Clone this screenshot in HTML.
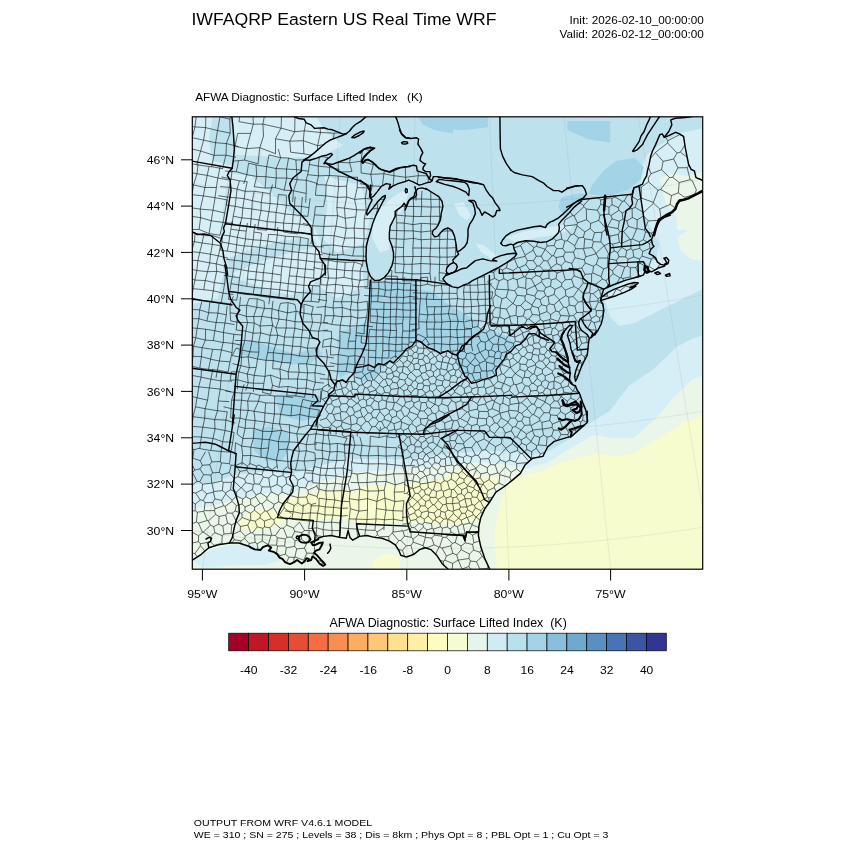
<!DOCTYPE html>
<html><head><meta charset="utf-8"><title>IWFAQRP Eastern US Real Time WRF</title>
<style>
html,body{margin:0;padding:0;background:#fff;}
body{width:850px;height:850px;overflow:hidden;position:relative;font-family:"Liberation Sans",Arial,Helvetica,sans-serif;color:#000;}
svg{position:absolute;left:0;top:0;}
text{font-family:"Liberation Sans",Arial,Helvetica,sans-serif;fill:#000;}
</style></head><body>
<svg width="850" height="850" viewBox="0 0 850 850">

<defs><clipPath id="fr"><rect x="192.3" y="116.8" width="510.4" height="452.4"/></clipPath>
<clipPath id="land"><path d="M187.3 111.8 L293.5 111.8 L293.5 116.4 L298.5 118.5 L304.1 119.2 L306.2 122.8 L311.2 124.9 L314.7 128.4 L323.9 127.7 L328.1 129.1 L332.4 129.8 L339.4 132.6 L342.9 134.1 L346.5 133.5 L342.2 135.5 L336.6 137.6 L330.9 139.7 L325.3 143.2 L319.6 148.2 L314.0 153.1 L308.4 157.4 L304.1 159.9 L309.8 160.2 L316.8 158.1 L322.5 155.9 L326.7 155.2 L330.9 153.4 L332.4 154.5 L329.5 157.4 L326.7 159.5 L323.9 163.7 L326.0 163.0 L328.1 163.7 L332.4 164.4 L338.0 162.3 L343.6 160.2 L349.3 158.1 L353.5 155.9 L357.8 153.1 L362.0 150.3 L366.2 148.2 L370.5 147.5 L374.7 148.2 L371.2 150.3 L367.6 153.1 L364.1 156.6 L362.0 160.2 L362.7 163.0 L364.8 160.2 L367.6 159.5 L371.9 161.6 L376.1 165.1 L378.9 168.6 L383.2 170.1 L387.4 171.5 L390.2 172.2 L394.5 170.1 L400.1 167.9 L405.8 167.0 L410.0 166.5 L413.6 165.3 L416.5 166.0 L417.2 170.9 L422.1 172.4 L426.4 173.8 L429.2 178.7 L432.0 180.8 L430.6 182.0 L426.4 182.9 L422.1 184.4 L419.3 185.1 L413.6 182.2 L408.7 180.1 L405.2 181.5 L398.1 183.6 L393.2 185.8 L388.9 189.3 L390.4 184.4 L386.1 183.6 L381.2 186.5 L376.9 192.1 L373.4 196.4 L370.6 197.8 L369.6 196.6 L372.1 199.9 L368.8 206.5 L366.4 213.1 L367.2 215.0 L372.9 208.1 L377.9 201.5 L382.8 196.6 L385.3 195.4 L385.3 197.4 L382.0 203.2 L378.7 209.8 L375.4 216.4 L372.9 222.9 L370.5 231.2 L368.0 239.4 L366.4 246.0 L366.0 255.9 L366.4 262.5 L368.0 270.7 L370.5 276.5 L374.6 280.6 L379.5 280.3 L384.5 277.3 L388.6 272.4 L391.9 265.8 L393.5 259.2 L393.5 252.6 L391.9 246.0 L389.4 239.4 L389.4 232.8 L390.2 226.2 L392.7 221.3 L395.2 216.4 L395.2 211.4 L398.5 208.9 L401.8 206.5 L404.2 203.2 L405.9 206.5 L408.4 201.5 L410.8 198.2 L414.9 197.4 L416.6 194.9 L415.1 192.1 L417.9 188.6 L422.1 187.9 L426.4 189.3 L425.6 188.4 L432.2 192.5 L438.8 196.6 L442.1 201.5 L442.9 206.5 L441.3 213.1 L440.5 219.6 L438.0 225.4 L435.5 228.7 L433.1 230.4 L432.2 233.6 L434.7 236.9 L438.0 236.1 L440.5 232.8 L443.8 229.5 L447.9 227.9 L452.0 230.4 L454.5 236.1 L456.1 244.4 L456.9 250.9 L458.6 254.2 L455.3 257.5 L452.8 260.0 L453.6 262.5 L450.4 264.1 L447.1 267.4 L446.2 270.7 L447.1 273.2 L445.4 275.6 L442.9 278.9 L446.2 283.1 L450.0 285.5 L449.9 285.3 L452.4 286.9 L458.1 287.8 L463.1 285.3 L468.0 283.6 L472.9 280.4 L479.5 277.1 L486.1 273.8 L492.7 270.5 L499.3 267.2 L505.9 263.1 L510.8 259.8 L514.9 256.5 L516.6 254.0 L516.6 254.0 L514.1 249.1 L513.3 244.9 L517.4 242.5 L525.6 240.8 L533.9 241.2 L540.5 242.5 L547.1 241.6 L552.0 239.2 L555.3 235.9 L558.6 232.6 L559.4 227.6 L558.6 224.4 L561.1 221.1 L564.4 217.8 L569.3 212.8 L574.2 207.1 L581.6 201.0 L581.5 199.5 L632.3 194.1 L632.2 194.0 L633.9 187.8 L638.4 186.2 L638.4 186.2 L642.5 184.2 L644.1 180.1 L646.6 175.9 L647.4 171.0 L649.1 164.4 L650.7 156.2 L652.4 151.2 L655.6 144.6 L659.8 134.8 L662.2 133.9 L664.2 137.2 L668.8 135.6 L675.4 132.3 L679.5 133.9 L683.6 136.4 L685.3 147.9 L688.6 164.4 L691.1 169.4 L694.4 171.0 L696.0 177.6 L700.1 179.2 L703.4 181.2 L707.7 181.2 L707.7 190.4 L703.4 190.4 L698.5 193.2 L693.5 195.7 L688.6 198.2 L683.6 199.8 L679.5 200.6 L677.1 203.9 L675.4 208.9 L672.1 212.2 L667.2 214.6 L662.2 217.9 L663.9 217.5 L659.8 220.8 L657.3 224.9 L655.6 229.8 L653.2 234.8 L651.5 239.7 L652.4 244.6 L654.0 246.3 L650.7 249.6 L649.1 253.7 L652.4 255.4 L655.6 257.8 L657.3 261.9 L660.6 264.4 L664.7 265.2 L668.0 263.6 L668.8 260.3 L666.4 257.5 L663.9 258.2 L665.5 260.3 L666.8 262.8 L664.7 264.1 L664.7 266.1 L658.9 267.7 L654.8 270.2 L651.5 271.8 L649.1 271.0 L647.4 272.6 L644.9 271.8 L643.3 275.1 L638.4 276.8 L632.6 278.4 L626.0 280.1 L619.4 282.5 L612.8 285.0 L607.1 287.5 L603.8 289.1 L602.1 294.1 L600.5 300.6 L602.9 303.9 L603.8 310.5 L602.9 317.1 L601.3 323.7 L598.0 330.3 L594.7 335.1 L596.4 331.1 L592.8 336.0 L590.7 338.1 L592.8 333.2 L590.0 330.4 L586.5 327.5 L583.6 323.3 L581.5 319.1 L580.1 319.1 L578.7 322.6 L579.4 326.8 L581.5 330.4 L584.4 332.5 L587.2 334.6 L589.3 338.1 L588.6 342.4 L587.9 349.1 L587.2 355.1 L584.4 360.7 L581.5 366.4 L579.4 372.0 L577.3 377.6 L575.5 381.2 L574.5 376.2 L575.9 370.6 L578.0 364.9 L580.1 360.7 L577.3 362.1 L575.2 360.7 L573.8 356.5 L572.4 352.9 L570.9 348.7 L570.2 343.8 L568.8 339.5 L567.4 335.3 L568.8 331.1 L571.6 327.5 L572.4 325.4 L569.5 325.4 L566.7 328.2 L563.9 331.8 L561.8 335.3 L561.1 339.5 L563.2 343.8 L564.6 348.0 L566.0 352.2 L567.4 356.5 L568.1 362.1 L569.5 367.8 L570.2 373.4 L569.5 379.1 L570.9 383.3 L573.8 385.4 L575.2 385.4 L577.3 390.4 L579.4 393.2 L582.9 403.1 L585.8 410.1 L587.2 417.2 L587.6 421.4 L587.2 422.5 L571.2 436.6 L566.5 437.6 L554.2 441.4 L547.6 447.0 L542.9 456.4 L532.6 458.3 L525.1 464.9 L520.4 473.4 L512.8 479.9 L504.4 486.5 L495.9 492.2 L489.3 502.5 L484.6 509.1 L480.8 517.6 L478.9 526.1 L478.4 535.5 L480.8 546.8 L484.6 558.1 L489.3 568.4 L491.2 571.2 L491.2 574.2 L449.8 574.2 L449.8 571.2 L447.9 569.0 L442.2 563.7 L436.6 555.2 L430.9 549.6 L425.3 547.7 L419.6 549.6 L414.0 554.3 L406.5 557.1 L400.8 555.2 L398.9 550.5 L395.2 544.9 L389.5 541.1 L382.0 538.3 L374.5 537.4 L366.9 535.5 L359.4 536.4 L352.8 540.2 L350.0 537.4 L348.1 530.8 L346.2 538.3 L339.6 537.4 L331.2 535.5 L323.6 536.4 L318.0 538.3 L318.2 539.4 L314.1 541.2 L311.2 542.4 L312.9 545.3 L315.9 544.7 L319.4 542.9 L322.9 542.4 L321.8 545.3 L319.4 549.4 L315.9 550.6 L314.1 552.9 L317.1 555.3 L320.6 559.4 L323.5 562.4 L325.3 564.7 L322.9 565.9 L319.4 563.5 L315.9 558.8 L312.4 556.5 L311.2 560.0 L307.6 561.2 L308.8 558.8 L306.5 558.2 L304.7 561.2 L301.8 563.5 L299.4 561.8 L297.1 560.0 L294.7 561.8 L290.0 564.1 L285.3 562.4 L282.4 558.8 L279.4 557.6 L277.1 554.1 L273.5 551.8 L268.8 550.6 L271.2 547.6 L267.6 545.3 L262.9 547.1 L260.6 550.0 L254.7 549.4 L250.0 547.1 L250.2 546.8 L238.9 543.0 L229.5 543.0 L218.2 544.9 L208.8 547.7 L201.3 554.3 L192.8 559.9 L190.9 560.9 L187.3 560.9Z M600.5 300.6 L601.3 297.4 L607.9 292.4 L614.5 289.1 L621.1 286.6 L627.6 284.2 L634.2 282.5 L638.4 283.0 L635.1 285.5 L630.1 287.5 L635.9 286.2 L630.9 289.4 L624.4 292.4 L616.1 295.7 L607.9 298.2 L600.5 300.6Z"/></clipPath></defs>
<g clip-path="url(#fr)">
<rect x="192.3" y="116.8" width="510.4" height="452.4" fill="#bde2ee"/>
<path d="M186.9 483.8 L208.4 483.8 L235.9 474.6 L266.5 471.5 L290.9 474.6 L318.5 465.4 L349.1 459.3 L373.5 459.3 L404.1 459.3 L450.0 453.8 L465.3 452.6 L480.6 451.6 L495.9 450.7 L511.2 452.6 L532.6 454.7 L550.9 450.1 L566.2 440.9 L588.9 424.1 L610.3 410.4 L628.6 385.9 L652.5 370.0 L665.3 358.0 L676.7 346.7 L692.0 339.1 L710.0 333.0 L710.0 584.7 L186.9 584.7Z" fill="#d6eef5"/>
<path d="M186.9 509.8 L214.5 505.2 L235.9 499.1 L266.5 492.9 L290.9 492.9 L318.5 482.2 L349.1 473.1 L373.5 470.9 L404.1 469.1 L450.0 463.9 L465.3 463.0 L483.6 462.4 L502.0 463.9 L526.5 468.5 L547.9 462.4 L572.4 447.1 L593.8 434.8 L612.1 437.9 L633.5 437.9 L654.9 419.5 L673.3 398.1 L691.6 379.8 L710.0 373.6 L710.0 584.7 L186.9 584.7Z" fill="#e9f6e8"/>
<path d="M497.6 574.9 L495.8 557.2 L494.2 533.6 L497.6 513.4 L506.2 486.2 L511.1 481.0 L521.2 476.1 L541.7 471.5 L562.2 462.0 L585.7 456.2 L597.9 453.2 L616.3 456.2 L634.6 453.2 L659.1 437.9 L683.6 422.6 L708.1 413.4 L708.1 572.5Z" fill="#f7fcce"/>
<path d="M278.7 511.3 L281.8 499.1 L312.4 492.9 L342.9 489.9 L355.2 492.9 L361.3 486.8 L385.8 485.3 L400.1 485.3 L411.8 482.8 L429.5 481.9 L446.9 477.0 L458.9 470.0 L465.9 468.8 L472.9 474.6 L482.4 477.0 L494.0 477.0 L499.9 478.3 L492.8 486.8 L489.5 491.1 L487.0 500.6 L482.4 512.5 L480.0 519.2 L465.0 522.9 L439.9 522.9 L420.0 522.0 L404.1 520.5 L385.8 523.5 L361.3 523.5 L342.9 517.4 L312.4 520.5 L290.9 520.5Z" fill="#f7fcce"/>
<path d="M238.9 523.5 L251.2 511.3 L269.5 508.2 L287.9 514.4 L281.8 523.5 L263.4 529.6 L245.1 529.6Z" fill="#f7fcce"/>
<path d="M646.9 154.8 L659.1 145.6 L677.5 133.4 L708.1 127.2 L708.1 286.3 L689.7 295.5 L671.4 304.6 L653.0 313.8 L634.6 323.0 L619.4 326.1 L610.2 316.9 L604.1 298.5 L616.3 286.3 L631.6 277.1 L646.9 267.9 L656.1 258.8 L659.1 243.5 L653.0 231.2 L643.8 215.9 L640.8 191.5 L640.8 170.1Z" fill="#d6eef5"/>
<path d="M659.1 179.2 L671.4 173.1 L686.6 176.2 L708.1 170.1 L708.1 261.8 L689.7 258.8 L680.5 249.6 L677.5 237.4 L686.6 231.2 L683.6 215.9 L674.4 206.8 L665.2 194.5Z" fill="#e9f6e8"/>
<path d="M662.9 178.2 L669.5 177.3 L674.2 181.1 L682.7 181.1 L688.4 182.0 L701.5 182.0 L705.0 187.6 L705.0 230.0 L677.1 230.0 L676.1 215.9 L671.4 210.2 L665.8 202.7 L662.9 195.2 L662.0 187.6Z" fill="#e9f6e8"/>
<path d="M588.8 194.5 L591.8 185.4 L604.1 170.1 L616.3 160.9 L634.6 157.8 L643.8 167.0 L640.8 179.2 L628.5 189.9 L610.2 195.1Z" fill="#a3d3e6"/>
<path d="M561.2 197.6 L579.6 193.0 L588.8 195.1 L576.5 206.8 L564.3 215.9 L558.2 206.8Z" fill="#a3d3e6"/>
<path d="M443.5 113.5 L487.8 113.5 L487.8 127.2 L463.4 130.3 L443.5 128.8Z" fill="#a3d3e6"/>
<path d="M567.4 121.1 L610.2 121.1 L610.2 142.5 L588.8 139.5 L567.4 130.3Z" fill="#a3d3e6"/>
<path d="M506.2 237.4 L524.5 231.2 L545.9 228.2 L561.2 225.1 L573.5 226.6 L561.2 234.3 L536.8 237.4 L515.4 241.9Z" fill="#d6eef5"/>
<path d="M454.2 203.7 L463.4 202.2 L471.0 215.9 L466.4 220.5 L458.8 214.4Z" fill="#d6eef5"/>
<path d="M475.6 243.5 L483.2 245.0 L497.0 255.7 L493.9 260.3 L481.7 252.6Z" fill="#d6eef5"/>
<path d="M190.0 115.0 L212.9 115.0 L209.0 139.5 L212.0 160.9 L231.3 165.5 L228.2 176.2 L223.6 206.8 L220.6 237.4 L223.6 274.1 L217.5 298.5 L190.0 304.6Z" fill="#d6eef5"/>
<path d="M232.8 115.0 L315.4 115.0 L324.6 130.3 L342.9 145.6 L321.5 156.3 L290.9 157.8 L235.9 154.8Z" fill="#d6eef5"/>
<path d="M229.8 173.1 L251.2 176.2 L269.5 191.5 L294.0 215.9 L312.4 222.1 L321.5 243.5 L324.6 267.9 L312.4 286.3 L290.9 295.5 L266.5 289.4 L242.0 280.2 L223.6 267.9 L222.1 237.4 L225.2 206.8Z" fill="#d6eef5"/>
<path d="M226.7 258.8 L251.2 249.6 L281.8 240.4 L312.4 237.4 L318.5 246.5 L290.9 252.6 L260.4 261.8 L229.8 274.1Z" fill="#bde2ee"/>
<path d="M324.6 176.2 L361.3 185.4 L370.5 215.9 L364.4 243.5 L336.8 252.6 L321.5 237.4 L327.6 206.8Z" fill="#d6eef5"/>
<path d="M373.5 215.9 L388.8 200.6 L401.1 191.5 L410.2 188.4 L404.1 206.8 L391.9 225.1 L388.8 249.6 L379.6 252.6 L372.0 237.4Z" fill="#d6eef5"/>
<path d="M324.6 261.8 L361.3 261.8 L364.4 286.3 L336.8 298.5 L318.5 286.3Z" fill="#d6eef5"/>
<path d="M416.4 113.5 L453.1 113.5 L453.1 133.4 L434.7 130.3 L422.5 124.2Z" fill="#a3d3e6"/>
<path d="M372.6 281.0 L415.9 281.0 L419.6 289.5 L430.9 291.4 L446.0 302.6 L461.1 312.1 L478.0 321.5 L478.0 330.9 L468.6 340.3 L457.3 353.5 L449.8 349.7 L438.5 351.6 L423.4 344.1 L415.9 340.3 L406.5 348.8 L397.1 359.1 L389.5 362.9 L380.1 370.4 L374.5 377.9 L365.1 381.7 L355.6 377.9 L351.9 370.4 L340.6 377.9 L336.8 370.4 L338.7 355.4 L336.8 340.3 L342.5 330.9 L355.6 327.1 L366.9 321.5 L368.8 302.6Z" fill="#a3d3e6"/>
<path d="M446.0 313.9 L457.3 321.5 L468.6 327.1 L483.6 329.0 L494.9 330.9 L510.0 338.4 L517.5 345.9 L508.1 355.4 L500.6 364.8 L493.1 374.2 L478.0 381.7 L466.7 377.9 L457.3 366.6 L453.5 355.4 L446.0 347.8Z" fill="#a3d3e6"/>
<path d="M237.1 344.1 L252.1 340.3 L274.7 347.8 L295.4 353.5 L318.0 347.8 L321.8 353.5 L310.5 362.9 L291.6 364.8 L270.9 361.0 L252.1 357.2 L238.9 353.5Z" fill="#a3d3e6"/>
<path d="M252.1 430.1 L269.1 426.3 L287.9 431.9 L289.8 448.9 L280.4 462.1 L265.3 460.2 L254.0 450.8Z" fill="#a3d3e6"/>
<path d="M274.7 394.9 L302.9 393.0 L321.8 396.8 L319.9 415.6 L302.9 421.2 L280.4 415.6Z" fill="#a3d3e6"/>
<path d="M193.1 560.2 L208.4 551.1 L226.7 545.6 L251.2 544.3 L272.6 551.1 L281.8 559.6 L266.5 564.8 L226.7 565.7 L202.2 567.9Z" fill="#d6eef5"/>
<path d="M370.5 572.5 L373.5 560.2 L385.8 554.1 L398.0 555.6 L401.1 572.5Z" fill="#f7fcce"/>
<path d="M202.4 569.2L272.8 65.4 M304.6 569.2L344.3 65.4 M406.8 569.2L415.9 65.4 M508.9 569.2L487.3 65.4 M610.6 569.2L558.5 65.4 M712.6 569.2L629.9 65.4 M175.6 179.7 L188.5 182.3 L201.4 184.7 L214.4 187.0 L227.3 189.1 L240.3 191.2 L253.4 193.1 L266.4 194.8 L279.5 196.5 L292.5 198.0 L305.6 199.4 L318.7 200.6 L331.8 201.7 L345.0 202.7 L358.1 203.6 L371.2 204.3 L384.4 204.9 L397.5 205.4 L410.7 205.7 L423.8 205.9 L437.0 206.0 L450.2 205.9 L463.3 205.7 L476.5 205.4 L489.6 204.9 L502.8 204.3 L515.9 203.6 L529.0 202.7 L542.2 201.7 L555.3 200.6 L568.4 199.4 L581.5 198.0 L594.5 196.5 L607.6 194.8 L620.6 193.1 L633.7 191.2 L646.7 189.1 L659.6 187.0 L672.6 184.7 L685.5 182.3 L698.4 179.7 M152.9 291.4 L167.0 294.2 L181.0 296.8 L195.1 299.3 L209.2 301.6 L223.3 303.8 L237.5 305.9 L251.6 307.8 L265.8 309.6 L280.0 311.3 L294.2 312.8 L308.5 314.1 L322.7 315.3 L337.0 316.4 L351.3 317.3 L365.5 318.1 L379.8 318.7 L394.1 319.3 L408.4 319.6 L422.7 319.8 L437.0 319.9 L451.3 319.8 L465.6 319.6 L479.9 319.3 L494.2 318.7 L508.5 318.1 L522.7 317.3 L537.0 316.4 L551.3 315.3 L565.5 314.1 L579.8 312.8 L594.0 311.3 L608.2 309.6 L622.4 307.8 L636.5 305.9 L650.7 303.8 L664.8 301.6 L678.9 299.3 L693.0 296.8 L707.0 294.2 L721.1 291.4 M130.2 403.3 L145.4 406.3 L160.6 409.2 L175.8 411.9 L191.0 414.4 L206.3 416.8 L221.5 419.0 L236.8 421.1 L252.2 423.0 L267.5 424.8 L282.8 426.4 L298.2 427.9 L313.6 429.2 L329.0 430.3 L344.4 431.3 L359.8 432.2 L375.3 432.9 L390.7 433.4 L406.1 433.8 L421.6 434.0 L437.0 434.1 L452.4 434.0 L467.9 433.8 L483.3 433.4 L498.7 432.9 L514.2 432.2 L529.6 431.3 L545.0 430.3 L560.4 429.2 L575.8 427.9 L591.2 426.4 L606.5 424.8 L621.8 423.0 L637.2 421.1 L652.5 419.0 L667.7 416.8 L683.0 414.4 L698.2 411.9 L713.4 409.2 L728.6 406.3 L743.8 403.3 M107.5 515.6 L123.7 518.8 L140.1 521.9 L156.4 524.7 L172.7 527.5 L189.1 530.0 L205.5 532.4 L222.0 534.7 L238.4 536.7 L254.9 538.6 L271.4 540.4 L287.9 541.9 L304.4 543.3 L321.0 544.6 L337.5 545.7 L354.1 546.6 L370.7 547.3 L387.2 547.9 L403.8 548.3 L420.4 548.6 L437.0 548.6 L453.6 548.6 L470.2 548.3 L486.8 547.9 L503.3 547.3 L519.9 546.6 L536.5 545.7 L553.0 544.6 L569.6 543.3 L586.1 541.9 L602.6 540.4 L619.1 538.6 L635.6 536.7 L652.0 534.7 L668.5 532.4 L684.9 530.0 L701.3 527.5 L717.6 524.7 L733.9 521.9 L750.3 518.8 L766.5 515.6" fill="none" stroke="#808888" stroke-opacity="0.18" stroke-width="0.7"/>
<g clip-path="url(#land)"><path d="M239.6 115.8l-0.6 5.9M253.0 115.8l0.3 8.4M264.4 115.8l-1.5 8.3M281.5 115.8l-0.4 12.3M295.0 115.8l-0.3 16.0M306.9 115.8l-2.6 15.0M319.1 118.0l1.4 14.5M239.0 121.7l14.3 2.5M253.3 124.2l9.6-0.1M253.3 124.2l-2.5 9.2M262.9 124.1l18.1 4.1M262.9 124.1l0.6 11.9M281.0 128.1l13.6 3.7M281.0 128.1l-5.5 10.6M294.7 131.8l9.6-1.0M294.7 131.8l-4.9 9.3M304.2 130.8l16.3 1.7M304.2 130.8l-0.9 9.9M320.5 132.5l13.7 0.7M320.5 132.5l-3.0 13.2M334.2 133.2l14.4-1.3M334.2 133.2l-1.7 10.1M237.7 133.4l13.0 0.0M237.7 133.4l-2.7 13.0M250.7 133.4l-4.0 15.3M263.5 136.0l-3.7 11.7M275.5 138.8l14.3 2.4M275.5 138.8l0.0 15.0M289.8 141.2l13.5-0.5M289.8 141.2l0.8 11.0M303.3 140.7l14.2 4.9M303.3 140.7l0.6 13.1M317.5 145.7l15.0-2.4M317.5 145.7l-0.1 10.5M235.0 146.4l11.6 2.2M246.7 148.6l13.0-0.9M246.7 148.6l-2.1 11.5M259.7 147.7l15.8 6.0M259.7 147.7l-1.7 16.1M290.6 152.2l13.3 1.6M303.9 153.9l13.5 2.3M317.4 156.1l10.6 1.4M233.3 161.1l11.3-1.0M244.6 160.1l13.5 3.7M278.3 149.1l2.3 8.6M269.0 154.9l11.6 2.8M269.0 154.9l-2.3 11.8M280.6 157.7l8.0 0.4M280.6 157.7l-4.5 10.8M288.6 158.1l7.4 1.9M288.6 158.1l-2.0 11.0M295.9 160.0l14.0-0.2M295.9 160.0l0.6 9.6M310.0 159.8l-1.5 11.4M238.6 160.9l-2.3 10.8M248.6 163.2l7.5 1.8M248.6 163.2l-1.8 11.5M256.1 165.0l10.6 1.7M256.1 165.0l0.6 11.4M266.7 166.6l9.3 1.9M266.7 166.6l-0.8 10.0M276.1 168.5l10.5 0.6M276.1 168.5l0.2 9.4M286.5 169.1l10.0 0.5M286.5 169.1l0.2 9.0M296.5 169.6l12.0 1.6M296.5 169.6l0.7 10.0M308.5 171.2l-2.3 9.0M224.9 171.0l11.4 0.7M236.3 171.7l10.5 2.9M246.8 174.7l9.9 1.7M246.8 174.7l-3.1 9.3M256.7 176.4l9.3 0.3M256.7 176.4l-2.5 10.4M266.0 176.7l10.3 1.3M266.0 176.7l-0.9 11.5M276.2 178.0l10.4 0.1M276.2 178.0l-0.8 9.7M286.7 178.1l10.5 1.5M286.7 178.1l-2.5 12.1M297.2 179.7l9.1 0.6M297.2 179.7l-3.7 11.1M306.3 180.2l11.7 3.5M306.3 180.2l-0.0 13.1M254.2 186.7l10.9 1.4M265.1 188.1l10.3-0.5M275.4 187.6l8.8 2.6M284.2 190.2l9.3 0.5M293.5 190.8l12.7 2.6M293.5 190.8l-0.9 11.3M306.2 193.3l-0.5 9.5M374.3 141.3l-4.7 9.3M351.3 150.3l-1.7 12.4M362.7 148.5l7.0 2.0M362.7 148.5l-1.7 12.7M338.2 162.3l11.4 0.5M338.2 162.3l0.2 9.8M349.6 162.8l11.4-1.6M349.6 162.8l2.4 8.8M361.0 161.2l12.4 3.5M361.0 161.2l0.1 11.9M373.4 164.6l11.1-1.6M373.4 164.6l-2.6 9.6M384.5 163.0l-0.5 10.7M393.8 162.7l0.1 13.0M405.2 164.9l12.7-1.9M405.2 164.9l0.5 12.5M417.9 163.0l0.4 12.8M338.3 172.1l13.6-0.5M361.1 173.0l9.6 1.3M370.8 174.3l13.1-0.5M370.8 174.3l1.5 11.6M383.9 173.7l9.9 2.0M383.9 173.7l-1.6 12.7M393.9 175.7l11.9 1.6M393.9 175.7l-0.7 10.5M405.7 177.3l12.6-1.6M405.7 177.3l-0.6 10.7M418.3 175.7l9.9 0.1M418.3 175.7l-1.2 8.1M428.2 175.8l0.0 11.8M360.1 183.6l12.2 2.3M372.3 185.9l10.1 0.5M372.3 185.9l-3.0 12.0M382.3 186.5l10.8-0.2M417.1 183.9l11.1 3.8M417.1 183.9l-1.1 16.8M382.1 196.9l11.6 1.3M205.8 115.8l-0.0 0.1M220.2 115.8l-0.2 0.9M230.9 115.8l-1.1 3.3M205.4 115.8l0.4 0.1M196.4 115.8l-1.5 11.1M205.8 115.9l14.2 0.7M205.8 115.9l-0.2 11.6M220.0 116.7l9.8 2.5M220.0 116.7l-2.5 13.9M229.8 119.1l0.4 14.0M191.3 126.5l3.7 0.4M195.0 126.9l10.7 0.7M195.0 126.9l-2.8 10.7M205.6 127.6l11.9 2.9M205.6 127.6l-2.0 12.6M217.5 130.5l12.7 2.6M217.5 130.5l-1.9 12.2M230.2 133.1l-3.9 10.5M191.3 137.5l0.8 0.1M192.1 137.6l11.4 2.6M192.1 137.6l-0.8 3.9M203.6 140.2l12.0 2.5M203.6 140.2l-3.0 10.8M215.6 142.7l10.8 0.9M215.6 142.7l-1.5 12.6M226.4 143.6l12.3 3.0M226.4 143.6l-0.4 11.6M191.3 148.8l9.3 2.3M200.6 151.0l13.4 4.3M200.6 151.0l-3.9 13.8M214.0 155.3l11.9-0.1M214.0 155.3l-2.3 11.5M225.9 155.2l10.1 2.1M225.9 155.2l-3.4 13.6M191.3 163.4l5.4 1.4M196.7 164.8l15.0 2.0M211.7 166.7l10.9 2.0M198.1 163.7l-1.1 10.0M209.1 166.6l-1.9 8.8M220.2 166.4l-2.3 11.6M191.3 172.7l5.7 1.0M197.0 173.8l10.2 1.6M197.0 173.8l-3.5 11.2M207.2 175.4l10.6 2.6M207.2 175.4l-2.3 12.1M217.8 178.0l11.7 2.1M217.8 178.0l-1.4 9.5M191.3 184.2l2.2 0.7M193.5 184.9l11.4 2.6M193.5 184.9l-1.4 9.8M204.9 187.5l11.5-0.0M204.9 187.5l-1.6 8.5M216.4 187.4l-1.4 10.3M191.3 194.6l0.7 0.1M192.0 194.7l11.2 1.2M192.0 194.7l-0.7 4.4M203.3 195.9l11.8 1.8M203.3 195.9l-3.0 13.1M215.1 197.7l12.0 2.2M215.1 197.7l-2.1 12.4M227.1 199.9l-2.3 13.1M191.3 207.8l9.0 1.3M200.3 209.1l12.6 1.1M200.3 209.1l0.3 8.7M213.0 210.2l11.9 2.8M213.0 210.2l-1.8 10.6M224.8 213.0l-1.7 9.3M191.3 216.3l9.3 1.4M200.6 217.7l10.6 3.0M200.6 217.7l-1.5 11.7M211.2 220.8l11.9 1.6M211.2 220.8l-2.2 12.7M223.1 222.3l10.4 1.3M223.1 222.3l-3.2 12.9M191.3 229.5l7.9-0.1M199.2 229.5l9.8 4.0M209.0 233.5l10.9 1.8M191.3 232.4l3.7 0.5M195.0 233.0l8.7 2.7M195.0 233.0l-0.5 8.7M203.7 235.6l9.0-0.0M203.7 235.6l-1.6 7.3M212.7 235.6l9.0 3.0M212.7 235.6l-0.3 8.8M191.3 241.3l3.1 0.4M194.4 241.7l7.7 1.3M194.4 241.7l-3.1 9.9M202.1 243.0l10.3 1.4M202.1 243.0l-2.4 9.5M212.4 244.4l8.1 1.4M212.4 244.4l-1.8 9.8M220.5 245.8l-2.1 10.0M191.3 251.6l8.4 0.9M199.7 252.5l10.8 1.7M199.7 252.5l-1.8 8.1M210.5 254.2l7.8 1.7M210.5 254.2l-0.8 8.7M218.4 255.8l9.8 2.4M218.4 255.8l-2.2 8.0M191.3 260.2l6.6 0.4M197.9 260.6l11.9 2.3M197.9 260.6l-1.1 9.9M209.8 262.9l6.4 0.9M209.8 262.9l-2.3 8.8M216.2 263.8l11.2 3.0M216.2 263.8l0.5 7.5M191.3 269.1l5.5 1.4M196.8 270.5l10.7 1.2M196.8 270.5l-1.9 9.6M207.5 271.7l9.2-0.3M207.5 271.7l-2.2 8.8M216.7 271.3l8.8 1.7M216.7 271.3l-2.3 11.2M225.5 273.0l-0.8 10.9M191.3 279.1l3.7 0.9M195.0 280.1l10.3 0.4M195.0 280.1l-1.9 8.6M205.2 280.5l9.1 2.1M205.2 280.5l-1.4 9.2M214.4 282.6l10.3 1.3M214.4 282.6l-1.1 8.3M224.6 283.9l-1.6 9.2M191.3 288.1l1.8 0.6M193.1 288.7l10.7 1.0M193.1 288.7l-1.3 9.2M203.8 289.7l9.5 1.1M213.3 290.8l9.7 2.3M213.3 290.8l-1.7 10.6M223.0 293.1l10.3 1.4M223.0 293.1l-1.8 9.4M191.3 297.9l0.4 0.1M191.7 297.9l10.1 2.5M201.8 300.4l9.8 1.0M211.6 301.5l9.6 1.1M221.2 302.6l11.4 1.7M193.1 298.7l-1.5 10.7M201.9 301.2l-2.2 8.7M209.9 301.6l-1.2 11.1M219.1 303.4l-1.2 9.6M227.1 305.8l-0.8 9.0M191.3 309.3l0.4 0.1M191.7 309.4l8.0 0.5M191.7 309.4l-0.4 4.6M199.7 309.9l9.0 2.8M199.7 309.9l-0.8 8.9M208.7 312.7l9.3 0.4M208.7 312.7l-1.9 8.3M218.0 313.1l8.3 1.7M218.0 313.1l-1.9 9.5M226.3 314.8l-1.3 8.2M191.3 318.6l7.6 0.1M198.9 318.7l7.9 2.3M198.9 318.7l-1.7 9.6M206.8 321.0l9.3 1.5M216.1 322.5l8.9 0.4M216.1 322.5l-1.2 8.3M224.9 323.0l9.6 1.6M224.9 323.0l-1.5 9.6M191.3 327.9l5.8 0.4M197.1 328.3l8.5 0.9M197.1 328.3l-1.3 9.5M205.6 329.2l9.2 1.6M205.6 329.2l-0.2 10.9M214.8 330.8l8.6 1.7M214.8 330.8l-1.4 9.8M223.5 332.5l10.4 1.8M223.5 332.5l-0.2 9.9M233.9 334.3l7.9 0.8M233.9 334.3l-1.2 9.1M191.3 336.8l4.6 1.0M195.9 337.8l9.6 2.3M195.9 337.8l-2.5 8.5M205.4 340.1l8.0 0.5M205.4 340.1l-3.3 7.6M213.4 340.6l9.8 1.9M223.2 342.4l9.4 1.0M223.2 342.4l-1.8 7.5M232.7 343.4l8.3 1.7M232.7 343.4l-0.7 9.2M191.3 345.9l2.1 0.3M193.4 346.3l8.7 1.4M193.4 346.3l-0.4 10.1M202.1 347.7l10.6 1.7M202.1 347.7l-0.7 9.1M212.7 349.3l8.8 0.6M212.7 349.3l-2.1 9.9M221.4 349.9l10.5 2.7M221.4 349.9l-2.1 11.1M232.0 352.6l-2.0 9.2M191.3 356.0l1.7 0.4M193.0 356.3l8.5 0.4M193.0 356.3l-1.5 9.8M201.4 356.7l9.2 2.4M201.4 356.7l-1.6 11.4M210.6 359.2l8.7 1.8M210.6 359.2l-2.1 10.2M219.3 361.0l10.6 0.8M219.3 361.0l-1.9 9.1M230.0 361.8l-1.9 10.2M191.3 366.1l0.1 0.0M191.4 366.1l8.4 2.1M199.9 368.2l8.6 1.2M208.5 369.4l8.9 0.7M217.4 370.1l10.7 1.9M217.4 370.1l-1.4 7.8M192.2 365.8l-0.9 4.0M201.5 368.6l-0.4 8.6M212.9 368.9l-2.0 10.3M221.9 371.4l-1.1 9.4M191.3 375.3l9.8 1.8M201.1 377.2l9.8 2.0M201.1 377.2l-2.4 9.7M210.9 379.2l9.9 1.7M210.9 379.2l-1.6 8.7M220.8 380.8l11.2 0.3M220.8 380.8l-0.5 8.2M191.3 386.0l7.5 0.8M198.8 386.9l10.5 1.0M198.8 386.9l-1.7 10.8M209.3 387.9l11.0 1.2M209.3 387.9l-1.7 12.3M220.3 389.0l10.7 2.8M220.3 389.0l-2.1 12.0M191.3 396.3l5.7 1.4M197.0 397.7l10.6 2.5M197.0 397.7l-1.5 9.1M207.6 400.2l-2.4 8.5M218.2 401.0l11.1 0.6M218.2 401.0l-0.7 9.7M195.5 406.8l9.6 1.9M195.5 406.8l-2.5 9.9M205.1 408.7l12.3 2.0M205.1 408.7l-0.4 9.5M217.5 410.7l9.9 1.2M217.5 410.7l-2.8 8.9M227.3 411.9l-1.4 8.2M191.3 416.3l1.8 0.4M193.1 416.7l11.7 1.5M193.1 416.7l-1.1 9.7M204.8 418.2l9.8 1.4M204.8 418.2l-2.0 9.0M214.6 419.6l11.3 0.5M214.6 419.6l0.4 9.1M225.9 420.1l9.6 3.0M225.9 420.1l-0.9 10.4M192.0 426.4l10.8 0.8M192.0 426.4l-0.7 6.4M202.8 427.2l12.3 1.5M202.8 427.2l-1.5 9.9M215.1 428.7l9.9 1.8M215.1 428.7l-2.1 9.7M225.0 430.5l9.2 2.0M225.0 430.5l-2.3 11.2M234.1 432.6l-1.4 9.8M191.3 436.7l10.0 0.3M201.3 437.1l11.7 1.4M201.3 437.1l-1.5 11.5M213.0 438.4l9.7 3.3M213.0 438.4l-2.2 12.1M222.7 441.7l10.1 0.7M222.7 441.7l-1.6 9.8M232.8 442.4l-2.0 9.8M199.8 448.6l11.0 2.0M210.7 450.5l10.3 1.0M221.1 451.5l9.7 0.7M221.1 451.5l-0.8 10.8M230.8 452.3l-1.2 11.3M232.1 170.4l-1.1 8.7M221.4 176.9l9.7 2.1M231.0 179.1l8.4 1.7M231.0 179.1l-1.8 8.3M239.4 180.8l7.9 0.9M239.4 180.8l-2.3 8.3M247.3 181.7l-2.2 9.6M272.5 184.5l-2.4 9.2M220.1 186.6l9.2 0.8M229.3 187.4l7.8 1.7M229.3 187.4l-1.7 9.7M237.1 189.1l8.1 2.2M237.1 189.1l-1.0 8.7M245.2 191.3l9.0-0.1M245.2 191.3l-1.0 7.4M254.2 191.3l8.6 1.2M254.2 191.3l-1.9 9.5M262.8 192.5l7.3 1.2M262.8 192.5l-1.6 10.1M270.1 193.7l-0.0 9.8M278.4 194.5l7.9 0.8M278.4 194.5l-0.9 9.7M286.4 195.4l0.0 9.9M295.2 196.6l-0.8 9.4M302.4 197.1l-0.9 9.3M310.1 198.2l-1.1 9.5M218.4 195.7l9.2 1.4M227.6 197.1l8.5 0.8M227.6 197.1l-1.4 8.0M236.1 197.8l8.1 0.9M236.1 197.8l-0.9 8.4M244.2 198.7l8.1 2.0M244.2 198.7l-1.4 9.4M252.3 200.7l8.9 1.8M252.3 200.7l-0.4 8.3M261.2 202.6l8.9 1.0M261.2 202.6l-0.1 7.8M270.1 203.5l7.4 0.7M270.1 203.5l-1.2 8.2M277.6 204.2l8.8 1.0M277.6 204.2l-1.5 8.2M286.4 205.3l8.0 0.8M286.4 205.3l-1.4 8.8M294.4 206.0l7.1 0.4M294.4 206.0l-1.2 8.7M301.5 206.4l7.4 1.3M301.5 206.4l-0.6 9.2M309.0 207.7l-1.2 8.7M226.3 205.1l8.9 1.2M235.2 206.2l7.6 1.8M235.2 206.2l-2.0 10.0M242.8 208.0l9.1 0.9M242.8 208.0l-0.8 9.9M251.8 209.0l9.3 1.4M251.8 209.0l-0.7 9.8M261.1 210.4l7.8 1.3M261.1 210.4l-2.1 9.6M268.9 211.7l7.1 0.7M268.9 211.7l-1.7 9.9M276.0 212.4l9.0 1.6M276.0 212.4l-0.3 9.9M285.0 214.0l8.2 0.7M285.0 214.0l-1.4 9.1M293.2 214.7l7.7 0.9M293.2 214.7l-0.7 8.9M300.9 215.6l6.8 0.8M300.9 215.6l-1.1 8.5M233.2 216.2l8.7 1.7M233.2 216.2l-1.3 8.9M241.9 217.9l9.2 0.9M241.9 217.9l-2.2 7.6M251.1 218.8l7.9 1.2M251.1 218.8l-0.9 9.2M259.0 220.0l8.2 1.6M259.0 220.0l-1.5 9.5M267.2 221.6l8.5 0.7M267.2 221.6l-0.3 8.5M275.7 222.3l7.9 0.8M275.7 222.3l-1.1 9.0M283.6 223.2l8.9 0.4M283.6 223.2l-0.1 8.8M292.5 223.6l7.3 0.5M292.5 223.6l-1.3 9.5M299.8 224.1l8.7 1.6M299.8 224.1l-1.8 9.6M257.5 229.5l9.4 0.7M283.4 232.0l7.8 1.2M291.2 233.2l6.8 0.6M232.3 220.9l-1.4 8.2M240.8 221.9l-1.7 8.5M247.4 223.0l-1.1 8.0M255.2 224.0l-1.4 7.9M277.8 227.2l-0.5 7.6M230.9 229.2l8.2 1.2M230.9 229.2l-1.1 6.7M239.0 230.4l7.2 0.6M239.0 230.4l-1.7 7.0M246.2 231.0l-0.7 7.9M253.9 232.0l7.6 1.1M253.9 232.0l-0.7 7.8M261.5 233.1l-0.8 7.3M268.5 234.4l8.8 0.4M268.5 234.4l-0.7 6.6M277.3 234.9l8.2 1.3M277.3 234.9l-1.0 7.5M285.4 236.2l8.2 0.5M285.4 236.2l-0.9 7.5M293.6 236.7l7.0 0.5M293.6 236.7l-0.6 7.6M300.6 237.3l7.7 1.5M300.6 237.3l-0.8 8.1M308.3 238.8l-0.6 6.6M222.7 234.9l7.0 1.0M222.7 234.9l-0.8 7.1M229.7 235.8l7.6 1.6M229.7 235.8l-0.9 7.5M237.3 237.4l8.2 1.5M237.3 237.4l-0.6 7.4M245.6 238.9l7.6 0.9M245.6 238.9l-1.3 7.0M253.1 239.8l7.6 0.5M253.1 239.8l-1.2 6.7M260.7 240.3l7.1 0.7M260.7 240.3l-0.9 7.0M267.8 241.1l8.5 1.3M267.8 241.1l-1.3 7.5M276.3 242.4l8.2 1.3M276.3 242.4l-0.9 7.3M284.5 243.6l8.5 0.7M284.5 243.6l-1.0 6.7M293.0 244.3l6.9 1.0M293.0 244.3l-0.9 7.3M299.9 245.3l7.8 0.1M299.9 245.3l-1.2 7.0M307.7 245.4l8.1 1.2M307.7 245.4l-0.6 7.9M315.8 246.7l7.7 0.1M315.8 246.7l-0.6 7.5M222.0 242.0l6.9 1.3M222.0 242.0l-1.8 8.1M228.8 243.3l7.9 1.5M228.8 243.3l-1.6 7.8M236.7 244.8l7.5 1.2M236.7 244.8l-0.9 7.5M244.3 245.9l7.6 0.5M244.3 245.9l-1.7 7.8M251.9 246.5l7.9 0.9M251.9 246.5l-0.7 8.4M259.8 247.4l6.7 1.2M259.8 247.4l-1.0 7.8M266.5 248.6l8.9 1.0M266.5 248.6l-0.4 7.9M275.4 249.6l8.1 0.7M275.4 249.6l-0.7 7.8M283.5 250.4l8.6 1.3M283.5 250.4l-0.5 8.1M292.1 251.7l6.6 0.7M292.1 251.7l-0.6 7.8M298.7 252.3l8.4 1.0M298.7 252.3l-0.6 7.5M307.1 253.3l8.1 0.9M307.1 253.3l-0.7 7.6M315.2 254.2l7.6 0.6M315.2 254.2l-0.5 7.7M220.2 250.1l7.0 1.1M227.2 251.1l8.6 1.2M235.9 252.3l6.8 1.4M235.9 252.3l-1.6 7.9M242.6 253.7l8.6 1.1M242.6 253.7l-0.3 7.5M251.2 254.8l7.7 0.3M251.2 254.8l-1.6 7.7M258.8 255.1l7.3 1.4M258.8 255.1l-1.1 8.6M266.1 256.5l8.5 0.9M266.1 256.5l-1.5 7.9M274.7 257.5l8.3 1.0M274.7 257.5l-1.2 8.0M283.0 258.4l8.5 1.0M283.0 258.4l-1.1 7.9M291.5 259.4l6.6 0.4M291.5 259.4l-1.1 8.0M298.1 259.8l8.3 1.1M298.1 259.8l-0.1 8.6M306.4 260.9l8.3 1.0M306.4 260.9l-1.1 8.1M314.7 261.9l7.6 0.4M314.7 261.9l-0.7 8.0M226.2 259.4l8.0 0.8M234.3 260.2l8.1 1.0M234.3 260.2l-0.7 8.0M242.3 261.2l7.3 1.3M242.3 261.2l-1.2 8.4M249.6 262.5l8.1 1.3M249.6 262.5l-1.4 8.5M257.7 263.8l6.9 0.7M257.7 263.8l-1.3 8.1M264.7 264.5l-1.2 8.2M273.5 265.5l8.4 0.8M273.5 265.5l-1.1 8.1M281.9 266.3l8.5 1.1M281.9 266.3l-0.8 8.6M290.4 267.4l7.6 0.9M290.4 267.4l-1.1 8.5M298.0 268.4l7.4 0.7M298.0 268.4l-1.5 7.9M305.4 269.0l8.7 0.9M305.4 269.0l-0.9 8.4M314.1 269.9l-0.6 8.3M225.1 267.8l8.5 0.4M233.6 268.3l7.5 1.4M233.6 268.3l-1.2 8.5M241.1 269.7l7.1 1.3M241.1 269.7l-1.4 7.9M248.2 271.0l8.3 0.9M248.2 271.0l-0.8 8.0M256.4 271.9l7.0 0.8M256.4 271.9l-0.8 8.0M263.4 272.6l9.0 1.0M263.4 272.6l-0.5 8.1M272.5 273.6l8.7 1.4M272.5 273.6l-0.8 8.2M281.2 275.0l-0.6 7.6M289.3 275.9l7.1 0.4M289.3 275.9l-1.0 7.7M296.5 276.3l8.0 1.1M296.5 276.3l-0.5 8.2M304.5 277.4l9.0 0.8M304.5 277.4l-0.6 8.0M313.5 278.2l7.3 0.7M320.7 278.9l-0.8 7.3M224.1 275.4l8.3 1.4M232.4 276.8l7.3 0.8M232.4 276.8l-1.5 6.8M239.7 277.6l-1.1 7.3M247.3 279.0l8.3 0.9M247.3 279.0l-0.5 7.4M255.6 279.9l7.3 0.9M255.6 279.9l-1.4 7.5M262.9 280.8l8.7 1.0M262.9 280.8l-1.1 7.3M271.6 281.8l9.0 0.8M271.6 281.8l-0.7 7.1M280.6 282.6l7.7 1.1M280.6 282.6l-0.9 7.3M288.3 283.6l7.7 0.8M288.3 283.6l-0.6 7.2M296.0 284.4l8.0 1.0M296.0 284.4l-0.6 7.7M303.9 285.4l8.6 0.1M303.9 285.4l-0.5 7.3M312.6 285.5l7.4 0.6M312.6 285.5l-0.8 8.3M319.9 286.2l-0.0 8.1M231.0 283.6l7.6 1.3M231.0 283.6l-1.3 8.0M238.6 284.9l8.2 1.5M238.6 284.9l-0.6 8.1M246.8 286.4l7.4 1.0M254.2 287.4l7.7 0.7M254.2 287.4l-1.0 7.6M261.9 288.1l9.1 0.8M261.9 288.1l-1.2 8.1M270.9 288.9l8.8 0.9M270.9 288.9l-1.1 8.5M279.7 289.8l7.9 1.0M279.7 289.8l-0.9 8.5M287.6 290.8l7.7 1.3M287.6 290.8l-0.7 8.4M295.3 292.2l8.1 0.6M295.3 292.2l-1.4 7.9M303.5 292.7l8.3 1.1M303.5 292.7l-0.9 8.5M311.7 293.8l8.1 0.5M311.7 293.8l-0.5 7.6M319.9 294.3l7.0 0.3M319.9 294.3l-0.9 7.9M229.7 291.6l8.3 1.4M229.7 291.6l-1.3 7.8M237.9 293.0l7.4 1.4M237.9 293.0l-1.2 7.2M245.3 294.4l7.9 0.5M253.2 294.9l7.5 1.2M260.7 296.2l9.1 1.2M269.8 297.4l9.0 0.9M269.8 297.4l-1.0 6.9M278.8 298.3l8.1 0.9M287.0 299.2l7.0 0.9M302.6 301.2l8.7 0.2M302.6 301.2l-0.8 6.8M311.3 301.4l7.7 0.8M228.4 299.4l8.4 0.8M233.3 296.3l-3.2 8.2M240.5 296.9l-0.8 8.5M249.0 298.6l8.2 0.2M249.0 298.6l-2.3 6.7M257.2 298.8l7.0 2.4M257.2 298.8l-0.4 8.4M264.2 301.3l0.2 7.0M273.0 300.9l-0.9 7.9M280.5 303.3l7.5-0.7M280.5 303.3l-2.0 7.2M288.1 302.6l6.9 1.8M288.1 302.6l-0.6 10.3M295.0 304.4l1.1 6.9M303.9 304.2l9.5 2.5M303.9 304.2l0.1 9.0M313.3 306.6l-1.9 7.8M230.1 304.6l-0.0 8.2M239.7 305.4l6.9-0.1M239.7 305.4l-2.0 8.3M246.7 305.3l10.2 2.0M246.7 305.3l-0.4 11.1M256.8 307.2l7.5 1.1M256.8 307.2l-3.2 9.4M264.4 308.3l7.7 0.4M264.4 308.3l-2.6 8.1M272.1 308.8l6.4 1.8M272.1 308.8l-0.7 9.1M278.5 310.5l9.0 2.4M278.5 310.5l0.5 8.6M287.5 312.9l8.7-1.6M287.5 312.9l-1.1 7.1M296.1 311.3l7.8 1.8M296.1 311.3l-1.1 10.5M303.9 313.1l7.5 1.3M303.9 313.1l-1.2 8.7M311.4 314.4l10.0-0.1M311.4 314.4l1.1 7.7M321.4 314.3l-0.5 8.6M230.1 312.8l7.7 1.0M230.1 312.8l0.6 8.1M237.7 313.7l8.6 2.7M237.7 313.7l-0.9 8.6M246.3 316.4l7.3 0.2M246.3 316.4l1.2 6.1M253.7 316.6l8.1-0.2M253.7 316.6l0.5 6.5M261.8 316.4l9.6 1.4M261.8 316.4l-1.7 9.6M271.4 317.8l7.6 1.3M271.4 317.8l1.3 7.6M279.0 319.1l7.4 0.9M279.0 319.1l-3.1 8.8M286.4 320.0l8.7 1.7M286.4 320.0l-0.2 8.0M295.0 321.8l7.7 0.1M295.0 321.8l-0.1 6.5M302.8 321.8l9.8 0.3M302.8 321.8l-0.1 8.2M312.6 322.1l8.3 0.8M312.6 322.1l-2.3 8.4M320.9 323.0l7.0-0.3M320.9 323.0l-2.2 8.2M230.7 320.8l6.2 1.5M236.9 322.4l10.6 0.2M236.9 322.4l-0.7 7.6M247.5 322.5l6.7 0.5M247.5 322.5l-1.7 8.4M254.2 323.1l5.9 3.0M254.2 323.1l-1.1 10.1M260.1 326.0l12.6-0.6M260.1 326.0l0.7 6.9M272.6 325.4l3.3 2.5M272.6 325.4l-2.5 9.9M275.9 327.9l10.2 0.1M275.9 327.9l1.8 7.3M286.1 328.0l8.8 0.2M286.1 328.0l-1.6 8.9M294.9 328.3l7.7 1.7M294.9 328.3l-1.7 8.8M302.6 330.0l7.6 0.5M302.6 330.0l-1.1 7.6M310.3 330.5l8.4 0.7M310.3 330.5l-1.0 7.6M318.6 331.2l9.3-1.2M318.6 331.2l-0.2 7.9M236.2 330.0l9.5 1.0M245.7 331.0l7.4 2.2M245.7 331.0l-0.9 9.5M253.1 333.2l7.6-0.3M253.1 333.2l-1.1 7.9M260.7 332.9l9.4 2.4M260.7 332.9l-1.9 9.3M270.1 335.3l7.7-0.1M270.1 335.3l-1.1 7.8M277.8 335.2l6.8 1.8M277.8 335.2l-2.0 9.4M284.6 337.0l8.7 0.2M284.6 337.0l-0.8 8.0M293.3 337.1l8.3 0.5M293.3 337.1l-0.7 9.1M301.5 337.6l7.7 0.5M301.5 337.6l-0.7 8.9M309.3 338.1l9.2 1.0M309.3 338.1l-2.0 10.2M235.1 340.5l9.8-0.0M244.8 340.5l7.2 0.6M244.8 340.5l-2.8 9.5M252.0 341.1l6.8 1.2M252.0 341.1l-2.2 10.8M258.8 342.2l10.2 0.9M258.8 342.2l0.1 10.0M269.0 343.1l6.8 1.5M269.0 343.1l-1.2 9.5M275.7 344.6l8.1 0.3M275.7 344.6l-2.4 8.0M283.8 345.0l8.8 1.2M283.8 345.0l-0.8 8.9M292.6 346.2l8.2 0.3M292.6 346.2l-1.1 8.2M300.9 346.6l6.4 1.7M300.9 346.6l-1.5 9.4M307.3 348.2l10.7-0.3M307.3 348.2l1.5 8.3M318.0 348.0l-2.1 7.9M326.3 349.3l1.1 7.7M236.2 348.0l5.8 2.0M236.2 348.0l-4.0 7.6M242.0 350.0l7.8 1.8M242.0 350.0l-0.4 7.4M249.8 351.8l9.1 0.4M249.8 351.8l-1.7 4.9M258.9 352.3l-1.4 6.7M267.7 352.6l5.6 0.1M267.7 352.6l-1.7 7.7M273.3 352.7l9.7 1.2M273.3 352.7l-0.0 8.0M283.0 353.9l8.5 0.5M283.0 353.9l-1.2 8.6M291.5 354.4l7.9 1.6M291.5 354.4l-0.8 8.4M299.4 356.0l9.4 0.5M308.8 356.5l7.1-0.6M308.8 356.5l-2.2 7.4M315.9 355.9l11.5 1.1M315.9 355.9l0.2 9.3M327.4 357.0l6.5 1.0M327.4 357.0l-1.4 9.5M232.2 355.6l9.5 1.8M241.6 357.4l6.5-0.6M241.6 357.4l-0.6 8.3M248.1 356.8l9.4 2.2M248.1 356.8l1.3 10.9M257.5 359.0l8.4 1.3M257.5 359.0l-1.3 8.3M266.0 360.3l7.3 0.3M266.0 360.3l-0.3 7.2M273.3 360.6l8.5 1.8M273.3 360.6l-0.7 8.0M281.8 362.4l8.8 0.4M281.8 362.4l-1.9 6.7M290.6 362.8l-2.4 9.1M298.4 363.8l8.2 0.0M298.4 363.8l0.7 8.3M306.6 363.9l9.5 1.3M306.6 363.9l1.0 9.0M316.1 365.2l9.9 1.3M316.1 365.2l-1.2 7.5M326.0 366.5l8.3-0.3M232.5 363.6l8.5 2.1M241.0 365.7l8.5 2.0M241.0 365.7l-2.1 6.1M249.4 367.7l6.8-0.3M249.4 367.7l-2.2 6.3M256.2 367.3l-2.0 8.1M265.7 367.5l-0.6 8.9M272.6 368.7l7.2 0.4M279.9 369.1l8.4 2.8M279.9 369.1l0.8 9.8M288.2 371.9l10.9 0.3M288.2 371.9l0.3 7.2M299.1 372.2l8.5 0.7M299.1 372.2l-1.6 6.8M307.6 372.9l7.4-0.1M307.6 372.9l-0.7 7.0M314.9 372.7l10.2 2.2M314.9 372.7l0.4 9.6M231.4 371.9l7.5-0.1M231.4 371.9l-1.2 8.3M238.9 371.8l8.4 2.2M238.9 371.8l-1.2 8.0M247.3 374.0l6.9 1.4M247.3 374.0l0.9 8.8M254.2 375.4l10.8 1.0M254.2 375.4l-0.9 7.8M265.0 376.4l5.3-1.4M265.0 376.4l-1.1 7.0M270.4 375.0l10.4 3.9M270.4 375.0l2.1 10.2M280.7 378.9l7.8 0.1M280.7 378.9l-1.9 8.4M288.5 379.0l9.0-0.0M297.5 379.0l9.4 0.8M297.5 379.0l0.1 9.4M306.9 379.8l8.5 2.5M306.9 379.8l-0.7 8.3M315.4 382.3l8.5 0.8M315.4 382.3l-2.3 7.8M230.2 380.2l7.5-0.4M237.7 379.8l10.5 2.9M237.7 379.8l-0.4 9.5M248.2 382.7l5.1 0.5M248.2 382.7l-2.5 7.8M253.3 383.2l10.6 0.1M253.3 383.2l0.2 8.6M263.9 383.4l-1.4 9.1M272.5 385.2l6.4 2.1M272.5 385.2l-1.8 9.1M278.9 387.3l9.2-0.9M288.1 386.4l9.5 2.0M288.1 386.4l-1.4 9.5M297.6 388.4l8.6-0.3M297.6 388.4l-1.9 7.5M306.2 388.1l6.9 1.9M306.2 388.1l-1.6 9.3M313.1 390.1l9.9-1.4M313.1 390.1l-0.3 7.9M262.5 392.4l8.2 1.9M286.7 396.0l9.1-0.1M295.7 395.9l8.9 1.5M235.3 382.5l-1.2 9.9M244.1 384.3l-2.4 9.0M320.9 390.6l-0.5 11.4M225.2 390.9l8.9 1.5M234.1 392.4l7.6 0.8M234.1 392.4l-2.5 7.6M241.8 393.2l8.9-0.1M241.8 393.2l-0.2 6.9M250.7 393.1l9.3 2.3M250.7 393.1l-3.0 7.9M259.9 395.4l7.5-0.3M259.9 395.4l-1.4 5.8M267.4 395.1l7.3 0.9M274.7 396.0l9.1 0.2M274.7 396.0l-0.1 7.2M283.9 396.2l9.0 1.3M283.9 396.2l-0.8 8.3M302.8 399.4l9.4 2.1M302.8 399.4l-1.6 7.0M312.2 401.5l8.1 0.4M312.2 401.5l-2.5 7.0M231.6 400.1l10.0 0.1M231.6 400.1l-0.5 8.6M241.5 400.2l6.1 0.9M241.5 400.2l-1.0 9.9M247.7 401.1l10.9 0.1M247.7 401.1l0.5 9.3M258.6 401.2l7.1 1.7M258.6 401.2l-4.6 10.1M265.7 402.9l8.9 0.2M265.7 402.9l-0.8 9.9M274.6 403.2l8.5 1.3M274.6 403.2l-0.2 10.8M283.1 404.5l8.8 0.6M283.1 404.5l-2.5 9.8M291.8 405.1l9.4 1.4M291.8 405.1l-0.8 10.7M301.2 406.5l8.6 2.1M301.2 406.5l-1.3 8.0M309.8 408.5l9.8 1.7M309.8 408.5l-1.0 8.0M319.6 410.3l-2.6 7.2M223.5 406.7l7.5 1.9M231.0 408.6l9.5 1.4M231.0 408.6l-0.3 9.4M240.6 410.0l7.6 0.4M240.6 410.0l-0.4 8.1M248.2 410.4l5.8 0.8M248.2 410.4l-2.5 9.3M254.0 411.3l10.9 1.6M254.0 411.3l1.1 9.5M264.9 412.9l9.5 1.1M264.9 412.9l-0.3 9.0M274.4 413.9l6.2 0.3M274.4 413.9l-1.4 9.5M280.5 414.3l10.5 1.5M280.5 414.3l-1.0 9.7M291.1 415.8l8.8-1.3M299.9 414.5l8.8 2.1M299.9 414.5l-0.9 13.1M308.7 416.6l8.2 0.9M308.7 416.6l-0.3 8.7M317.0 417.4l0.9 8.9M230.7 418.0l9.4 0.1M240.1 418.1l5.6 1.6M240.1 418.1l-1.8 8.3M245.7 419.7l9.4 1.0M245.7 419.7l-0.5 8.6M255.1 420.7l9.4 1.2M255.1 420.7l-1.0 7.6M264.5 421.9l8.4 1.5M264.5 421.9l-1.9 9.4M272.9 423.4l6.6 0.5M272.9 423.4l-0.9 8.0M279.6 424.0l9.8 0.8M279.6 424.0l1.9 6.3M289.4 424.8l9.7 2.7M289.4 424.8l0.3 7.7M299.0 427.5l9.4-2.3M299.0 427.5l-2.3 6.3M308.4 425.3l9.5 1.1M317.9 426.3l-2.1 8.6M238.3 426.4l6.9 2.0M238.3 426.4l-1.3 7.6M245.2 428.3l8.9 0.0M245.2 428.3l-2.4 10.1M254.1 428.4l8.5 2.9M254.1 428.4l-0.8 9.9M262.7 431.3l9.4 0.2M262.7 431.3l-0.4 7.9M272.1 431.5l9.4-1.2M272.1 431.5l-2.7 8.1M281.4 430.3l8.2 2.2M281.4 430.3l-3.1 11.4M289.6 432.5l7.2 1.3M289.6 432.5l-0.4 9.4M296.8 433.8l11.7 0.8M296.8 433.8l1.1 8.6M308.5 434.6l-2.2 10.1M237.0 434.0l5.8 4.5M242.9 438.5l10.5-0.2M242.9 438.5l-1.2 7.6M253.3 438.3l9.0 0.9M253.3 438.3l-2.4 8.9M262.3 439.2l7.1 0.4M262.3 439.2l-1.3 9.5M269.3 439.6l9.0 2.1M269.3 439.6l-0.7 8.4M278.4 441.7l10.8 0.2M278.4 441.7l0.3 7.9M289.2 441.9l8.7 0.5M289.2 441.9l-2.3 7.3M297.9 442.4l8.4 2.3M297.9 442.4l1.4 8.9M306.3 444.7l10.7-0.8M306.3 444.7l-0.0 6.1M235.5 442.7l6.1 3.4M235.5 442.7l-0.6 11.7M241.7 446.1l9.2 1.1M241.7 446.1l1.0 9.6M250.9 447.2l10.0 1.5M250.9 447.2l-0.2 8.2M260.9 448.7l7.7-0.7M260.9 448.7l0.3 8.7M268.7 448.0l-2.1 9.8M278.7 449.6l8.2-0.4M278.7 449.6l-2.3 10.6M286.9 449.2l12.4 2.1M286.9 449.2l0.9 12.3M299.3 451.3l7.0-0.5M299.3 451.3l-1.6 9.2M306.3 450.8l8.7 2.2M306.3 450.8l-2.1 10.3M315.0 453.1l0.4 7.4M242.6 455.7l8.1-0.2M242.6 455.7l-0.7 9.5M250.7 455.4l10.6 1.9M250.7 455.4l-1.0 8.9M261.3 457.3l5.3 0.5M266.6 457.8l9.8 2.4M266.6 457.8l1.4 9.5M276.4 460.2l11.4 1.2M276.4 460.2l1.2 8.5M287.8 461.5l9.9-0.9M287.8 461.5l0.4 6.6M297.7 460.5l6.5 0.6M297.7 460.5l-2.3 9.6M304.1 461.1l11.3-0.7M304.1 461.1l1.6 8.9M315.4 460.5l-2.2 10.5M288.1 468.0l7.2 2.1M295.4 470.2l10.4-0.1M305.7 470.1l7.4 0.9M305.7 470.1l-2.3 8.2M319.5 155.5l-1.3 10.6M330.7 157.0l-1.2 10.3M309.3 164.4l8.9 1.7M318.2 166.1l11.2 1.2M318.2 166.1l0.3 9.7M329.5 167.3l9.9 2.2M329.5 167.3l-0.1 8.3M307.8 174.7l10.7 1.1M318.5 175.8l10.8-0.3M318.5 175.8l-2.0 8.8M329.3 175.5l8.7 0.5M329.3 175.5l-3.3 9.5M338.1 176.0l10.0 1.3M338.1 176.0l0.6 10.6M348.0 177.4l9.5-0.2M348.0 177.4l-1.4 8.8M357.5 177.2l-0.3 10.5M316.5 184.6l9.5 0.4M316.5 184.6l-1.1 10.6M326.1 185.0l12.6 1.6M326.1 185.0l-0.4 10.8M338.6 186.6l8.0-0.5M338.6 186.6l-1.1 10.8M346.6 186.1l0.1 10.8M357.2 187.6l9.8 0.3M357.2 187.6l-2.5 11.7M367.0 188.0l-1.8 10.4M315.4 195.2l10.2 0.6M325.7 195.8l11.8 1.6M325.7 195.8l-2.1 10.8M337.5 197.4l9.2-0.4M337.5 197.4l-0.6 10.2M346.7 197.0l8.0 2.4M346.7 197.0l-2.2 11.2M354.6 199.4l10.5-0.9M354.6 199.4l2.1 10.4M365.2 198.4l11.7 1.2M365.2 198.4l1.0 11.6M376.9 199.7l9.8-0.6M376.9 199.7l0.8 8.5M315.3 206.6l8.3 0.0M315.3 206.6l-0.8 8.3M336.8 207.5l7.6 0.6M336.8 207.5l0.7 8.1M344.5 208.2l12.2 1.6M344.5 208.2l0.7 10.1M356.7 209.8l9.4 0.2M356.7 209.8l-0.9 7.1M366.2 210.0l11.5-1.8M366.2 210.0l-1.9 8.6M377.7 208.2l7.8 4.1M377.7 208.2l-2.3 10.5M314.5 214.9l10.6 0.6M314.5 214.9l-1.8 10.9M325.1 215.6l12.4 0.1M325.1 215.6l-1.2 10.8M337.6 215.6l7.6 2.7M337.6 215.6l-1.5 10.5M345.2 218.3l10.6-1.4M345.2 218.3l1.0 9.9M355.8 216.9l-1.6 11.2M364.3 218.6l11.1 0.1M364.3 218.6l-0.3 10.1M302.8 223.3l9.9 2.5M312.7 225.8l11.2 0.6M312.7 225.8l0.1 9.6M323.9 226.4l12.1-0.3M323.9 226.4l-0.7 8.9M336.0 226.1l10.2 2.2M336.0 226.1l-1.9 9.6M346.2 228.3l8.0-0.2M346.2 228.3l-1.5 10.0M354.2 228.1l9.7 0.6M354.2 228.1l0.4 9.9M363.9 228.7l12.3 1.1M363.9 228.7l0.2 10.0M300.7 232.2l12.2 3.2M312.8 235.4l10.5-0.1M312.8 235.4l-2.0 8.7M323.3 235.3l10.8 0.4M323.3 235.3l-2.0 10.2M334.1 235.7l10.6 2.5M334.1 235.7l-0.7 9.4M344.7 238.2l9.9-0.3M344.7 238.2l-2.2 8.2M354.6 238.0l9.5 0.8M354.6 238.0l-0.3 9.4M364.1 238.8l12.3-0.5M364.1 238.8l-0.9 8.2M321.3 245.4l12.2-0.3M321.3 245.4l0.1 7.4M333.5 245.1l9.0 1.3M333.5 245.1l-0.8 10.1M342.5 246.4l11.8 0.9M342.5 246.4l0.7 8.2M354.3 247.3l8.9-0.4M354.3 247.3l-1.6 8.7M363.2 246.9l10.7 0.9M363.2 246.9l0.3 9.2M321.4 252.8l11.3 2.3M332.7 255.2l10.5-0.6M343.2 254.6l9.5 1.4M352.7 256.0l10.8 0.1M363.5 256.1l9.8 1.1M363.5 256.1l-1.1 10.4M330.0 252.5l-1.7 7.4M337.7 254.0l-0.4 7.7M322.4 259.8l5.9 0.2M322.4 259.8l-0.3 9.5M328.3 260.0l8.9 1.8M328.3 260.0l-0.6 8.6M337.3 261.7l7.9 0.7M337.3 261.7l-0.7 7.7M345.2 262.4l9.0-0.4M345.2 262.4l-0.5 8.0M354.2 262.0l7.7 2.5M354.2 262.0l-2.0 8.7M361.9 264.5l-1.8 6.8M369.2 263.2l-0.8 8.8M313.6 267.7l8.5 1.6M322.1 269.3l5.6-0.6M322.1 269.3l-1.3 7.4M327.7 268.6l8.9 0.8M327.7 268.6l0.8 9.4M336.6 269.4l8.1 1.0M336.6 269.4l-0.2 8.8M344.7 270.4l7.5 0.3M344.7 270.4l-0.7 6.9M352.3 270.7l7.9 0.5M352.3 270.7l-0.3 8.3M360.2 271.3l8.2 0.7M360.2 271.3l-0.1 9.0M368.4 272.0l-0.4 7.3M320.8 276.7l7.7 1.4M320.8 276.7l0.1 8.0M328.5 278.0l7.9 0.2M328.5 278.0l-1.5 7.1M336.4 278.2l7.7-0.8M336.4 278.2l-0.8 6.2M344.1 277.4l7.9 1.6M351.9 279.0l8.1 1.3M351.9 279.0l0.8 7.2M360.0 280.3l7.9-1.0M360.0 280.3l-1.9 6.6M368.0 279.3l-0.1 7.2M320.8 284.7l6.2 0.4M327.0 285.1l8.5-0.7M327.0 285.1l-0.9 7.3M335.6 284.4l7.0 1.0M335.6 284.4l-0.7 8.7M342.6 285.4l10.1 0.8M342.6 285.4l0.9 8.3M352.8 286.2l5.4 0.7M352.8 286.2l-1.6 9.1M358.2 286.9l9.7-0.4M358.2 286.9l0.9 7.7M326.1 292.4l8.7 0.7M326.1 292.4l0.4 8.3M334.9 293.1l8.6 0.6M334.9 293.1l-1.2 8.4M343.5 293.7l7.7 1.6M343.5 293.7l-1.9 8.2M351.2 295.3l7.9-0.7M351.2 295.3l0.5 6.4M359.0 294.6l-1.5 8.3M317.8 299.5l8.8 1.1M326.6 300.7l-1.3 5.9M333.6 301.5l8.0 0.4M333.6 301.5l-0.6 6.5M341.6 301.8l10.1-0.1M341.6 301.8l0.7 5.6M351.7 301.7l5.8 1.1M351.7 301.7l-1.4 8.1M357.5 302.9l9.8-1.6M357.5 302.9l0.5 7.4M367.3 301.3l0.3 8.4M316.4 307.3l8.9-0.8M325.3 306.6l7.8 1.4M325.3 306.6l-0.3 9.1M333.1 308.0l9.2-0.5M333.1 308.0l0.9 7.7M342.3 307.5l8.0 2.3M342.3 307.5l-0.1 9.3M350.3 309.8l7.7 0.5M350.3 309.8l0.8 6.5M358.0 310.3l9.6-0.6M358.0 310.3l-0.3 7.9M367.6 309.7l-1.1 7.6M325.0 315.7l8.9 0.0M325.0 315.7l-1.4 7.0M333.9 315.7l8.2 1.0M333.9 315.7l-2.2 8.8M342.1 316.7l9.0-0.4M342.1 316.7l-1.8 8.5M351.1 316.3l6.7 1.9M351.1 316.3l-1.1 9.8M357.7 318.2l8.7-0.9M357.7 318.2l-0.9 7.6M366.5 317.3l-2.1 8.2M323.6 322.6l8.1 1.8M331.8 324.5l8.6 0.8M340.4 325.2l9.7 0.9M340.4 325.2l-0.5 6.2M350.0 326.1l6.8-0.3M350.0 326.1l0.1 7.1M356.8 325.8l7.5-0.4M356.8 325.8l-0.6 6.9M364.3 325.5l8.7 1.4M364.3 325.5l-0.1 8.5M323.7 330.8l7.9 0.6M331.5 331.4l0.1 6.8M339.8 331.5l10.3 1.8M339.8 331.5l0.2 9.8M350.2 333.2l-1.8 8.0M356.3 332.7l8.0 1.2M356.3 332.7l-0.6 8.5M323.4 340.1l8.3-1.9M323.4 340.1l-0.9 7.1M331.6 338.2l8.4 3.1M331.6 338.2l-1.0 7.9M340.0 341.3l-0.4 6.8M348.4 341.2l7.3-0.0M348.4 341.2l-0.5 7.6M355.6 341.2l-0.3 7.5M322.5 347.2l8.1-1.1M330.6 346.1l9.0 2.0M330.6 346.1l0.0 9.0M339.6 348.1l8.2 0.7M339.6 348.1l-1.4 6.5M347.9 348.8l7.5-0.2M355.3 348.7l9.6-0.1M355.3 348.7l-0.5 7.1M330.7 355.1l7.5-0.5M338.2 354.6l10.3 1.7M338.2 354.6l-0.2 9.8M348.5 356.3l6.3-0.6M348.5 356.3l-1.1 7.6M354.8 355.7l9.8 1.6M354.8 355.7l0.3 8.8M364.6 357.3l-0.5 7.3M329.9 362.7l8.1 1.7M338.0 364.4l9.3-0.5M338.0 364.4l-0.3 6.9M347.4 363.9l7.7 0.7M347.4 363.9l-1.3 7.5M355.1 364.6l9.0 0.0M355.1 364.6l-1.5 8.3M364.1 364.6l-1.6 7.3M329.0 370.3l8.7 1.0M329.0 370.3l-0.9 8.9M337.7 371.3l8.3 0.2M337.7 371.3l-1.4 9.0M346.0 371.4l7.5 1.4M353.6 372.9l1.4 9.1M320.0 378.8l8.1 0.4M328.1 379.2l8.2 1.0M328.1 379.2l0.9 8.1M336.3 380.3l9.5 0.9M336.3 380.3l0.1 7.4M345.8 381.2l9.2 0.7M414.0 191.0l-0.7 8.0M422.0 190.9l-0.5 8.1M430.8 191.2l0.0 8.1M439.3 191.6l0.1 7.9M405.1 199.6l8.2-0.6M413.3 199.0l8.2-0.0M413.3 199.0l0.3 7.5M421.5 199.0l9.3 0.3M421.5 199.0l0.2 7.7M430.8 199.3l8.6 0.1M430.8 199.3l0.4 7.7M439.4 199.5l7.5 0.5M439.4 199.5l-0.0 7.4M397.5 206.1l7.0 0.4M397.5 206.1l-1.0 8.9M404.5 206.5l9.2-0.0M404.5 206.5l0.7 9.4M413.6 206.5l8.0 0.2M413.6 206.5l-0.0 9.9M421.6 206.7l9.6 0.4M421.6 206.7l-0.6 9.9M431.2 207.1l8.2-0.2M431.2 207.1l-0.7 9.2M439.4 206.9l7.5 0.8M439.4 206.9l0.3 9.5M388.4 215.6l8.1-0.5M396.5 215.1l8.7 0.8M396.5 215.1l0.2 7.9M405.1 215.9l8.5 0.5M405.1 215.9l-0.9 7.2M413.6 216.4l7.5 0.1M413.6 216.4l-0.8 8.3M421.1 216.5l9.4-0.2M430.5 216.3l9.2 0.0M430.5 216.3l-0.1 7.5M439.7 216.4l7.3-0.3M439.7 216.4l-0.8 7.9M388.1 222.4l0.6 7.9M396.7 222.9l7.5 0.2M396.7 222.9l-0.0 7.6M404.2 223.1l8.6 1.5M404.2 223.1l0.1 7.7M412.8 224.7l8.6-1.3M412.8 224.7l0.4 6.3M421.4 223.3l8.9 0.5M421.4 223.3l-0.4 8.7M430.4 223.9l8.5 0.4M430.4 223.9l0.3 7.1M438.9 224.2l0.9 7.1M446.8 224.0l0.8 6.9M388.6 230.3l8.1 0.3M388.6 230.3l-0.0 8.1M396.7 230.6l7.7 0.2M396.7 230.6l-0.4 8.3M404.4 230.8l8.8 0.1M404.4 230.8l-0.4 8.4M413.2 230.9l7.9 1.1M413.2 230.9l0.3 7.5M421.0 232.0l9.7-1.0M421.0 232.0l0.1 7.7M430.7 231.0l9.1 0.4M430.7 231.0l0.2 8.2M439.8 231.4l7.9-0.5M439.8 231.4l-0.1 8.1M447.7 230.9l7.5 0.2M447.7 230.9l-0.3 8.2M455.2 231.2l0.5 8.5M388.6 238.4l7.7 0.5M388.6 238.4l-1.3 8.6M396.3 238.9l7.6 0.4M396.3 238.9l-0.3 8.2M403.9 239.3l9.5-0.9M403.9 239.3l-0.3 8.3M413.5 238.4l7.7 1.4M413.5 238.4l-0.6 9.6M421.2 239.7l9.7-0.5M421.2 239.7l0.3 8.3M430.9 239.2l8.8 0.2M430.9 239.2l-0.4 9.1M439.7 239.5l7.7-0.3M439.7 239.5l-0.2 8.6M447.3 239.1l8.3 0.6M447.3 239.1l-0.3 9.0M455.7 239.7l0.1 8.0M387.4 247.0l8.7 0.1M396.1 247.1l7.5 0.5M396.1 247.1l-0.6 9.9M403.6 247.6l-0.3 9.0M412.8 248.0l8.6 0.0M412.8 248.0l0.3 8.5M421.4 248.0l9.1 0.2M421.4 248.0l-0.1 8.5M430.5 248.3l9.0-0.2M430.5 248.3l-0.6 8.2M439.4 248.1l7.6-0.0M439.4 248.1l0.4 9.0M447.0 248.1l8.8-0.4M447.0 248.1l0.1 9.0M455.8 247.7l-0.6 9.0M387.2 256.0l8.3 0.9M395.5 256.9l7.9-0.3M395.5 256.9l-0.1 6.5M403.4 256.6l9.7-0.1M403.4 256.6l0.7 7.7M413.1 256.5l8.3 0.0M413.1 256.5l-1.1 7.8M421.3 256.5l8.6-0.0M421.3 256.5l-0.5 7.0M429.9 256.5l9.9 0.7M429.9 256.5l0.4 7.5M439.8 257.1l7.2-0.0M439.8 257.1l-0.3 7.3M447.1 257.1l8.1-0.4M447.1 257.1l0.1 7.6M455.2 256.7l8.6-0.9M455.2 256.7l0.5 7.1M386.8 263.0l8.5 0.5M395.4 263.5l8.7 0.8M395.4 263.5l-0.3 9.3M404.1 264.3l7.9-0.0M404.1 264.3l-0.9 8.4M412.0 264.3l8.9-0.8M412.0 264.3l0.1 9.6M420.9 263.5l9.5 0.5M420.9 263.5l-0.1 10.2M430.3 264.0l9.3 0.4M430.3 264.0l-0.3 9.5M439.6 264.4l7.7 0.3M439.6 264.4l-0.3 8.2M447.2 264.7l8.5-0.9M447.2 264.7l0.1 8.9M395.1 272.8l8.1-0.1M403.2 272.7l8.9 1.2M403.2 272.7l-0.6 7.9M412.1 273.9l8.6-0.1M412.1 273.9l-0.7 6.9M420.7 273.7l9.3-0.3M420.7 273.7l0.3 7.5M430.0 273.5l1.0 7.8M439.2 272.6l8.1 1.0M439.2 272.6l0.1 8.1M447.3 273.6l0.4 8.0M402.6 280.6l8.8 0.2M411.4 280.7l9.6 0.5M439.3 280.8l8.3 0.8M385.9 269.6l6.1 1.0M385.9 269.6l-0.4 6.6M392.0 270.7l-0.6 5.5M371.8 275.6l-0.3 6.5M378.5 276.0l7.0 0.2M378.5 276.0l0.2 6.3M385.5 276.2l5.9 0.0M385.5 276.2l-0.6 5.7M391.4 276.2l6.0 0.1M391.4 276.2l0.4 6.8M397.4 276.3l-0.1 6.6M404.1 277.0l-0.1 6.7M371.4 282.1l7.2 0.2M371.4 282.1l0.3 6.4M378.7 282.3l6.2-0.4M378.7 282.3l0.2 6.3M384.9 281.9l6.9 1.1M384.9 281.9l0.5 8.2M391.8 283.0l5.5-0.1M391.8 283.0l-0.6 7.1M397.3 282.9l6.7 0.8M397.3 282.9l0.4 6.3M404.0 283.7l6.8-0.5M404.0 283.7l-0.7 6.4M410.8 283.2l-0.4 6.9M364.6 287.9l7.2 0.6M371.7 288.6l7.1 0.1M371.7 288.6l-0.2 7.4M378.8 288.6l6.5 1.4M378.8 288.6l-0.7 7.1M385.4 290.1l5.8-0.0M385.4 290.1l-0.9 6.3M391.2 290.0l6.5-0.8M391.2 290.0l-0.8 7.3M397.7 289.2l5.7 0.9M397.7 289.2l-1.0 8.0M403.4 290.1l7.0 0.1M403.4 290.1l0.2 7.4M410.4 290.2l7.1 0.3M410.4 290.2l-0.4 6.3M364.1 295.5l7.4 0.5M371.5 296.0l6.7-0.2M371.5 296.0l-0.4 5.7M378.2 295.8l6.3 0.6M378.2 295.8l-0.5 6.0M384.5 296.4l5.9 1.0M390.4 297.4l6.3-0.2M390.4 297.4l0.3 5.4M396.7 297.2l6.9 0.3M396.7 297.2l0.2 5.6M403.6 297.4l6.4-1.0M403.6 297.4l-0.5 5.9M410.0 296.4l7.4 0.9M410.0 296.4l0.1 6.4M371.1 301.6l6.6 0.2M371.1 301.6l-0.6 7.5M377.7 301.8l6.4 0.7M384.1 302.6l6.5 0.2M384.1 302.6l-0.3 6.8M390.6 302.8l6.2-0.0M390.6 302.8l-0.0 6.6M396.9 302.8l6.3 0.5M396.9 302.8l-0.2 6.4M403.1 303.3l7.0-0.5M403.1 303.3l-0.2 6.6M410.1 302.8l7.1 0.7M410.1 302.8l0.3 7.5M370.6 309.1l6.2 0.2M370.6 309.1l-0.4 6.8M376.8 309.3l7.1 0.0M376.8 309.3l0.8 7.0M383.9 309.4l6.7 0.1M383.9 309.4l-0.4 8.1M390.6 309.4l6.0-0.2M390.6 309.4l-0.3 7.5M396.6 309.2l6.3 0.7M396.6 309.2l-0.6 7.6M403.0 309.9l7.5 0.4M403.0 309.9l0.3 7.3M410.4 310.4l6.8-0.9M410.4 310.4l-0.3 6.8M370.2 315.9l7.4 0.4M370.2 315.9l-0.0 6.4M377.6 316.3l5.9 1.1M377.6 316.3l-0.8 6.6M383.5 317.5l6.9-0.5M383.5 317.5l-0.1 6.1M390.3 316.9l5.8-0.1M390.3 316.9l0.1 6.8M396.1 316.8l7.2 0.4M396.1 316.8l-0.2 7.2M403.3 317.2l6.8-0.1M403.3 317.2l-0.7 6.2M410.1 317.1l7.1 0.5M410.1 317.1l-0.5 7.1M370.2 322.3l6.6 0.7M376.8 323.0l6.6 0.6M376.8 323.0l-0.4 7.1M383.3 323.5l7.0 0.2M383.3 323.5l-0.2 6.5M390.4 323.8l5.5 0.2M390.4 323.8l0.1 6.6M395.9 324.0l6.7-0.6M395.9 324.0l0.6 6.6M402.6 323.4l0.2 7.5M409.6 324.3l7.5-0.2M409.6 324.3l-0.1 6.7M369.7 329.2l6.7 0.9M369.7 329.2l-1.1 7.5M376.4 330.1l6.7-0.1M376.4 330.1l-0.3 6.7M383.1 330.0l7.4 0.3M383.1 330.0l-0.2 6.4M390.5 330.4l6.0 0.2M390.5 330.4l-1.0 7.2M396.5 330.6l-0.3 6.6M402.7 331.0l6.7 0.0M402.7 331.0l-0.6 6.5M409.5 331.0l7.2-0.2M409.5 331.0l-0.5 6.7M355.0 335.5l6.5 0.4M361.5 335.9l7.1 0.8M361.5 335.9l-0.4 7.1M368.6 336.7l7.5 0.0M368.6 336.7l0.1 6.9M376.1 336.8l6.8-0.3M376.1 336.8l0.1 6.8M383.0 336.5l6.6 1.1M383.0 336.5l-0.1 6.9M389.5 337.5l6.7-0.3M389.5 337.5l-0.7 6.4M396.2 337.2l5.9 0.3M396.2 337.2l-0.3 7.4M402.1 337.5l6.8 0.3M402.1 337.5l-0.1 6.6M409.0 337.7l7.2-0.2M409.0 337.7l0.0 6.6M361.1 343.0l7.6 0.6M368.7 343.6l7.5-0.1M368.7 343.6l0.0 6.6M376.2 343.5l6.6-0.2M376.2 343.5l-0.3 7.2M382.8 343.4l6.0 0.6M382.8 343.4l-0.0 7.5M388.9 343.9l7.0 0.7M388.9 343.9l0.1 6.5M395.8 344.7l6.1-0.5M395.8 344.7l-0.1 6.5M402.0 344.1l7.0 0.2M402.0 344.1l-0.1 7.1M361.5 349.5l7.2 0.7M368.7 350.2l7.2 0.6M368.7 350.2l-0.4 6.9M375.9 350.8l-0.3 6.9M382.8 350.8l6.2-0.4M382.8 350.8l-0.7 7.0M389.0 350.5l6.8 0.7M389.0 350.5l-0.2 7.4M395.8 351.1l6.1 0.1M395.8 351.1l-0.2 7.1M368.4 357.1l7.3 0.6M368.4 357.1l-0.3 8.0M375.7 357.7l6.4 0.2M375.7 357.7l-0.3 7.0M382.0 357.9l6.7 0.1M382.0 357.9l-0.1 7.1M368.1 365.0l-0.3 5.1M375.3 364.7l6.6 0.3M375.3 364.7l-0.8 5.8M367.8 370.2l6.7 0.4M484.3 269.1l0.1 7.8M420.7 277.7l6.9-0.5M420.7 277.7l-0.1 8.0M427.7 277.2l-0.3 7.0M435.1 276.8l-0.4 9.2M469.3 277.5l8.2-0.1M469.3 277.5l0.7 7.8M477.5 277.4l6.9-0.6M477.5 277.4l0.2 7.5M484.4 276.8l0.4 7.6M412.5 285.0l8.1 0.7M420.6 285.7l6.8-1.5M420.6 285.7l-0.1 7.5M427.4 284.2l7.3 1.9M434.7 286.1l6.6-1.2M434.7 286.1l-1.0 7.6M441.3 284.8l8.2 0.4M441.3 284.8l1.0 8.4M449.5 285.3l7.9-0.5M449.5 285.3l-0.3 8.0M457.4 284.8l6.9 0.6M457.4 284.8l-0.4 8.8M464.3 285.4l5.7-0.1M464.3 285.4l-0.8 6.8M470.0 285.3l7.7-0.3M470.0 285.3l0.3 6.9M477.7 284.9l7.2-0.5M477.7 284.9l0.6 7.4M484.9 284.4l7.2-0.5M484.9 284.4l0.2 7.6M413.1 292.7l7.4 0.4M420.5 293.2l7.0 0.0M420.5 293.2l0.1 5.7M427.4 293.2l6.3 0.5M427.4 293.2l-1.1 5.9M433.7 293.7l8.6-0.4M433.7 293.7l-0.2 5.8M442.3 293.3l6.9-0.0M442.3 293.3l-0.8 6.2M449.2 293.2l7.7 0.3M449.2 293.2l0.0 5.8M457.0 293.6l0.7 5.0M463.5 292.2l6.8 0.0M463.5 292.2l0.7 7.3M470.3 292.2l8.0 0.1M470.3 292.2l0.5 7.1M478.3 292.4l6.8-0.4M478.3 292.4l-0.8 7.1M485.1 292.0l7.8-0.1M485.1 292.0l0.3 7.3M492.8 291.9l-1.3 6.7M412.7 299.0l7.8-0.2M420.5 298.8l5.8 0.3M420.5 298.8l-0.8 8.1M426.3 299.1l7.2 0.4M426.3 299.1l0.5 7.8M433.5 299.5l8.0-0.0M441.5 299.5l7.8-0.4M441.5 299.5l0.2 7.2M449.3 299.1l8.4-0.5M449.3 299.1l0.7 6.9M457.6 298.6l6.5 0.9M457.6 298.6l-1.1 7.6M464.1 299.5l6.7-0.1M464.1 299.5l-0.5 7.4M470.8 299.4l6.7 0.0M470.8 299.4l0.8 7.2M477.5 299.4l7.9-0.2M477.5 299.4l1.5 6.5M485.4 299.3l6.2-0.7M485.4 299.3l-0.2 5.9M419.8 306.9l-0.5 7.0M426.8 306.9l8.2-0.2M426.8 306.9l1.1 8.1M434.9 306.7l6.7 0.0M434.9 306.7l-0.9 7.6M441.7 306.7l8.3-0.7M441.7 306.7l-0.5 7.5M449.9 306.0l6.6 0.2M449.9 306.0l-1.6 7.8M456.5 306.2l7.1 0.7M456.5 306.2l0.1 8.4M463.7 306.9l7.9-0.3M463.7 306.9l0.2 7.2M471.6 306.6l7.3-0.6M471.6 306.6l-0.4 6.5M478.9 305.9l6.2-0.7M478.9 305.9l-0.1 8.1M485.2 305.2l8.1 0.7M485.2 305.2l0.6 8.3M419.3 314.0l8.6 1.0M419.3 314.0l-0.6 7.7M427.9 314.9l6.1-0.6M427.9 314.9l-1.3 7.1M434.0 314.3l7.2-0.1M434.0 314.3l0.9 7.8M441.2 314.2l7.2-0.5M441.2 314.2l0.7 7.9M448.4 313.7l8.2 0.8M448.4 313.7l2.2 7.6M456.6 314.6l1.6 6.8M463.9 314.0l7.3-1.0M463.9 314.0l-0.3 7.6M471.2 313.1l7.7 0.9M471.2 313.1l0.5 8.3M478.9 314.0l6.9-0.5M478.9 314.0l-0.3 7.4M485.8 313.5l7.8-0.3M485.8 313.5l0.1 8.4M418.7 321.7l7.9 0.4M418.7 321.7l0.5 7.3M426.6 322.0l8.3 0.1M426.6 322.0l0.2 7.1M434.9 322.1l7.0 0.0M434.9 322.1l-0.9 6.9M441.9 322.1l8.6-0.8M441.9 322.1l-0.8 7.2M450.5 321.4l7.7 0.0M450.5 321.4l-0.3 8.2M458.2 321.4l5.4 0.3M458.2 321.4l-1.4 8.3M463.6 321.7l1.1 7.8M412.0 329.7l7.1-0.8M426.7 329.1l7.2-0.0M426.7 329.1l0.6 8.1M434.0 329.1l7.1 0.2M434.0 329.1l0.3 8.1M441.1 329.3l9.2 0.2M441.1 329.3l0.4 7.8M450.2 329.5l6.6 0.2M450.2 329.5l0.3 7.2M456.8 329.7l7.9-0.2M456.8 329.7l0.6 8.1M464.7 329.5l6.4-0.9M464.7 329.5l-0.4 7.4M471.2 328.5l0.5 8.3M427.3 337.2l6.9-0.0M434.3 337.2l7.2-0.1M434.3 337.2l0.0 6.3M441.5 337.1l9.0-0.4M441.5 337.1l0.2 6.9M450.5 336.7l6.9 1.0M450.5 336.7l-0.8 7.9M457.4 337.7l7.0-0.8M457.4 337.7l0.7 6.4M464.3 336.9l7.3 0.0M464.3 336.9l0.1 7.2M471.7 336.9l7.9-0.4M471.7 336.9l-0.2 7.8M427.2 344.5l7.1-1.0M434.3 343.5l7.4 0.5M434.3 343.5l0.0 8.6M441.7 344.0l8.1 0.6M441.7 344.0l-0.8 7.6M449.7 344.6l8.4-0.5M449.7 344.6l0.8 6.8M458.1 344.1l6.4-0.0M458.1 344.1l-0.8 6.4M464.5 344.0l7.0 0.7M464.5 344.0l0.0 7.7M471.4 344.7l1.3 6.4M440.9 351.6l9.6-0.2M450.5 351.4l6.8-0.9M457.3 350.5l7.2 1.2M322.8 428.1l1.0 7.1M331.2 426.9l-3.1 8.2M308.2 434.8l7.8-1.0M316.0 433.7l7.8 1.4M316.0 433.7l-1.1 8.6M323.7 435.2l4.4-0.0M323.7 435.2l-1.0 8.1M328.1 435.1l8.5 0.8M328.1 435.1l1.8 9.0M336.6 436.0l10.4 2.2M347.0 438.2l-2.6 6.2M314.9 442.3l7.9 1.0M314.9 442.3l0.4 7.5M322.7 443.3l7.2 0.9M322.7 443.3l-0.6 7.1M329.9 444.2l7.5-0.8M329.9 444.2l0.1 7.8M337.4 443.4l7.0 1.0M337.4 443.4l-0.2 8.1M344.5 444.4l7.1-0.1M344.5 444.4l0.2 8.0M315.3 449.8l6.8 0.6M322.1 450.4l7.9 1.6M322.1 450.4l0.7 8.1M330.0 452.0l7.3-0.5M330.0 452.0l-1.8 8.0M337.3 451.4l7.4 1.0M337.3 451.4l-0.7 9.0M344.7 452.4l0.6 8.0M314.9 458.9l7.9-0.4M322.8 458.5l5.4 1.4M322.8 458.5l-2.0 9.5M328.2 460.0l8.4 0.5M328.2 460.0l-0.8 8.6M336.6 460.5l8.6-0.1M336.6 460.5l-1.7 7.7M345.3 460.4l-2.1 7.7M351.2 460.7l0.8 10.3M314.5 466.5l6.3 1.6M314.5 466.5l-1.9 6.7M320.8 468.1l6.6 0.5M320.8 468.1l-0.8 7.1M327.4 468.6l7.6-0.4M327.4 468.6l-1.7 6.6M335.0 468.2l8.2-0.1M335.0 468.2l1.0 7.8M343.1 468.1l8.9 2.9M343.1 468.1l0.7 9.2M352.0 471.0l-1.1 5.3M305.8 473.0l6.8 0.2M312.6 473.2l7.4 2.0M312.6 473.2l0.1 9.5M320.0 475.2l5.7 0.0M320.0 475.2l-0.8 8.1M325.7 475.2l10.2 0.8M325.7 475.2l1.5 8.6M335.9 476.0l7.9 1.3M335.9 476.0l-0.5 7.2M343.8 477.3l7.1-1.0M343.8 477.3l-1.7 6.9M350.9 476.3l-2.8 7.7M312.7 482.7l6.5 0.6M319.2 483.3l8.0 0.5M319.2 483.3l-0.1 5.9M327.2 483.8l8.3-0.6M327.2 483.8l-1.3 7.1M335.5 483.3l6.7 0.9M335.5 483.3l-1.9 7.7M342.1 484.2l5.9-0.2M342.1 484.2l-0.2 6.4M348.1 484.0l2.1 7.8M319.1 489.2l6.8 1.7M325.8 490.9l7.8-0.0M325.8 490.9l0.7 8.4M333.6 490.9l8.3-0.3M333.6 490.9l1.2 9.1M341.9 490.6l8.2 1.2M341.9 490.6l-0.5 10.6M319.0 498.1l7.5 1.2M319.0 498.1l0.1 7.7M326.5 499.3l8.3 0.6M326.5 499.3l-1.3 7.5M334.8 500.0l6.6 1.2M334.8 500.0l-1.3 7.4M341.4 501.1l7.7 0.6M341.4 501.1l-0.2 7.3M294.2 505.0l-1.1 6.7M303.3 504.5l-0.6 9.1M310.4 505.9l8.7-0.1M319.1 505.9l6.2 1.0M319.1 505.9l-1.4 7.3M325.2 506.9l8.3 0.5M325.2 506.9l-0.3 8.1M333.6 507.3l7.7 1.1M333.6 507.3l-0.6 7.7M341.2 508.4l6.9-0.4M341.2 508.4l-0.1 7.5M284.9 511.0l8.2 0.7M293.1 511.7l9.6 1.9M293.1 511.7l-1.3 7.5M302.7 513.6l7.7-0.7M302.7 513.6l-1.4 6.7M310.4 512.9l7.2 0.3M310.4 512.9l-0.7 8.3M317.7 513.1l7.3 1.8M317.7 513.1l-0.9 8.3M325.0 514.9l8.0 0.1M325.0 514.9l-0.8 7.5M332.9 515.1l8.1 0.9M332.9 515.1l-1.5 7.1M341.1 516.0l6.6-0.5M341.1 516.0l-1.5 6.9M291.8 519.2l9.5 1.1M301.3 520.3l8.4 0.8M309.7 521.2l7.0 0.3M309.7 521.2l-1.1 7.7M316.7 521.4l7.5 1.0M316.7 521.4l-0.0 6.4M324.2 522.5l7.3-0.3M324.2 522.5l-1.1 7.1M331.5 522.2l8.1 0.7M331.5 522.2l0.6 8.4M339.6 522.9l0.7 7.7M308.7 528.8l8.0-1.0M316.7 527.8l6.4 1.8M316.7 527.8l-0.7 8.0M323.1 529.6l9.1 1.0M323.1 529.6l0.6 7.1M332.1 530.6l8.2 0.0M332.1 530.6l-0.1 6.8M340.3 530.6l-0.5 5.9M316.0 535.7l7.6 0.9M323.7 536.6l8.4 0.8M323.7 536.6l-1.9 7.5M332.1 537.4l7.7-0.9M316.0 542.8l5.8 1.3M321.8 544.2l-0.7 9.1M321.1 561.2l8.1-0.0M380.5 426.8l-1.6 10.8M352.7 434.5l2.2 10.8M359.8 436.8l2.3 8.6M370.3 436.1l8.6 1.5M370.3 436.1l-0.3 10.2M378.9 437.6l8.0-1.9M386.9 435.7l-0.6 11.6M343.4 445.0l11.5 0.2M354.9 445.2l7.2 0.1M354.9 445.2l-2.2 8.0M362.1 445.4l8.0 0.9M362.1 445.4l-1.5 10.2M370.0 446.3l7.9-0.1M370.0 446.3l-1.8 9.5M378.0 446.2l8.2 1.1M378.0 446.2l0.4 9.3M386.2 447.3l10.5 0.5M386.2 447.3l-0.1 8.7M396.8 447.8l-1.5 7.8M344.5 453.2l8.2 0.1M352.7 453.2l7.8 2.3M352.7 453.2l-0.3 9.5M360.5 455.6l7.7 0.2M360.5 455.6l1.6 8.0M368.3 455.8l10.1-0.3M368.3 455.8l0.1 8.1M378.3 455.5l7.8 0.6M378.3 455.5l0.2 8.3M386.1 456.1l9.2-0.5M386.1 456.1l0.9 8.0M395.3 455.6l8.3 0.4M395.3 455.6l-0.0 9.3M403.6 456.0l-0.9 9.9M352.4 462.8l9.7 0.8M362.1 463.6l6.2 0.3M368.3 463.9l10.2-0.1M368.3 463.9l-0.6 8.9M378.5 463.7l8.4 0.3M378.5 463.7l-1.3 11.7M386.9 464.1l8.3 0.8M386.9 464.1l-0.9 11.0M395.2 464.9l7.4 1.0M395.2 464.9l-1.5 9.0M402.6 465.9l12.2-0.5M402.6 465.9l2.5 7.8M350.8 473.0l6.3 1.1M357.1 474.1l10.6-1.3M357.1 474.1l1.1 8.6M367.7 472.8l9.5 2.6M367.7 472.8l-0.7 9.8M377.3 475.4l8.8-0.4M377.3 475.4l-1.3 6.4M386.1 475.0l7.7-1.2M386.1 475.0l0.1 6.4M393.7 473.9l11.4-0.2M393.7 473.9l1.6 11.0M405.2 473.6l6.8 0.5M405.2 473.6l-0.3 8.4M350.8 482.4l7.4 0.3M358.2 482.7l8.8-0.2M358.2 482.7l1.7 6.3M367.0 482.5l9.0-0.8M367.0 482.5l0.9 8.6M376.0 481.8l10.2-0.3M376.0 481.8l2.8 9.1M386.2 481.5l9.1 3.4M386.2 481.5l-2.0 8.6M395.3 484.9l9.5-2.8M395.3 484.9l-1.1 7.3M404.9 482.0l-0.5 9.8M350.3 490.6l9.5-1.6M350.3 490.6l-1.0 8.1M359.8 489.1l8.0 2.1M359.8 489.1l-1.0 11.0M367.8 491.1l11.0-0.2M367.8 491.1l-0.3 7.5M378.8 490.9l5.4-0.8M378.8 490.9l-1.9 10.5M384.2 490.0l0.7 8.2M394.2 492.1l10.1-0.3M394.2 492.1l0.6 9.4M349.3 498.7l9.5 1.4M349.3 498.7l1.0 10.0M358.8 500.0l8.7-1.4M358.8 500.0l0.1 11.1M367.5 498.6l9.4 2.8M367.5 498.6l0.0 11.5M376.9 501.4l8.0-3.2M376.9 501.4l-0.4 7.2M384.9 498.2l10.0 3.3M384.9 498.2l1.1 11.7M394.9 501.6l9.1-1.0M394.9 501.6l-1.8 9.0M404.0 500.6l-1.1 10.5M350.3 508.7l8.6 2.4M350.3 508.7l-1.1 10.2M358.9 511.1l8.6-0.9M358.9 511.1l-2.8 8.0M367.5 510.2l-0.4 9.3M376.4 508.6l9.6 1.4M376.4 508.6l-0.5 10.3M386.0 510.0l7.0 0.6M386.0 510.0l-1.6 9.8M393.0 510.6l9.8 0.5M393.0 510.6l0.5 8.6M402.9 511.1l0.0 9.8M349.1 518.9l7.0 0.2M349.1 518.9l-0.7 9.7M356.1 519.1l11.0 0.4M356.1 519.1l0.5 10.0M367.1 519.5l8.8-0.5M367.1 519.5l-1.4 10.5M376.0 518.9l8.4 0.8M376.0 518.9l-1.1 11.5M384.4 519.8l9.1-0.6M384.4 519.8l-0.5 10.4M393.5 519.2l9.4 1.7M393.5 519.2l-0.4 12.9M340.0 527.7l8.5 0.9M348.5 528.6l8.2 0.5M348.5 528.6l-1.7 10.6M356.7 529.1l9.0 0.9M356.7 529.1l1.4 10.8M365.7 530.0l9.2 0.4M365.7 530.0l-1.7 9.2M393.1 532.1l9.2-1.3M337.8 537.6l8.9 1.6M346.8 539.2l11.3 0.7M274.0 519.6l-2.5-0.9M274.4 523.1l-0.5-3.5M269.9 527.8l-5.5-0.9M264.5 526.9l-0.1-5.9M274.4 523.1l-4.5 4.6M271.4 518.7l-7.1 2.3M244.6 538.5l4.6 5.0M244.6 538.5l-3.7 2.5M240.9 540.9l-0.0 6.4M249.2 543.5l-1.6 7.1M262.8 534.7l-0.0-6.3M257.2 526.8l5.6 1.5M252.4 533.0l4.8-6.1M252.4 533.0l2.1 1.9M262.8 534.7l-0.2 0.2M262.5 534.9l-8.0 0.0M191.3 563.2l4.7 0.4M212.8 550.6l-7.7 0.8M205.1 551.4l-2.0 4.7M196.0 563.6l1.3-6.7M203.1 556.1l-5.8 0.7M214.2 545.4l7.6-2.3M214.2 545.4l-3.7-3.6M214.8 532.6l-4.4 4.4M214.8 532.6l7.5 3.1M222.3 535.8l-0.5 7.3M210.5 541.8l-0.1-4.8M683.1 136.1l-3.7-1.4M663.0 133.7l4.8 6.9M679.4 134.8l-11.6 5.9M655.4 152.4l12.2-9.4M667.8 140.7l-0.3 2.3M692.3 161.0l-11.9-8.8M685.6 144.1l-5.3 8.1M687.1 167.7l5.1-6.7M690.2 179.7l-3.1-12.1M690.2 179.7l2.1 0.9M696.4 190.0l-4.1-9.3M683.1 136.1l2.5 7.9M677.1 153.0l-9.6-10.1M677.1 153.0l3.2-0.8M679.2 182.5l-0.9 10.4M690.2 179.7l-11.0 2.8M696.4 190.0l-2.0 4.6M694.3 194.6l-9.8 2.7M684.6 197.3l-6.3-4.4M687.1 167.7l-9.2 0.1M679.2 182.5l-6.5-5.2M672.8 177.3l5.2-9.6M677.1 153.0l-3.5 5.9M677.9 167.7l-4.3-8.8M672.8 177.3l-3.2 0.2M671.5 195.5l6.8-2.7M671.5 195.5l-10.8-6.0M669.5 177.4l-8.8 12.1M195.3 504.0l-4.0-2.5M195.3 504.0l-0.1 6.7M195.2 510.7l-3.9 0.5M191.7 490.5l1.3 2.0M193.0 492.5l-1.7 3.3M200.3 500.0l-4.6-6.8M200.3 500.0l3.1 0.4M203.3 500.4l3.5-6.6M206.8 493.8l-4.7-4.1M195.6 493.2l6.5-3.5M193.0 492.5l2.6 0.7M195.3 504.0l5.0-4.0M191.3 523.2l0.6 0.6M191.9 523.8l4.4-1.7M195.2 510.7l2.2 1.6M196.4 522.1l1.0-9.9M203.3 500.4l1.7 2.2M205.0 502.6l-0.8 8.0M204.3 510.7l-0.6 0.7M197.4 512.2l6.2-0.9M264.3 521.0l-4.3-3.1M271.4 518.7l-4.4-7.4M264.8 510.9l2.2 0.4M264.8 510.9l-4.4 4.1M260.4 514.9l-0.4 2.9M264.5 526.9l-1.7 1.5M257.2 526.8l-2.0-5.7M260.1 517.8l-4.8 3.2M205.0 502.6l7.8-0.0M204.3 510.7l10.1-0.1M214.3 510.6l0.7-1.8M215.0 508.8l-2.2-6.2M307.9 490.2l0.5 3.6M308.5 493.8l-2.0 3.2M305.6 487.9l2.3 2.3M305.6 487.9l-6.2-0.6M299.4 487.4l-1.1 10.0M306.5 497.0l-8.1 0.4M289.6 495.3l8.5 2.3M289.6 495.3l-0.1-0.1M292.4 486.8l-2.9 8.4M299.4 487.4l-2.3-2.0M292.4 486.8l4.8-1.4M298.3 497.4l-0.2 0.2M200.3 460.7l-7.5-2.5M200.3 460.7l5.3-9.1M192.8 458.2l1.2-8.5M194.0 449.7l6.0-1.6M194.7 470.1l-3.4-7.6M191.3 459.4l1.5-1.3M202.3 465.3l-2.4 3.6M202.3 465.3l-2.0-4.6M199.9 468.9l-5.3 1.2M282.0 492.0l7.5 3.2M292.4 486.8l-5.8-3.0M282.0 492.0l0.0-4.7M286.6 483.8l-4.5 3.5M256.7 466.1l2.3-1.1M258.9 465.0l5.3 2.9M254.9 473.7l7.0 1.2M254.9 473.7l1.8-7.7M264.2 467.9l-2.3 7.0M270.5 487.4l-0.6-0.5M269.9 486.9l-1.1-8.9M277.8 476.8l-0.8 7.8M270.5 487.4l6.4-2.8M277.8 476.8l-4.8-2.3M273.0 474.6l-4.2 3.4M259.4 484.2l4.0-7.2M259.4 484.2l2.6 2.6M262.0 486.9l7.9 0.0M268.8 478.0l-5.4-0.9M253.5 474.6l0.8 9.2M259.4 484.2l-5.2-0.4M253.5 474.6l1.5-0.9M263.4 477.0l-1.5-2.1M269.9 527.8l1.8 7.4M262.8 534.7l8.3 0.9M271.1 535.6l0.6-0.4M262.0 486.9l-1.4 6.2M260.6 493.0l6.4 4.3M270.5 487.4l0.7 4.5M267.0 497.3l4.3-5.4M282.0 492.0l-3.8 3.2M277.0 484.6l5.1 2.7M271.3 491.9l7.0 3.3M254.3 483.9l-0.8 0.6M253.4 484.5l-1.1 5.1M260.6 493.0l-4.4 1.9M252.3 489.6l3.9 5.4M260.4 514.9l-6.0-4.7M250.7 520.2l-0.1-6.9M255.2 521.1l-4.6-0.9M250.5 513.3l4.0-3.1M255.2 542.4l1.9 1.4M255.2 542.4l-0.7-7.5M262.5 534.9l-0.3 6.0M257.1 543.8l5.2-2.9M249.2 543.5l6.0-1.1M255.3 552.2l2.8-1.7M257.1 543.8l1.0 6.7M258.1 550.5l0.7 0.2M271.1 535.6l-2.8 9.0M262.2 541.0l6.1 3.6M232.0 542.9l-8.4 1.4M240.9 540.9l-6.7-1.2M234.2 539.8l-2.2 3.1M221.8 543.0l1.7 1.3M212.8 550.6l1.4-5.3M214.8 532.6l-1.2-5.9M213.6 526.7l4.9-2.5M222.3 535.8l1.8-1.8M224.0 534.0l-1.2-8.0M218.5 524.2l4.3 1.8M191.9 523.8l-0.6 1.6M282.0 564.4l3.4-0.0M288.4 567.8l-3.0-3.4M297.9 568.7l6.6-6.5M304.6 562.2l4.6 2.9M288.4 567.8l5.3-2.2M320.8 567.5l1.6-4.6M322.3 562.9l5.9-0.2M651.0 173.7l10.5-4.0M651.0 173.7l-4.1-10.8M661.5 169.7l1.6-8.4M646.9 162.9l8.5-10.3M655.4 152.6l7.7 8.8M673.7 159.0l-10.6 2.4M669.5 177.4l-8.0-7.7M655.4 152.4l0.0 0.2M590.7 223.4l-4.1-3.7M586.3 209.0l0.3 10.7M586.3 209.0l11.0 1.2M598.8 220.3l1.2-5.2M598.8 220.3l-8.0 3.1M597.4 210.2l2.6 4.9M618.4 207.7l4.1-6.3M618.4 207.7l0.6 2.6M624.3 200.8l-1.8 0.6M631.3 208.5l-9.1 4.4M631.3 208.5l-7.0-7.7M619.0 210.3l3.2 2.6M627.4 195.2l-3.1 5.7M629.3 194.8l-1.9 0.4M629.3 194.8l8.3 5.2M637.6 200.0l-2.5 7.3M631.3 208.5l0.8 0.2M632.1 208.7l3.1-1.4M635.1 207.3l8.4 5.2M637.6 200.0l3.7-2.0M653.4 202.4l-12.1-4.4M653.4 202.4l0.2 0.8M643.5 212.5l10.1-9.3M623.1 295.4l-2.8-4.9M612.5 296.1l5.8 5.2M612.5 296.1l3.7-6.8M620.2 290.5l-4.0-1.2M211.0 475.1l0.8 8.0M211.0 475.1l-7.4-0.5M211.7 483.1l-9.2 1.1M203.6 474.6l-3.8 7.0M199.7 481.6l2.8 2.6M198.5 523.1l8.8-2.6M198.5 523.1l3.9 9.1M202.4 532.1l0.8-0.1M203.2 532.1l7.3-6.8M210.5 525.2l-2.2-4.3M208.3 521.0l-1.0-0.5M203.6 511.3l3.7 9.2M196.4 522.1l2.2 1.0M198.6 535.7l3.9-3.5M198.6 535.7l-7.3-3.9M210.4 537.0l-7.2-4.9M213.6 526.7l-3.1-1.5M219.1 516.5l-0.5 7.7M215.6 514.3l-7.3 6.7M215.6 514.3l3.5 2.2M215.6 514.3l-1.2-3.7M252.4 533.0l-1.7-0.2M250.1 520.5l-2.3 4.5M250.7 520.2l-0.6 0.3M247.8 525.1l2.9 7.7M244.6 538.5l0.7-2.5M250.7 532.8l-5.4 3.2M223.7 505.7l-2.2-5.2M223.7 505.7l-8.7 3.2M212.8 502.6l2.1-3.7M221.6 500.4l-6.6-1.6M223.2 482.3l-0.8 8.2M221.9 481.0l1.3 1.4M221.9 481.0l-10.1 2.3M211.9 483.2l1.8 8.2M222.4 490.6l-8.7 0.9M206.8 493.8l6.5-1.7M215.0 498.9l-1.6-6.7M202.1 489.7l0.4-5.6M211.9 483.2l-0.1-0.1M213.7 491.5l-0.4 0.6M289.6 495.3l-2.5 6.9M287.0 502.2l7.3 3.2M298.1 497.6l-0.3 5.5M294.3 505.4l3.4-2.4M199.9 468.9l3.6 5.7M199.7 481.6l-2.7-0.2M194.7 470.1l-2.1 2.4M192.6 472.5l4.4 8.9M191.7 490.5l1.1-5.8M192.8 484.6l4.2-3.2M191.3 448.0l2.7 1.7M264.2 467.9l3.3-0.9M273.0 474.6l-0.8-4.7M267.5 466.9l4.8 2.9M277.2 465.5l-4.9 4.3M245.6 482.7l7.8 1.7M253.5 474.6l-4.7-1.2M245.6 482.7l-0.9-3.6M244.6 479.2l4.2-5.8M256.7 466.1l-6.3-2.4M273.4 507.3l0.7-2.9M273.4 507.3l5.1 8.3M274.1 504.3l4.6-2.4M278.7 501.9l5.1 2.2M278.8 515.5l5.4-7.6M278.8 515.5l-0.4 0.1M284.2 507.9l-0.4-3.8M262.0 503.8l4.9-4.2M262.0 503.8l2.8 7.1M267.0 511.3l6.3-4.0M266.9 499.6l7.2 4.7M274.0 519.6l4.5-4.1M267.0 497.3l-0.1 2.3M278.3 495.2l0.4 6.7M287.0 502.2l-3.2 1.9M245.6 482.7l-4.2 5.0M252.3 489.6l-6.2 2.9M246.1 492.5l-4.7-4.8M244.6 479.2l-6.7-2.5M234.0 478.6l3.9-1.9M234.0 478.6l-0.5 2.1M233.5 480.6l7.3 7.1M241.4 487.7l-0.6 0.0M260.1 503.5l-4.5-6.8M260.1 503.5l-5.4 3.5M254.7 507.0l-3.9-2.5M250.8 504.5l-0.2-5.3M255.6 496.7l-5.0 2.4M262.0 503.8l-1.9-0.3M256.2 495.0l-0.6 1.8M254.5 510.3l0.2-3.3M245.0 510.3l5.5 3.0M245.0 510.3l-0.0-3.3M245.0 507.0l5.8-2.5M242.8 499.0l3.1-2.2M245.9 496.8l4.7 2.4M242.1 504.0l0.7-5.0M242.1 504.0l2.9 3.0M245.9 496.8l0.2-4.3M267.8 547.1l0.7-2.0M267.8 547.1l2.6 6.4M268.5 545.1l8.1 0.1M270.4 553.5l6.2-1.0M276.6 552.5l0.9-6.4M276.6 545.1l0.9 1.0M258.8 550.8l9.0-3.7M268.3 544.6l0.2 0.5M280.0 555.6l-3.4-3.1M278.5 560.0l1.6-4.5M194.9 553.6l5.6-7.9M194.9 553.6l-3.6-0.8M198.5 541.6l1.9 2.2M198.5 541.6l-7.2 1.6M200.4 545.6l-0.1-1.9M205.1 551.4l-4.7-5.8M197.3 556.9l-2.4-3.3M198.6 535.7l-0.1 5.9M210.5 541.8l-10.2 2.0M222.9 526.0l4.8-2.8M219.1 516.5l6.7-1.5M227.6 523.2l-1.9-8.1M223.7 505.7l1.4 0.7M225.1 506.4l2.3 6.6M225.8 515.1l1.7-2.1M412.7 480.8l1.5-6.1M414.2 474.8l-2.4-1.7M405.3 480.2l7.4 0.6M411.8 473.0l0.5-5.9M404.1 459.1l6.4-2.6M410.6 465.4l2.3-5.5M410.5 456.5l2.5 3.4M401.7 456.4l2.5-6.1M404.3 450.3l-6.5-3.4M411.1 453.7l-0.6 2.9M406.9 449.4l-2.6 1.0M406.9 449.4l4.2 4.3M428.2 399.0l-3.0-4.9M428.2 399.0l5.9-3.1M434.1 395.9l-1.6-4.3M425.4 393.1l4.4-2.6M425.4 393.1l-0.2 0.9M432.5 391.6l-2.7-1.0M275.4 535.5l1.9 2.3M275.4 535.5l5.0-7.1M277.3 537.8l8.1 1.1M280.4 528.3l3.0-0.2M283.4 528.1l3.6 9.2M285.4 538.9l1.6-1.5M276.6 545.1l0.7-7.4M271.8 535.2l3.7 0.3M274.4 523.1l6.0 5.2M284.7 545.9l0.7-7.0M277.5 546.1l7.2-0.2M287.0 519.8l-0.2 5.2M287.0 519.8l-8.1-4.3M286.8 525.1l-3.4 3.0M377.0 532.0l0.5 2.9M368.3 542.4l9.1-7.5M377.0 532.0l-1.7-1.7M314.9 560.2l-1.8-6.9M314.9 560.2l5.9 0.9M320.8 561.1l1.4-8.5M314.7 551.8l-1.5 1.5M314.7 551.8l7.2 0.4M309.1 565.1l5.8-4.9M322.3 562.9l-1.5-1.7M313.2 553.3l-6.3-0.2M304.6 562.2l-0.9-2.1M306.9 553.1l-3.2 7.0M301.4 539.1l0.4-6.5M301.4 539.1l-6.4 1.7M301.8 532.6l-7.1-1.1M294.7 531.6l-2.8 5.6M295.0 540.9l-3.1-3.7M287.0 537.3l4.8-0.2M293.5 528.1l-6.7-3.0M293.5 528.1l1.2 3.5M681.9 212.6l-11.7-8.2M670.2 204.4l-10.5 4.6M659.7 209.0l1.3 9.6M671.5 195.5l-1.4 8.9M660.7 189.5l-2.8 0.7M658.0 190.2l-4.6 12.2M653.6 203.2l6.1 5.8M648.2 220.9l10.9-0.6M648.2 220.9l-4.6-5.0M643.6 215.9l-0.1-3.3M659.1 220.2l1.9-1.6M667.7 267.4l-1.0-2.4M659.1 220.2l-2.1 10.2M645.6 231.9l-1.4-1.9M644.3 230.0l4.0-9.1M645.6 231.9l6.0 1.2M651.6 233.1l5.4-2.6M586.3 209.0l-2.4-2.5M577.5 222.9l9.2-3.2M577.5 222.9l-3.4-7.1M574.1 215.9l9.9-9.3M571.1 204.1l10.0-0.5M592.5 195.7l-8.9 9.8M581.1 203.6l2.5 1.9M564.9 219.8l7.8-4.3M568.9 209.9l3.7 5.6M563.9 223.9l1.0-4.0M564.7 226.1l-0.8-2.2M564.7 226.1l12.2-1.5M576.9 224.6l0.6-1.6M574.1 215.9l-1.5-0.4M583.6 205.5l0.3 1.1M564.7 226.1l-0.3 1.4M564.5 227.5l-3.8 3.8M560.6 231.3l-6.1-0.1M592.0 247.6l4.1 5.8M592.0 247.6l1.4-5.9M596.1 253.3l8.0-7.7M593.4 241.7l7.3 0.3M600.8 242.0l3.4 3.7M612.6 244.1l1.7 7.0M609.7 242.9l2.9 1.2M609.7 242.9l-5.5 2.8M604.2 245.6l4.3 8.2M608.5 253.9l5.7-2.8M634.7 186.3l6.6 0.8M641.3 187.1l7.3-5.2M648.4 178.0l0.2 3.9M629.3 194.8l5.4-8.5M641.3 198.0l-0.0-10.9M627.4 195.2l-3.7-3.7M651.0 173.7l-2.6 4.3M658.0 190.2l-9.4-8.3M622.5 201.4l-7.3-4.3M615.2 197.1l2.3-5.0M592.5 195.7l7.1 3.0M612.1 204.7l-0.3-6.4M612.1 204.7l-3.1 2.5M609.0 207.2l-8.2-3.0M610.8 197.8l1.0 0.5M610.8 197.8l-10.2 2.2M600.6 200.1l0.2 4.1M615.2 197.1l-3.4 1.2M618.4 207.7l-6.3-3.0M611.0 215.6l8.0-5.3M608.9 214.1l0.1-7.0M608.9 214.1l2.0 1.4M608.9 214.1l-8.9 1.0M597.4 210.2l3.4-6.0M599.6 198.7l1.0 1.4M642.7 251.5l-2.9-3.2M642.7 251.5l-0.7 4.6M639.9 248.3l-7.0 1.8M632.8 250.2l1.0 6.8M633.8 257.0l5.7 2.0M642.1 256.1l-2.6 3.0M621.3 243.5l0.6 3.9M621.3 243.5l8.9-4.1M621.9 247.4l4.8 3.1M630.1 239.4l0.8 0.2M631.0 239.6l-0.2 9.2M626.7 250.5l4.1-1.7M612.6 244.1l6.8-1.7M614.3 251.1l3.3 1.4M617.6 252.5l4.3-5.1M619.4 242.3l1.9 1.2M618.9 256.7l-1.3-4.2M625.6 256.9l-6.7-0.2M625.6 256.9l1.1-6.5M639.4 241.9l-7.0-2.8M639.4 241.9l0.5 6.4M632.4 239.1l-1.4 0.5M632.8 250.2l-2.0-1.4M625.6 256.9l2.3 2.3M627.9 259.3l5.8-2.3M632.1 208.7l0.2 8.8M643.6 215.9l-6.4 4.0M637.2 219.8l-5.0-2.4M644.3 230.0l-7.2-1.4M637.2 219.8l-0.2 8.8M643.4 239.7l-4.0 2.2M643.4 239.7l2.2-7.8M632.4 239.1l4.2-10.2M637.0 228.6l-0.5 0.2M619.4 242.3l-1.2-8.0M609.7 242.9l0.3-6.9M618.2 234.4l-8.2 1.7M600.8 242.0l1.2-9.7M602.0 232.3l2.8-2.1M604.1 245.6l0.1 0.0M610.0 236.0l-5.1-5.7M603.2 324.2l-3.5-3.1M603.2 324.7l-0.0-0.5M600.5 329.3l-3.7 1.4M596.8 330.7l-0.5-0.4M596.3 330.3l-2.1-7.6M603.2 324.7l-2.7 4.6M599.7 321.1l-5.5 1.6M596.3 330.3l-8.9-0.9M587.2 329.3l0.2 0.2M587.2 329.3l4.1-8.1M594.2 322.7l-2.9-1.6M591.7 420.0l-2.8 2.5M588.5 426.8l0.4-4.4M591.6 283.6l0.0-9.7M592.7 272.9l-1.0 1.0M592.7 272.9l8.4 3.7M601.1 276.6l1.2 2.5M591.6 283.6l4.4 0.6M596.0 284.1l6.3-5.0M619.8 277.8l-5.0 9.2M614.8 286.9l-6.8-1.9M613.2 273.6l6.6 4.2M613.2 273.6l-7.2 7.0M608.0 285.0l-2.0-4.5M625.7 286.1l-5.4 4.4M625.7 286.1l-2.8-7.6M614.8 286.9l1.4 2.4M619.8 277.8l1.2-0.1M622.9 278.5l-1.9-0.9M612.6 270.8l5.1-5.9M612.6 270.8l0.6 2.8M617.7 264.9l7.0 2.1M621.0 277.6l3.7-10.6M616.5 260.3l2.4-3.6M617.7 264.9l-1.2-4.6M627.9 259.3l-0.5 6.7M624.7 267.0l2.7-1.0M639.8 286.1l-6.7-2.4M633.0 283.7l-3.7 3.5M629.3 287.2l1.4 4.6M625.7 286.1l3.6 1.0M656.3 269.7l-1.1 0.3M648.9 266.5l2.4-7.5M642.1 256.1l9.2 2.9M639.5 259.0l0.3 4.1M648.9 266.5l-2.1 0.6M639.9 263.1l6.9 3.9M648.9 266.5l6.3 3.5M646.8 267.1l-2.9 7.9M640.8 275.9l3.1-1.0M581.7 268.0l-8.1 1.3M581.7 268.0l3.4 6.4M582.1 278.8l3.0-4.5M582.1 278.8l-8.0-2.9M574.1 276.0l-0.5-6.6M388.8 430.7l6.0-1.2M388.8 430.7l-1.3 6.4M387.5 437.0l7.6 0.7M395.9 430.1l0.6 6.5M395.9 430.1l-1.0-0.7M396.5 436.6l-1.5 1.1M386.7 427.9l2.1 2.8M386.7 427.9l4.1-6.0M390.8 421.8l3.1 1.9M393.9 423.7l0.9 5.7M397.9 436.9l5.7-2.9M403.4 430.5l0.2 3.5M400.7 428.5l2.7 2.0M397.9 436.9l-1.4-0.2M400.7 428.5l-4.9 1.6M393.9 423.7l7.1-2.7M401.6 422.0l-0.5-1.0M401.6 422.0l-0.8 6.5M397.8 446.9l4.7-5.0M402.5 441.9l-4.5-5.0M386.7 427.9l-2.0-0.4M384.7 427.5l-5.0 3.5M351.3 429.8l5.8 1.8M351.3 429.8l-1.3 5.7M357.1 431.6l0.2 4.8M353.4 438.2l-3.3-2.8M342.1 434.9l1.4-5.0M350.7 428.4l-7.2 1.5M351.3 429.8l-0.6-1.4M342.1 434.9l2.8 1.9M344.9 436.8l5.1-1.3M361.0 426.2l5.0-4.8M365.9 421.3l-2.1-4.1M356.7 423.5l4.3 2.7M356.7 423.5l0.7-5.3M357.3 418.2l5.2-1.6M363.8 417.3l-1.3-0.6M357.3 418.2l-3.8-3.3M353.5 414.9l1.1-2.4M354.6 412.4l5.7-2.3M362.5 416.7l-2.2-6.5M350.1 416.1l-1.1-0.3M350.1 416.1l1.2 8.8M349.0 415.8l-7.1 5.6M351.4 424.9l-0.1 0.1M351.2 425.0l-9.1-3.1M341.9 421.3l0.2 0.6M356.7 423.5l-5.3 1.4M353.5 414.9l-3.4 1.2M357.1 431.6l4.1-3.4M361.2 428.2l-0.3-2.1M350.7 428.4l0.6-3.3M343.5 429.9l-2.3-4.2M341.2 425.7l0.9-3.7M336.5 427.7l4.7-2.0M341.3 420.8l-5.9-0.6M341.3 420.8l0.6 0.5M331.4 424.6l5.0 3.1M331.4 424.6l0.0-0.7M331.5 423.9l4.0-3.6M306.5 497.0l1.8 6.2M297.8 503.1l5.1 3.3M308.3 503.2l-5.4 3.1M304.6 530.5l-2.8 2.1M306.7 543.1l2.1-1.0M306.7 543.1l-5.3-3.9M308.8 542.1l0.3-11.4M304.6 530.5l4.3 0.0M308.9 530.5l0.2 0.1M293.5 528.1l6.0-6.0M304.6 530.5l-5.2-8.4M287.0 519.8l3.8-3.3M284.2 507.9l7.3 5.6M323.2 427.5l-3.9-3.2M320.0 420.3l6.4-2.1M329.1 427.3l2.3-2.7M331.5 423.9l-5.1-5.7M329.1 427.3l-6.0 0.2M307.9 490.2l8.8-4.0M308.5 493.8l8.6 2.7M317.1 496.5l1.9-6.0M319.0 490.5l-2.2-4.3M305.6 487.9l2.4-6.2M308.0 481.7l4.3-1.0M316.7 486.2l0.2-1.5M192.6 472.5l-1.3 0.2M192.8 484.6l-1.5-0.9M202.3 465.3l7.5-0.6M211.0 475.1l1.6-2.3M209.8 464.7l2.8 8.2M277.8 476.8l5.2-1.2M286.6 483.8l-0.7-6.1M285.9 477.7l-2.9-2.1M283.0 475.6l0.6-5.8M283.6 469.8l3.7-3.1M304.0 477.1l-6.2 3.0M297.8 480.2l-4.1-5.2M308.0 481.7l-4.0-4.6M297.2 485.4l0.7-5.2M285.9 477.7l7.9-2.7M235.9 465.5l4.0 5.9M235.9 465.5l6.1-2.9M239.9 471.4l6.9-1.2M242.0 462.5l5.3 3.3M246.8 470.2l0.6-4.4M234.9 465.2l1.0 0.2M237.9 476.6l2.0-5.2M248.8 473.4l-2.0-3.2M250.4 463.7l-3.0 2.2M232.1 500.2l4.6-4.2M232.1 500.2l-6.4-6.2M230.4 489.8l6.1 2.4M230.4 489.8l-4.9 3.1M236.7 496.0l-0.2-3.8M225.7 493.9l-0.1-1.0M236.3 505.6l-4.2-4.3M232.0 501.4l0.1-1.2M242.1 504.0l-5.8 1.6M242.8 499.0l-6.1-3.0M225.1 506.4l6.9-5.0M221.6 500.4l4.1-6.5M240.8 487.8l-4.3 4.4M231.4 482.4l-0.9 7.4M233.5 480.6l-2.2 1.8M223.2 482.3l8.1 0.0M222.4 490.6l3.1 2.3M227.6 523.2l4.1 1.6M224.0 534.0l7.1-0.7M231.7 524.8l-0.5 8.5M234.2 539.8l-1.6-5.4M232.6 534.4l-1.5-1.1M245.3 536.0l-5.0-5.0M232.6 534.4l7.7-3.4M247.8 525.1l-7.4 1.4M240.3 531.0l0.1-4.5M241.9 513.4l0.2 4.1M241.9 513.4l-6.7-2.4M242.1 517.6l-5.0 4.9M235.2 511.0l-3.0 2.2M232.2 513.2l4.6 9.2M237.1 522.4l-0.3-0.0M250.1 520.5l-8.0-3.0M245.0 510.3l-3.1 3.1M236.3 505.6l-1.1 5.3M240.5 526.4l-3.4-4.0M227.4 513.0l4.7 0.2M231.7 524.8l5.1-2.4M429.8 390.6l-0.6-4.7M422.5 389.5l2.9 3.6M422.5 389.5l1.4-4.1M429.2 385.9l-5.3-0.5M406.9 449.4l0.9-2.7M402.5 441.9l1.0-0.1M407.7 446.7l-4.3-4.9M403.6 434.0l3.8 3.1M403.5 441.8l4.0-4.8M414.5 452.2l3.9 1.6M414.5 452.2l0.9-5.4M418.3 453.8l4.6-2.7M415.4 446.8l5.6 0.1M421.0 446.9l2.0 2.4M423.0 451.1l0.1-1.8M442.4 398.9l-0.8 5.0M442.4 398.9l-2.3-3.0M440.1 395.9l-4.2 0.9M435.9 396.8l-1.0 7.5M441.6 403.9l-3.1 2.2M438.5 406.1l-3.6-1.8M450.6 398.0l-8.2 0.9M450.6 398.0l1.0 2.6M451.6 400.6l-3.8 5.5M447.9 406.1l-6.2-2.2M434.1 395.9l1.8 0.9M428.0 400.5l0.2-1.5M434.8 404.3l0.2-0.0M428.0 400.5l6.8 3.9M432.3 413.0l-1.9-4.5M432.3 413.0l-4.3 2.9M428.0 415.9l-4.0-4.9M424.0 411.0l3.4-3.2M430.5 408.4l-3.1-0.6M428.0 400.5l-2.0 2.1M434.8 404.3l-4.3 4.1M425.9 402.5l1.5 5.3M499.3 473.7l0.5 0.9M499.8 474.7l10.0 2.8M505.5 467.0l-6.2 6.8M505.5 467.0l5.6 5.2M511.1 472.2l-1.3 5.3M487.9 490.5l-1.1 3.5M483.2 484.1l4.6 6.4M483.2 484.1l-0.6 0.3M478.4 491.3l4.3-6.9M478.4 491.3l0.4 1.0M486.7 494.0l-8.0-1.8M412.1 555.0l-7.4 1.7M403.1 558.9l1.6-2.2M285.4 554.1l0.8-6.3M285.4 554.1l3.5 3.1M286.3 547.8l8.3-1.4M289.0 557.1l5.0 0.4M294.6 546.4l2.2 2.5M296.7 548.9l-1.8 8.1M294.0 557.5l1.0-0.5M280.0 555.6l5.4-1.5M284.7 545.9l1.5 1.9M285.4 564.4l3.6-7.2M295.0 540.9l-0.4 5.6M293.7 565.6l0.3-8.1M306.7 543.1l-2.4 5.1M304.4 548.2l-7.6 0.7M304.4 548.2l2.5 4.9M303.6 560.1l-8.7-3.1M653.1 240.0l-3.8 3.7M649.4 243.8l0.6 4.6M650.0 248.4l3.2 2.0M651.6 233.1l1.5 7.0M643.4 239.7l6.0 4.0M642.7 251.5l7.2-3.2M577.2 225.9l7.6 5.9M576.9 224.6l0.4 1.4M590.7 223.4l-0.5 5.0M584.8 231.9l5.4-3.4M593.4 241.7l-1.0-1.5M602.0 232.3l-7.3 0.3M592.4 240.1l2.3-7.5M605.4 227.9l-0.6 2.4M598.8 220.3l6.7 7.6M594.7 232.7l-4.5-4.2M592.4 240.1l-7.6-1.3M592.0 247.6l-8.1 0.7M583.9 248.2l0.8-9.4M584.8 231.9l-1.5 5.4M584.8 238.9l-1.4-1.7M611.0 215.6l1.0 3.2M605.4 227.9l2.2-1.3M611.9 218.8l-4.3 7.7M596.2 336.1l-1.3 1.2M587.2 342.5l1.9 1.6M589.0 344.1l4.9-2.1M586.5 337.2l1.4-1.6M586.5 337.2l0.7 5.4M587.9 335.6l7.1 1.7M596.8 330.7l-0.6 5.5M587.4 329.4l0.5 6.1M573.2 296.6l5.0 5.4M573.2 296.6l-4.5 0.6M568.7 297.2l0.6 7.9M578.3 302.0l-3.4 4.2M569.3 305.1l5.6 1.0M583.9 248.2l-0.5 0.5M583.4 248.7l2.4 8.1M596.1 253.3l-0.0 0.4M596.1 253.7l-10.3 3.1M581.7 268.0l3.6-4.9M585.0 274.3l6.6-0.5M592.7 272.9l0.8-6.7M593.4 266.2l-8.1-3.1M571.8 263.4l3.3-5.7M575.1 257.7l9.2 2.2M573.3 269.0l0.3 0.3M571.8 263.4l1.4 5.6M585.3 263.1l-1.0-3.1M607.9 258.7l-0.5-0.6M607.9 258.7l-0.5 9.0M607.4 258.1l-9.0-0.1M607.4 267.7l-3.9 1.1M603.6 268.8l-7.3-4.5M598.4 258.0l-2.1 6.3M616.5 260.3l-8.5-1.6M608.5 253.9l-1.1 4.2M612.6 270.8l-5.2-3.1M596.1 253.7l2.3 4.3M606.0 280.6l-3.7-1.5M601.1 276.6l2.5-7.8M593.4 266.2l2.9-1.9M585.8 256.8l-1.5 3.1M583.3 283.0l7.2 1.2M583.3 283.0l-4.7 6.0M590.4 284.2l-0.7 8.6M589.7 292.8l-6.6 0.6M583.1 293.4l-4.6-4.3M578.5 289.0l0.0 0.0M582.1 278.8l1.2 4.2M591.6 283.6l-1.1 0.7M571.5 279.3l2.6-3.3M574.1 286.5l-2.6-7.2M574.1 286.5l4.4 2.5M593.1 293.7l5.6-4.0M596.0 284.1l2.7 5.6M590.5 293.5l2.5 0.2M590.5 293.5l-0.8-0.7M582.2 301.6l1.0-8.2M578.3 302.0l3.9-0.4M573.2 296.6l5.3-7.5M605.9 288.3l-6.3 1.8M605.9 288.3l1.5 7.8M599.6 290.1l1.4 6.0M607.5 296.2l-6.4-0.0M608.0 285.0l-2.1 3.3M598.7 289.7l0.9 0.4M608.5 297.1l-1.1-0.9M608.5 297.1l4.0-1.0M593.1 293.7l5.2 5.5M598.2 299.2l2.8-3.0M590.9 320.2l0.4 0.9M599.7 317.7l0.0 3.5M599.7 317.7l-3.5-2.0M590.9 320.2l0.4-1.8M596.3 315.6l-5.0 2.8M632.1 278.2l7.4-2.8M632.1 278.2l-1.9-1.1M630.2 277.0l0.1-9.2M639.4 275.4l-3.6-7.9M630.3 267.8l5.6-0.3M633.0 283.7l-0.9-5.5M640.8 275.9l-1.4-0.6M622.9 278.5l7.3-1.5M627.4 266.0l2.9 1.8M639.9 263.1l-4.0 4.3M661.8 262.8l-1.3 0.4M660.6 263.2l-7.5-5.4M654.4 252.6l-1.3 5.2M666.6 265.0l-4.8-2.1M656.3 269.7l4.3-6.5M651.3 259.0l1.8-1.2M555.9 278.6l1.2-5.5M555.9 278.6l6.0 4.7M561.9 283.3l3.4-3.5M565.4 279.8l-2.5-8.5M557.1 273.1l5.3-2.0M562.4 271.1l0.5 0.3M550.7 268.6l6.5 4.5M550.7 268.6l-1.8 1.5M548.9 270.1l0.1 8.0M551.3 279.9l-2.3-1.8M551.3 279.9l4.6-1.3M573.3 269.0l-10.4 2.3M571.5 279.3l-6.1 0.5M571.8 263.4l-6.5-2.0M561.2 265.5l4.1-4.1M561.2 265.5l1.2 5.6M561.2 265.5l-4.5-1.8M550.7 268.6l0.2-0.8M550.9 267.8l5.9-4.1M341.3 420.8l-1.0-7.9M346.3 412.0l2.8 3.7M346.3 412.0l-5.2-0.4M341.1 411.6l-0.8 1.3M335.4 420.2l-1.9-5.8M340.3 412.9l-6.7 1.6M389.1 413.3l-4.7 3.1M389.1 413.3l3.1 4.3M390.7 421.7l1.4-4.1M390.7 421.7l-6.6-2.4M384.2 419.3l0.2-2.9M392.7 409.1l4.1 2.6M396.4 416.0l0.4-4.2M396.4 416.0l-4.2 1.6M389.6 410.5l3.1-1.3M389.6 410.5l-0.5 2.8M396.4 416.0l4.7 4.1M401.0 421.0l0.1-0.9M390.8 421.8l-0.1-0.2M384.7 427.5l-3.0-6.0M381.7 421.5l2.5-2.2M361.2 428.2l6.3 5.9M379.6 431.0l-4.1-4.5M381.7 421.5l-3.0 0.1M378.6 421.6l-3.1 4.8M367.9 434.1l4.0-7.2M365.9 421.3l2.4 0.5M368.3 421.8l3.5 5.1M371.8 426.9l3.8-0.5M378.6 421.6l-2.6-3.5M368.3 421.8l4.5-4.3M372.8 417.5l3.2 0.6M384.3 416.4l-4.4-4.8M376.0 418.1l3.9-6.5M389.6 410.5l-3.6-2.4M386.0 408.1l-6.4 1.8M379.9 411.6l-0.3-1.8M346.3 412.0l2.6-5.4M354.6 412.4l-2.4-5.3M348.9 406.7l3.3 0.5M378.6 402.2l-4.3-1.8M374.3 400.4l-3.7 5.3M379.1 409.4l-5.4 0.3M379.1 409.4l-0.6-7.2M370.6 405.7l3.1 4.1M372.8 417.5l-1.7-4.3M379.6 409.8l-0.5-0.4M373.7 409.8l-2.7 3.5M363.8 417.3l4.2-4.4M368.0 412.9l3.1 0.4M336.5 427.7l-0.5 7.0M329.1 427.3l1.8 7.2M317.1 496.5l0.7 1.9M387.8 385.3l-4.5 2.1M387.8 385.3l-2.6-6.0M385.2 379.3l-1.8 0.2M383.4 379.5l-4.0 4.7M383.3 387.5l-3.8-2.0M379.5 385.5l-0.1-1.3M423.7 380.3l-1.1 2.7M423.7 380.3l-3.1-4.9M422.6 383.0l-4.7 0.4M420.7 375.4l-4.1 1.8M416.5 377.2l-1.2 3.4M417.9 383.4l-2.5-2.8M423.9 385.4l-1.2-2.4M422.5 389.5l-4.5 0.2M418.0 389.7l-1.4-1.1M416.6 388.6l1.3-5.2M429.2 385.9l1.4-1.8M423.7 380.3l4.5-1.0M430.6 384.1l-2.4-4.8M415.4 380.6l-2.3 0.7M414.6 388.8l2.0-0.2M414.6 388.8l-3.8-3.6M413.1 381.3l-2.3 3.9M413.1 381.3l-5.7-3.9M408.3 385.7l-2.8-2.2M408.3 385.7l2.5-0.5M405.5 383.5l-0.6-3.4M407.4 377.4l-2.5 2.7M413.0 459.9l3.8 0.1M411.1 453.7l3.4-1.5M418.3 453.8l0.2 4.6M418.5 458.4l-1.7 1.6M415.4 446.8l-1.4-1.8M407.7 446.7l3.5-2.2M414.0 445.0l-2.8-0.5M407.4 437.0l2.2-0.1M411.2 444.5l-1.6-7.6M464.8 432.4l5.5 2.0M459.2 435.2l5.6-2.8M459.2 435.2l4.8 7.2M470.3 434.5l1.2 1.9M471.5 436.4l-7.5 6.0M432.5 391.6l3.9-3.0M440.1 395.9l1.0-3.1M441.1 392.9l-4.8-4.3M441.1 392.9l3.5-2.4M450.6 398.0l0.5-2.5M451.1 395.6l-6.4-5.1M464.0 442.5l-0.4 1.5M456.6 443.4l7.0 0.6M459.2 435.2l-1.2-0.3M456.6 443.4l-1.3-2.5M458.0 435.0l-2.7 5.9M455.7 402.5l0.9 7.5M451.6 400.6l4.1 1.9M447.9 406.1l1.0 5.3M456.6 410.0l-7.7 1.4M451.5 428.6l1.9-7.9M451.5 428.6l-5.9 0.9M444.6 423.0l0.5 6.1M444.6 423.0l7.5-2.9M452.1 420.1l1.4 0.7M445.6 429.5l-0.5-0.4M425.9 402.5l-4.6 0.1M424.0 411.0l-4.0-0.1M421.3 402.6l-1.3 8.3M466.5 455.3l-1.7-7.7M466.5 455.3l-3.2 2.2M463.3 457.5l-5.4-1.3M464.8 447.6l-0.3-0.2M464.5 447.4l-6.7 4.1M457.9 456.2l-0.1-4.7M463.6 444.0l1.0 3.4M453.6 448.5l3.0-5.1M453.6 448.5l4.2 3.0M403.8 493.5l3.0-0.1M404.0 484.0l7.3 4.2M406.8 493.3l4.5-5.1M419.8 486.1l-6.8 2.5M419.8 486.1l0.5-2.2M420.3 483.9l-0.7-1.5M419.5 482.4l-6.7-1.4M412.9 481.0l-0.7 7.1M413.0 488.5l-0.9-0.5M421.5 489.3l-1.7-3.2M421.5 489.3l-3.1 4.2M418.4 493.4l-3.4-0.1M413.0 488.5l1.9 4.8M412.7 480.8l0.1 0.2M411.3 488.2l0.8-0.1M428.3 487.5l3.8 2.6M428.3 487.5l-4.2 2.8M432.1 490.1l-2.9 5.2M424.2 490.4l1.3 4.0M429.3 495.4l-3.8-1.0M427.8 483.0l0.5 4.5M420.3 483.9l7.5-0.9M421.5 489.3l2.7 1.1M418.4 493.4l3.2 4.5M421.6 497.9l3.9-3.6M406.8 493.3l5.5 4.3M408.5 501.7l3.7-4.1M421.6 498.1l0.0-0.2M417.7 501.6l3.9-3.5M417.7 501.6l-0.0-0.0M415.0 493.4l-2.6 4.2M417.6 501.6l-5.3-4.0M412.4 497.6l-0.1 0.0M434.2 504.8l3.7 4.6M437.8 509.5l1.9 0.2M437.9 500.5l-3.7 4.3M437.9 500.5l5.0 4.4M442.9 504.9l-3.1 4.9M451.0 496.5l-4.8 1.4M451.0 496.5l0.5-6.9M449.5 488.9l1.9 0.7M449.5 488.9l-6.2 2.4M443.3 491.4l0.5 4.6M446.1 497.9l-2.3-1.9M453.7 489.2l-2.2 0.5M457.8 494.5l-4.2-5.4M456.5 497.0l1.3-2.5M456.5 497.0l-3.6 0.8M452.9 497.9l-2.0-1.3M433.4 489.9l2.3-7.7M433.4 489.9l3.1 1.6M436.5 491.5l5.0-1.4M441.5 490.1l-0.8-6.5M440.7 483.5l-5.1-1.4M432.1 490.1l1.2-0.2M427.8 483.0l0.1-0.2M427.9 482.8l7.1-1.3M435.0 481.5l0.6 0.7M430.3 497.4l-1.0-2.0M436.0 497.4l-5.7-0.0M436.0 497.4l0.5-5.9M437.9 499.5l5.9-3.5M443.3 491.4l-1.8-1.3M436.0 497.4l1.9 2.1M517.3 481.2l-6.1-0.7M509.9 477.5l1.3 3.0M517.3 481.2l4.0-8.3M511.1 472.2l5.5-3.2M516.7 468.9l4.6 4.0M575.7 429.3l-0.3 0.5M575.7 429.3l4.3-1.5M575.4 429.7l2.5 7.7M580.0 427.7l2.1 1.1M580.8 421.9l1.8-1.3M588.9 422.4l-6.3-1.9M588.5 426.8l-6.5 2.0M580.8 421.9l-0.8 5.9M490.7 464.5l-1.9-5.9M487.3 467.7l3.4-3.2M487.3 467.7l-7.1-3.5M480.2 464.2l0.3-5.2M480.5 459.0l8.3-0.4M494.6 453.7l-3.2 0.8M495.5 446.7l-0.9 7.0M489.1 442.5l6.3 4.1M489.1 442.5l-3.8 7.0M485.4 449.5l6.0 5.0M480.2 477.8l3.5 5.1M480.2 477.8l0.7-3.9M480.9 473.9l6.5-1.5M483.7 482.9l5.5-3.2M489.1 479.7l0.7-4.6M489.9 475.1l-2.4-2.7M475.6 483.7l-2.3-4.4M473.3 479.4l6.9-1.6M482.7 484.4l-7.0-0.6M483.2 484.1l0.5-1.1M487.9 490.5l6.3-2.8M495.1 484.9l-0.9 2.8M495.1 484.9l-6.0-5.2M499.0 483.1l0.8-8.4M497.8 473.0l-7.9 2.1M497.8 473.0l1.5 0.7M495.1 484.9l3.9-1.8M495.1 465.0l-4.4-0.5M497.8 473.0l-2.6-8.0M487.3 467.7l0.1 4.7M479.7 552.2l4.2-5.9M482.2 556.3l-2.5-4.1M482.2 556.3l0.4 0.1M499.0 483.1l6.3 2.9M511.1 480.5l-3.4 4.8M505.3 486.0l2.5-0.7M483.8 546.3l-2.8-5.4M479.7 552.2l-6.2-2.2M472.6 544.5l1.0 5.5M472.6 544.5l1.3-1.9M481.1 540.8l-7.2 1.8M443.9 569.1l5.2 1.1M379.7 536.8l-2.2-1.9M392.4 532.1l0.6-0.7M404.7 556.7l-2.2-6.3M402.5 550.4l-5.1-1.1M410.6 520.6l-1.8-3.7M408.7 516.9l-6.6 0.6M410.6 520.6l-0.8 2.9M402.4 524.2l7.3-0.7M384.1 527.4l-7.2 4.6M565.3 261.4l-1.9-5.2M556.8 263.7l-0.7-6.1M563.4 256.2l-7.4 1.4M577.2 225.9l-3.4 8.2M583.4 237.2l-4.7 0.7M578.7 237.9l-4.8-3.7M564.5 227.5l6.5 7.2M573.8 234.1l-2.9 0.5M623.7 231.5l4.8-5.1M623.7 231.5l-3.8 0.0M619.9 231.6l-1.9-3.0M618.1 228.6l1.2-7.4M628.4 226.4l-1.6-5.5M626.9 220.9l-4.0-1.9M622.9 219.0l-3.7 2.2M630.1 239.4l-6.4-7.8M636.6 228.9l-8.1-2.5M618.2 234.4l1.8-2.8M607.7 226.6l10.4 2.1M611.9 218.8l7.3 2.4M632.3 217.5l-5.4 3.4M622.2 212.9l0.7 6.1M534.7 296.0l-7.9-2.0M525.1 296.1l1.7-2.1M534.7 296.0l1.2 2.2M525.1 296.1l0.0 4.2M525.2 300.4l6.8 4.6M532.0 305.0l3.9-6.7M527.2 240.1l-0.7 1.6M527.2 240.1l7.5-4.0M526.5 241.7l7.3 5.7M538.5 239.4l-2.0 6.9M536.5 246.3l-2.7 1.2M522.1 243.6l4.4-1.9M531.4 278.9l4.6-3.4M531.4 278.9l3.5 6.9M534.9 285.8l0.1 0.0M535.0 285.8l6.5-4.0M536.0 275.5l4.1 1.0M540.1 276.5l1.9 3.0M541.6 281.8l0.4-2.3M526.6 289.6l8.4-3.8M525.6 288.4l1.0 1.2M525.6 288.4l0.6-10.4M526.2 278.0l5.2 0.9M526.6 289.6l0.2 4.5M537.6 290.7l-2.5-4.8M537.6 290.7l-2.9 5.3M543.6 270.2l-3.5 6.3M543.6 270.2l5.3-0.1M549.0 278.1l-7.0 1.5M525.3 277.1l0.9 0.8M525.3 277.1l4.1-7.6M536.0 275.5l-1.8-6.0M534.2 269.5l-4.7 0.1M539.5 265.9l-2.4 0.0M539.5 265.9l4.1 4.3M534.2 269.5l2.9-3.6M587.6 361.6l-2.7-1.3M584.9 360.3l-0.6-3.7M584.2 356.6l6.2-5.0M589.0 344.1l-0.4 4.8M590.4 351.6l-1.8-2.7M584.9 360.3l-3.9 2.6M581.0 363.0l2.2 6.7M606.7 316.9l-3.3-2.2M603.3 314.7l-0.6-4.1M602.8 310.6l1.0-1.4M599.7 317.7l3.6-3.0M596.3 310.5l-0.1 5.1M596.3 310.5l6.4 0.1M602.7 304.1l1.0 5.1M607.8 300.8l-5.1 3.3M608.5 297.1l-0.7 3.6M602.7 304.1l-4.2-2.2M596.3 310.5l-1.4-1.2M594.9 309.3l3.6-7.4M598.2 299.2l-0.2 1.8M590.5 293.5l-0.8 8.2M598.0 301.0l-8.3 0.7M598.0 301.0l0.5 0.9M525.6 288.4l-7.4-1.5M523.7 276.8l1.6 0.3M523.7 276.8l-6.7 2.8M517.0 279.6l1.3 7.3M525.1 296.1l-8.0-0.8M517.1 295.3l-2.4-4.6M518.3 286.9l-3.6 3.8M507.6 280.6l0.7 9.2M507.6 280.6l5.6-2.3M513.2 278.3l3.8 1.4M514.6 290.7l-6.2-0.9M508.3 289.8l0.1 0.1M503.9 278.8l3.7 1.8M499.2 280.8l4.7-2.1M499.2 280.8l-2.7 8.3M508.3 289.8l-11.8-0.6M425.8 338.0l-7.9-3.9M426.8 337.0l-1.0 1.1M490.2 322.2l3.4-5.2M490.2 322.2l6.7 2.6M496.9 324.9l1.7-7.0M493.6 317.0l4.9 0.8M501.2 327.1l2.9-1.9M501.2 327.1l-3.5-0.8M497.7 326.3l-0.8-1.4M504.1 325.1l0.4-5.9M499.9 317.1l4.7 2.2M499.9 317.1l-1.3 0.7M497.7 326.3l-3.6 4.4M502.4 332.2l-2.9 4.4M502.4 332.2l-1.2-5.1M499.5 336.5l-0.3 0.1M494.1 330.7l1.6 4.6M499.1 336.6l-3.4-1.3M499.1 336.6l-1.3 7.8M495.7 335.3l-6.8 4.5M493.2 344.2l4.7 0.1M493.2 344.2l-4.5-4.2M488.8 340.1l0.1-0.3M494.1 330.7l-4.4-1.0M488.8 339.8l-2.4-6.6M489.7 329.7l-3.3 3.5M490.2 322.2l-2.6 0.8M489.7 329.7l-2.1-6.7M491.6 313.3l2.0 3.7M486.2 321.7l0.9 1.1M487.1 322.8l0.5 0.2M495.0 291.8l0.7-1.9M495.7 289.9l-8.2-8.0M539.5 265.9l4.2-5.4M537.0 265.9l-3.7-5.2M536.4 256.2l-3.0 4.5M536.4 256.2l4.8 0.0M543.6 260.5l-2.4-4.4M550.9 267.8l-3.3-6.7M543.6 260.5l4.0 0.6M503.9 278.8l-1.4-8.7M502.5 270.0l3.8-2.2M513.2 278.3l0.0-7.6M513.2 270.6l-6.9-2.8M497.9 268.0l0.1 0.2M502.5 270.0l-4.5-1.9M506.3 267.9l1.5-5.6M326.3 418.2l2.3-4.4M333.5 414.5l-1.9-1.1M328.7 413.8l3.0-0.4M386.2 401.1l3.7-7.4M386.2 401.1l-4.0-1.2M382.2 399.9l-0.6-5.3M381.6 394.6l3.0-2.3M384.6 392.3l4.9 0.8M389.9 393.8l-0.3-0.7M386.6 401.7l-0.7 6.4M386.6 401.7l-0.5-0.6M378.6 402.2l3.6-2.3M381.6 394.6l-4.5-2.0M374.3 400.4l-0.8-1.5M373.5 398.9l3.6-6.3M383.3 387.5l1.3 4.8M376.1 389.5l3.4-4.0M376.1 389.5l-0.1 0.5M376.0 390.0l1.1 2.6M360.3 410.2l1.2-2.4M368.0 412.9l-3.1-5.4M361.5 407.7l3.3-0.3M356.9 403.3l1.1-0.1M352.2 407.2l4.7-3.9M361.5 407.7l-3.5-4.5M370.6 405.7l-3.8 0.0M366.9 405.7l-2.0 1.7M331.7 413.4l2.8-6.5M341.1 411.6l-1.6-4.8M339.5 406.9l-5.0 0.0M358.0 403.2l1.3-2.5M357.3 395.0l2.0 5.6M357.3 395.0l-4.2 0.7M356.9 403.3l-5.8-4.4M353.2 395.7l-2.1 3.2M314.1 530.8l3.1 5.2M309.1 530.7l4.9 0.1M308.8 542.1l5.0 0.9M317.1 536.0l-3.3 7.0M314.7 551.8l-0.5-8.5M314.2 543.3l-0.4-0.4M208.6 451.7l3.2 10.1M211.8 461.9l8.2-0.3M209.8 464.7l2.0-2.8M231.0 465.4l-1.7-1.7M231.0 465.4l-1.6 7.1M229.3 463.7l-7.8-0.8M221.5 463.0l-2.4 9.4M229.4 472.5l-7.4 2.2M222.0 474.7l-2.9-2.4M234.9 465.2l-3.9 0.2M234.0 478.6l-4.6-6.0M220.0 461.5l1.5 1.5M212.6 472.9l6.5-0.5M221.9 481.0l0.1-6.2M392.7 395.5l4.8-1.4M392.7 395.5l1.4 7.1M396.3 402.6l-2.0 0.2M396.3 402.6l4.0-5.7M400.3 396.9l-2.8-2.9M394.2 402.7l0.2 0.1M389.9 393.8l2.9 1.7M386.6 401.7l7.5 0.9M392.7 409.1l1.7-6.3M389.5 385.9l1.5 3.5M389.5 385.9l3.3-3.6M391.0 389.4l7.3-1.1M392.9 382.3l4.1 0.8M397.0 383.2l1.7 4.8M398.6 387.9l-0.4 0.4M389.5 393.1l1.5-3.7M387.8 385.3l1.7 0.6M385.2 379.3l1.2-1.0M391.5 379.4l-5.0-1.0M391.5 379.4l1.4 3.0M397.6 394.1l0.7-5.7M398.7 377.3l0.7 1.8M399.5 379.1l-2.5 4.1M391.5 379.4l2.3-3.3M398.7 377.3l-5.0-1.3M404.9 380.2l-5.5-1.1M399.9 387.9l5.6-4.4M399.9 387.9l-1.3-0.0M404.2 396.3l6.7-1.5M404.2 396.3l-0.4-5.4M407.5 389.3l-3.7 1.6M407.5 389.3l3.5 3.8M411.0 393.1l-0.1 1.7M399.9 387.9l4.0 2.9M403.8 396.9l0.5-0.6M403.8 396.9l-3.4 0.0M408.3 385.7l-0.8 3.6M414.6 388.8l-3.6 4.2M407.4 377.4l0.4-2.3M416.5 377.2l-5.2-4.8M407.8 375.2l2.8-2.8M411.3 372.3l-0.7 0.1M412.3 467.1l5.8-0.3M416.8 460.0l1.9 5.7M418.0 466.8l0.7-1.1M440.7 466.2l-3.1 4.5M440.7 466.2l-1.6-2.6M431.9 465.4l3.0-2.8M431.9 465.4l-0.1 0.9M431.8 466.4l5.8 4.3M439.0 463.5l-4.2-0.8M423.5 464.2l-4.8 1.5M418.5 458.4l4.4 0.9M423.5 464.2l0.9-2.1M422.9 459.3l1.5 2.8M423.0 451.1l2.8 3.0M422.9 459.3l2.8-5.3M414.0 445.0l3.2-4.8M409.6 436.9l1.8-1.3M411.4 435.6l5.7 4.6M432.8 450.4l-5.0-4.1M432.8 450.4l4.4-5.0M433.1 442.3l-4.8 1.1M427.8 446.3l0.6-2.8M433.1 442.3l4.0 2.9M437.2 445.4l-0.0-0.1M440.7 466.2l4.4 0.3M445.0 466.5l1.1 5.4M437.6 470.7l0.2 2.7M437.8 473.3l4.7 1.6M446.1 471.8l-3.6 3.0M434.8 475.8l3.0-2.5M440.7 483.5l3.6-2.7M435.0 481.5l-0.2-5.7M442.5 474.9l1.8 5.9M449.5 488.9l-2.1-7.5M444.3 480.8l3.2 0.6M436.9 420.9l4.8-0.3M436.9 420.9l-1.3-7.2M441.7 420.6l3.2-7.2M444.9 413.4l-5.8-2.8M439.0 410.6l-3.4 3.1M448.1 412.5l4.0 7.6M448.1 412.5l-3.3 0.9M444.6 423.0l-2.9-2.4M438.5 406.1l0.5 4.6M448.8 411.4l-0.7 1.1M432.3 413.0l3.3 0.8M435.7 422.2l-0.5 3.4M435.7 422.2l-7.3-2.5M435.1 425.6l-8.9 2.6M428.3 419.7l-2.8 6.8M426.2 428.2l-0.7-1.7M436.9 420.9l-1.2 1.2M427.5 418.3l0.5-2.4M427.5 418.3l0.8 1.4M427.5 418.3l-7.2 0.6M421.1 424.0l-0.8-5.1M421.1 424.0l4.4 2.4M433.1 436.3l-0.9-0.8M433.1 436.3l5.6 0.3M438.7 436.6l0.9-6.6M432.0 434.3l4.2-6.3M432.0 434.3l0.3 1.2M439.6 430.0l-3.4-2.0M433.1 442.3l0.0-6.1M440.5 438.4l-3.4 6.9M440.5 438.4l-1.9-1.8M426.0 429.7l6.0 4.6M426.0 429.7l0.3-1.5M435.1 425.6l1.1 2.4M445.1 429.1l-5.5 0.9M471.7 447.6l4.3-5.9M471.7 447.6l3.7 7.6M481.9 450.3l-3.7 5.2M481.9 450.3l-4.7-8.3M477.2 442.0l-1.2-0.3M475.4 455.2l2.8 0.3M471.5 436.4l0.8 0.3M472.2 436.7l3.8 5.0M464.8 447.6l6.9 0.0M471.8 457.0l-5.3-1.7M471.8 457.0l3.7-1.9M488.8 458.6l2.6-4.1M480.5 459.0l-2.3-3.5M485.4 449.5l-3.5 0.8M489.1 442.2l-4.9-3.2M484.1 439.0l-6.9 3.0M489.1 442.5l-0.1-0.3M484.1 433.9l-0.0 5.1M480.0 430.9l-7.7 5.9M480.0 430.9l4.2 3.0M444.7 390.4l0.3-2.0M445.0 388.4l-2.7-3.2M436.4 388.6l0.3-2.5M442.2 385.2l-5.6 0.9M430.6 384.1l4.4-0.4M435.0 383.7l1.6 2.4M455.7 402.5l5.0-1.8M460.7 400.7l0.5-5.2M451.1 395.6l3.5-3.3M454.6 392.2l6.5 3.3M468.5 402.1l1.4-1.3M463.1 402.4l5.5-0.3M460.7 400.7l2.4 1.7M461.2 395.6l3.7-2.5M464.8 393.0l1.2 0.5M470.0 400.8l-4.0-7.3M464.1 388.4l0.7 4.7M472.1 388.7l-3.1-3.0M469.0 385.7l-4.9 2.7M472.1 388.7l-0.9 3.2M466.0 393.5l5.2-1.6M453.4 420.8l3.9-0.5M455.7 432.1l-4.1-3.5M455.7 432.1l3.9-5.8M457.4 420.3l2.2 6.1M464.8 432.4l-1.2-4.9M455.7 432.1l0.2 0.8M458.0 435.0l-2.1-2.1M459.6 426.3l4.0 1.2M471.7 425.8l-3.7-2.2M470.3 434.5l1.4-8.7M463.6 427.6l4.4-3.9M456.6 410.0l2.3 8.8M456.6 410.0l5.7-1.2M466.8 412.0l-4.4-3.1M466.8 412.0l-6.5 6.6M460.3 418.6l-1.4 0.2M457.4 420.3l1.5-1.5M456.6 410.0l0.0 0.0M463.1 402.4l-0.7 6.4M468.5 402.1l0.7 8.8M468.3 411.9l1.0-1.0M468.3 411.9l-1.5 0.1M470.3 416.6l-2.7 5.7M468.3 411.9l2.0 4.7M467.6 422.3l-7.2-3.7M467.6 422.3l0.5 1.3M419.3 400.9l-5.3 2.0M419.3 400.9l0.1-3.7M419.4 397.2l-1.6-1.6M417.8 395.6l-6.2-0.1M411.6 395.5l0.2 5.4M411.8 400.9l2.2 2.0M425.2 394.0l-5.8 3.2M421.3 402.6l-1.9-1.7M418.0 389.7l-0.2 5.9M411.0 394.8l0.7 0.8M403.8 396.9l1.8 5.5M405.6 402.4l6.2-1.5M478.4 491.3l-4.0-1.9M475.6 483.7l-1.9 4.1M474.4 489.3l-0.6-1.4M472.5 497.1l-1.4-4.1M477.0 497.4l-4.4-0.3M478.8 492.2l-1.8 5.1M474.4 489.3l-3.2 3.7M473.8 487.9l-6.3-2.0M467.5 485.9l-0.1-0.5M473.3 479.4l-0.3-0.1M467.4 485.3l5.7-6.1M480.9 473.9l-4.5-4.1M476.4 469.8l-3.9 8.4M473.0 479.2l-0.6-1.0M457.1 457.0l0.1 7.7M457.1 457.0l-7.0 0.3M451.9 465.0l-1.9-7.7M451.9 465.0l2.1 1.2M454.0 466.2l3.2-1.5M480.2 464.2l-4.2 4.1M471.8 457.0l-1.4 5.7M470.4 462.7l5.7 5.6M467.5 475.8l5.0 2.4M476.4 469.8l-0.4-1.3M467.5 475.8l2.0-5.3M469.5 470.5l6.5-2.0M476.0 468.3l-0.0 0.2M429.5 499.9l-3.7 1.6M429.5 499.9l3.3 5.0M425.8 501.5l-0.8 4.4M432.8 504.8l-4.8 4.1M425.0 505.9l3.0 3.0M430.3 497.4l-0.8 2.5M421.6 498.1l4.2 3.4M437.9 500.5l0.0-1.0M434.2 504.8l-1.4 0.0M420.5 505.9l4.5-0.0M417.7 501.6l2.9 4.3M416.2 519.5l-5.6 1.1M416.2 519.5l2.3 4.2M411.4 527.3l-1.7-3.8M411.4 527.3l3.1 0.4M418.5 523.7l-4.0 4.0M434.1 512.9l3.7-3.4M434.1 512.9l-5.4-0.8M428.0 508.9l0.0 2.0M428.7 512.1l-0.7-1.2M418.8 509.6l1.7-3.7M418.8 509.6l2.8 2.9M428.0 510.9l-6.4 1.6M486.7 494.0l0.8 3.1M487.6 497.1l-7.2 4.2M477.0 497.4l2.5 3.6M480.3 501.2l-0.9-0.2M446.4 503.6l6.1-0.0M446.4 503.6l-0.4 0.5M446.1 504.1l1.9 6.0M452.6 503.6l0.1 0.1M452.7 503.7l1.1 7.1M448.0 510.1l5.2 1.4M453.2 511.5l0.6-0.8M452.9 497.9l-0.4 5.7M446.1 497.9l0.3 5.7M442.9 504.9l3.2-0.8M441.0 511.3l-1.2-1.6M445.0 512.3l-4.0-0.9M445.0 512.3l3.0-2.2M459.5 501.5l-0.5 1.4M456.5 497.0l2.9 4.5M458.9 502.9l-6.3 0.7M460.5 507.1l-1.5-4.2M460.5 507.1l-1.2 1.9M459.3 509.0l-5.5 1.7M472.6 544.5l-7.1-1.6M473.9 542.6l-1.4-7.6M468.4 532.6l4.1 2.4M465.0 533.1l-1.0 0.7M468.4 532.6l-3.3 0.5M464.1 533.9l1.3 9.0M450.8 545.8l1.5-2.4M452.3 543.4l2.9-0.9M452.8 553.3l4.0 1.7M461.2 549.7l-4.5 5.3M450.8 545.8l2.0 7.5M461.2 549.7l-0.2-3.7M455.2 542.5l5.9 3.5M461.2 549.7l8.2 4.3M473.5 550.0l-4.0 4.1M465.4 542.8l-4.4 3.1M464.1 533.9l-4.9 0.1M455.2 542.5l2.2-7.5M457.3 535.0l1.9-1.0M434.1 512.9l1.9 4.9M441.0 511.3l-1.1 5.1M439.9 516.4l-3.8 1.3M445.0 512.3l1.6 6.5M446.6 518.8l-2.9 0.4M439.9 516.4l3.8 2.8M418.5 523.7l4.3 0.7M418.3 531.7l5.0-4.4M414.5 527.7l3.8 4.0M423.4 527.2l-0.5-2.9M515.6 462.1l4.8-8.8M515.6 462.1l1.1 1.4M516.7 463.5l11.3-0.9M522.1 453.5l-1.7-0.2M522.1 453.5l6.9 8.1M528.9 461.6l-1.0 1.0M526.4 472.4l-5.1 0.4M516.7 468.9l0.0-5.4M517.5 447.9l0.1 2.5M517.7 450.4l2.7 2.9M526.9 449.7l-0.5-4.3M521.6 443.2l4.8 2.1M521.6 443.2l-4.1 4.7M526.9 449.7l-4.8 3.8M530.1 461.2l-1.2 0.3M505.8 448.5l4.2 4.7M505.8 448.5l-7.1 7.6M510.1 453.2l-0.4 6.9M500.4 460.0l-1.7-3.9M500.4 460.0l5.1 2.1M505.5 462.2l4.2-2.1M505.8 448.1l6.5-4.4M505.8 448.1l0.0 0.4M517.7 450.4l-7.6 2.8M512.4 443.7l5.2 4.2M501.6 443.5l-6.1 3.2M501.6 443.5l4.3 4.7M494.6 453.7l4.1 2.4M515.6 462.1l-6.0-1.9M495.1 465.0l5.3-5.0M505.5 467.0l-0.0-4.8M531.7 451.5l4.6-3.3M531.7 451.5l-0.1 7.8M536.2 448.2l4.0 5.6M531.5 459.3l7.9-2.4M540.2 453.8l-0.8 3.1M526.9 449.7l4.8 1.8M530.1 461.2l1.4-1.9M542.2 460.6l-2.8-3.6M548.0 452.2l-0.5-0.5M547.6 451.6l-7.3 2.2M526.4 445.4l4.6-3.5M536.2 448.2l0.5-2.4M531.1 441.8l5.7 4.0M547.6 451.6l-0.3-5.0M555.0 444.3l-7.7 2.3M575.7 429.3l-4.3-7.4M580.8 421.9l-6.4-3.1M574.4 418.7l-3.0 3.2M493.5 385.5l-8.0 2.9M493.5 385.5l-3.9-5.9M483.9 386.9l1.6 1.5M484.6 380.4l2.6-1.4M484.6 380.4l-0.7 6.6M489.6 379.6l-2.4-0.6M464.5 351.6l2.2 2.1M470.8 352.8l-4.1 0.8M498.3 344.8l-0.5-0.4M498.6 351.0l-0.3-6.2M498.6 351.0l-3.2 1.3M493.2 344.2l-1.9 5.5M495.5 352.3l-4.2-2.5M485.5 349.4l2.9 1.4M485.5 349.4l-0.2-7.2M485.3 342.2l3.5-2.1M491.3 349.8l-2.9 1.0M480.0 430.9l-0.6-4.5M471.7 425.8l5.4-1.6M479.4 426.4l-2.3-2.2M470.3 416.6l7.5 2.1M477.1 424.2l0.6-5.5M501.2 418.0l-1.1-4.6M501.2 418.0l6.9 4.0M500.0 413.4l0.1-0.3M508.0 422.0l2.4-3.8M510.4 418.2l-2.1-7.1M500.1 413.1l8.2-2.0M487.6 568.3l1.1-3.3M487.6 568.3l1.0 1.9M479.8 569.0l7.8-0.7M479.8 569.0l-3.3-7.3M476.5 561.7l5.7-5.4M482.5 556.4l6.1 8.6M478.6 570.2l1.2-1.2M470.4 560.9l-1.4-2.4M470.4 560.9l-1.5 5.6M468.9 558.5l-10.7 1.6M468.8 566.5l-6.8 2.6M462.0 569.1l-3.8-9.0M476.5 561.7l-6.1-0.7M469.5 554.0l-0.6 4.5M471.9 570.2l-3.1-3.7M458.2 560.1l0.0 0.0M456.7 555.0l1.5 5.1M461.5 570.2l0.5-1.1M452.1 570.2l0.6-6.8M452.7 563.4l5.5-3.3M495.4 497.0l2.1-3.0M490.0 505.8l-1.4-8.0M488.6 497.8l6.8-0.8M505.3 486.0l-2.9 7.7M494.2 487.7l3.4 6.2M488.6 497.8l-1.1-0.7M465.0 533.1l-1.9-8.6M468.4 532.6l3.8-7.8M463.2 524.6l6.5-1.5M469.6 523.1l2.3 1.2M472.0 524.3l0.2 0.4M389.1 544.5l6.8 0.2M389.1 544.5l-0.3-8.0M388.8 536.5l3.5-3.5M392.3 533.0l6.4 7.7M398.7 540.7l-2.8 4.0M397.4 549.2l-1.5-4.5M379.7 536.8l9.1-0.3M392.4 532.1l-0.1 0.9M402.5 550.4l3.5-4.5M406.0 545.8l-5.1-5.4M400.9 540.4l-2.2 0.2M407.0 509.9l2.2 5.4M407.0 509.9l3.9-3.2M409.2 515.3l5.5-2.5M410.9 506.7l1.3 0.2M412.2 506.9l3.2 3.6M415.4 510.5l-0.7 2.3M408.7 516.9l0.5-1.5M408.5 501.7l2.3 5.0M417.5 517.3l-1.3 2.1M417.5 517.3l-2.8-4.5M417.6 501.6l-5.4 5.3M418.8 509.6l-3.4 0.9M421.6 512.5l-1.0 4.1M417.5 517.3l3.1-0.7M564.8 241.2l-2.0 7.4M564.8 241.2l2.5-0.6M567.3 240.6l7.5 5.1M565.2 252.2l-2.4-3.6M565.2 252.2l8.3-0.1M573.5 252.0l2.1-3.3M575.6 248.8l-0.9-3.1M560.6 231.3l1.2 7.9M561.8 239.2l3.0 2.1M570.9 234.6l-3.7 6.0M578.7 237.9l-4.0 7.8M575.1 257.7l-1.6-5.7M563.4 256.2l1.8-4.0M583.4 248.7l-7.8 0.0M574.1 286.5l-8.9 3.6M568.7 297.2l-2.8-1.6M565.2 290.1l0.7 5.4M561.9 283.3l-0.3 2.9M565.2 290.1l-3.6-3.9M541.6 281.8l4.2 5.8M537.6 290.7l6.4 0.5M545.8 287.6l-1.8 3.6M551.3 279.9l-0.8 6.3M545.8 287.6l4.7-1.4M561.7 286.2l-6.7 3.1M550.5 286.2l4.5 3.2M559.4 299.6l-5.3-5.2M565.9 295.6l-6.5 4.1M555.0 289.3l-0.9 5.1M550.4 327.2l-6.1 1.3M550.4 327.2l-0.5-7.7M544.3 328.5l-1.2-7.4M543.2 321.1l6.7-1.5M554.1 294.4l-6.1 2.4M559.2 300.2l-5.3 4.6M553.9 304.8l-4.7-0.9M559.2 300.2l0.1-0.6M549.2 303.9l-1.2-7.1M544.0 291.1l1.6 4.5M535.9 298.2l4.2 1.3M540.1 299.6l5.5-3.9M545.6 295.6l2.4 1.2M584.1 328.5l-4.6 2.1M579.5 330.5l-0.8 1.5M587.2 329.3l-3.1-0.8M586.5 337.2l-6.8-0.5M579.7 336.7l-1.0-4.7M587.2 342.5l-5.5 0.8M579.7 336.7l-0.2 0.4M581.7 343.3l-2.1-6.2M584.2 356.6l-2.8-2.0M588.7 348.9l-7.9 0.4M581.4 354.6l-0.6-5.4M581.7 343.3l-2.7 4.2M580.8 349.3l-1.8-1.7M583.2 369.6l-1.7 2.3M581.6 374.2l-0.1-2.3M577.6 362.6l3.4 0.3M577.6 362.6l-2.2 6.1M581.5 371.9l-6.1-3.2M581.7 394.9l-0.1-0.0M581.7 394.9l-1.4-1.6M581.7 394.9l2.5 2.5M576.6 312.5l-2.9 3.1M576.6 312.5l6.2-0.2M573.7 315.6l3.4 5.6M582.8 312.2l0.6 8.1M577.1 321.2l5.5-0.0M583.4 320.3l-0.8 0.9M575.7 324.7l1.4-3.5M579.5 330.5l-3.9-5.8M584.1 328.5l-1.4-7.3M590.9 320.2l-7.5 0.1M591.7 309.1l-2.3-7.1M591.7 309.1l-3.2 2.8M583.6 311.6l4.8 0.3M583.6 311.6l-0.6-9.3M583.1 302.3l6.3-0.2M594.9 309.3l-3.2-0.2M589.7 301.7l-0.3 0.3M591.3 318.4l-2.8-6.4M582.8 312.2l0.8-0.6M574.9 306.1l1.7 6.3M582.2 301.6l0.9 0.7M462.9 359.3l-4.8-1.2M462.9 359.3l-1.1 6.0M461.8 365.4l-1.8 0.9M460.0 366.2l-4.1-3.6M455.9 362.6l0.2-2.9M458.1 358.1l-2.0 1.6M462.9 359.3l2.5-1.5M465.5 357.8l1.2-4.1M458.1 358.1l-0.4-6.6M452.5 364.7l-4.1-1.5M452.5 364.7l1.0 4.4M453.4 369.1l-5.7 2.5M448.3 363.2l-0.1 0.1M448.2 363.3l-1.5 6.8M447.8 371.6l-1.1-1.5M439.6 353.8l-3.7 3.1M434.2 349.3l-2.6 2.6M435.9 356.9l-1.6-0.4M434.3 356.5l-2.7-4.6M434.2 364.3l3.3-3.1M434.2 364.3l3.3 4.7M437.6 369.0l2.2 0.3M441.9 362.1l-1.1 6.5M441.9 362.1l-4.4-0.9M440.9 368.6l-1.1 0.7M442.2 361.9l6.0 1.3M442.2 361.9l-0.3 0.2M446.7 370.1l-5.8-1.4M439.6 353.8l3.5 3.6M443.1 357.4l-0.9 4.5M435.9 356.9l1.6 4.3M425.7 338.2l-3.5 3.6M425.7 338.2l3.6 6.0M422.2 341.8l1.7 6.5M429.3 344.2l-3.1 3.8M426.2 348.0l-2.2 0.3M425.8 338.0l-0.0 0.2M430.7 352.0l0.9-0.0M430.7 352.0l-4.5-4.0M410.7 348.8l5.4-3.6M416.1 345.2l0.0-2.6M409.7 348.7l-2.0-4.4M410.7 348.8l-1.0-0.1M416.2 342.6l-6.9-0.5M422.2 341.8l-5.7 0.3M417.9 334.1l-1.9 3.2M416.5 342.0l-0.6-4.7M416.2 342.6l0.4-0.6M416.1 345.2l1.9 2.7M424.0 348.3l-0.0 0.0M418.1 347.9l5.9 0.5M407.9 350.7l-5.6-0.2M407.9 350.7l0.5 5.0M408.3 355.6l-1.3 1.1M407.0 356.8l-4.7-1.0M409.7 348.7l-1.9 2.0M407.3 360.3l-0.2-3.5M403.2 363.3l4.1-3.1M403.2 363.3l-3.6-3.6M399.6 359.3l-0.0 0.4M399.6 359.3l2.8-3.4M395.4 355.8l4.2 3.4M502.4 332.2l5.4 0.7M505.7 339.5l-6.2-3.0M505.7 339.5l3.0-4.2M508.7 335.4l-0.9-2.5M506.3 308.9l3.5 7.6M506.3 308.9l6.5-5.4M516.5 305.9l-0.5 9.6M516.5 305.9l-3.4-2.4M509.7 316.5l6.2-1.1M513.1 303.5l-0.3-0.0M500.4 308.3l-0.6 8.8M509.5 316.9l-5.0 2.4M500.4 308.3l5.8 0.6M509.5 316.9l0.3-0.4M525.0 310.1l-4.3-4.6M525.0 310.1l-1.7 5.8M517.5 316.6l5.8-0.6M517.5 316.6l-1.5-1.1M520.7 305.5l-4.2 0.3M525.2 300.4l-4.5 5.2M517.1 295.3l-4.0 8.1M506.3 297.3l2.1-7.4M506.3 297.3l6.5 6.2M486.2 321.7l-7.5-1.1M478.6 320.6l-0.1-0.1M493.5 305.5l-0.7-6.7M493.5 305.5l2.1 2.0M500.0 308.0l2.0-9.4M500.0 308.0l-4.5-0.5M502.1 298.6l-6.6-3.8M495.5 294.8l-2.7 3.9M491.6 313.3l4.0-5.8M506.3 297.3l-4.2 1.4M500.4 308.3l-0.4-0.3M496.5 289.2l-0.8 0.7M495.0 291.8l0.5 3.1M499.2 280.8l-4.8-2.5M487.5 281.6l7.0-3.2M498.0 268.2l-4.3 4.2M494.5 278.4l-0.7-5.9M533.1 250.2l0.6-2.7M533.1 250.2l3.3 6.0M536.5 246.3l8.5 2.9M541.2 256.2l3.8-6.6M545.0 249.2l0.1 0.4M547.6 261.1l4.4-5.3M545.1 249.5l7.0 6.3M562.8 248.6l-6.1 0.0M556.0 257.6l-2.5-1.9M556.7 248.6l-3.2 7.1M553.5 255.7l-1.4 0.1M523.7 276.8l-4.2-9.3M513.2 270.6l4.6-3.6M519.5 267.6l-1.7-0.5M529.4 269.6l-3.5-5.0M519.5 267.6l6.4-3.0M507.8 262.3l6.8-3.3M517.8 267.1l-3.3-8.1M533.4 260.7l-6.0-0.2M525.9 264.6l1.5-4.0M331.3 403.7l3.1 3.2M331.3 403.7l-3.6 1.1M328.7 413.8l-3.3-4.4M327.7 404.8l-2.4 4.6M366.9 405.7l-0.6-5.3M373.5 398.9l-2.9-1.2M370.6 397.7l-4.4 2.6M359.4 400.6l4.1-1.7M366.2 400.4l-2.8-1.4M348.9 406.7l-2.1-3.1M351.1 398.9l-2.4 0.6M346.8 403.5l1.9-4.1M339.5 406.9l1.7-2.9M346.8 403.5l-5.7 0.4M335.2 392.9l-5.8 3.2M335.2 392.9l3.6 5.0M338.9 397.9l-0.1 0.6M338.7 398.5l-6.5 2.5M332.2 401.1l-2.8-4.9M329.4 396.2l0.0-0.1M341.1 404.0l-2.4-5.4M331.3 403.7l0.9-2.7M322.7 399.3l6.8-3.1M327.7 404.8l-5.0-5.6M310.5 513.0l0.9-8.4M311.4 504.5l4.7-1.3M308.3 503.2l3.1 1.3M379.4 384.2l-5.3-4.3M383.4 379.5l-4.7-5.3M374.1 379.9l4.6-5.7M421.5 373.3l3.9-1.0M420.7 375.4l0.9-2.1M428.2 379.3l1.1-1.9M429.3 377.4l-3.8-5.1M403.2 366.6l-1.0 5.8M403.2 366.6l-5.9 0.6M396.6 370.5l3.5 2.9M396.6 370.5l0.7-3.3M400.1 373.4l2.2-1.1M403.5 366.3l-0.2 0.2M403.5 366.3l4.0 1.0M407.8 375.2l-5.5-2.8M407.4 367.4l3.1 5.0M394.6 363.8l5.0-4.1M403.2 363.3l0.3 3.0M394.6 363.8l2.8 3.4M398.7 377.3l1.3-3.9M407.3 360.3l4.1 2.5M407.4 367.4l4.0-4.5M411.4 362.8l0.0 0.1M434.8 475.8l-4.6-1.5M431.8 466.4l-2.0 1.9M429.8 468.3l0.3 6.1M428.1 461.6l-3.7 0.5M423.5 464.2l2.2 3.8M431.9 465.4l-3.8-3.9M429.8 468.3l-4.1-0.3M427.9 482.8l-1.6-6.7M430.2 474.3l-3.8 1.8M442.1 451.0l4.9 6.0M442.1 451.0l-5.0 4.5M437.2 455.5l4.1 3.7M441.2 459.2l4.0-0.5M445.3 458.6l1.7-1.7M445.0 466.5l0.6-0.7M439.0 463.5l2.2-4.4M445.7 465.8l-0.4-7.2M445.7 465.8l6.2-0.8M448.9 456.7l1.1 0.7M448.9 456.7l-1.9 0.3M426.4 454.2l3.2 3.9M426.4 454.2l6.3-3.5M429.7 458.1l4.5-0.6M432.8 450.7l2.9 4.8M435.7 455.5l-1.5 2.0M428.1 461.6l1.6-3.5M425.7 454.1l0.7 0.1M423.0 449.3l4.8-3.0M432.8 450.4l-0.0 0.3M434.9 462.7l-0.7-5.2M437.2 455.5l-1.5 0.0M442.3 448.4l-5.2-3.0M442.3 448.4l-0.2 2.6M416.9 431.3l-5.1 3.5M416.9 431.3l-0.7-4.1M411.8 434.8l-3.6-6.6M416.2 427.2l-4.3-3.5M408.2 428.2l1.1-3.0M409.3 425.2l2.5-1.5M425.8 429.8l0.1-0.1M421.1 424.0l-5.0 3.1M425.8 429.8l-8.7 1.6M417.2 431.4l-0.3-0.1M403.4 430.5l4.8-2.3M411.4 435.6l0.4-0.8M417.8 416.7l-5.5 4.6M412.3 421.3l-0.4 2.3M420.4 418.9l-2.6-2.2M401.6 422.0l7.7 3.2M421.3 443.0l-3.4-2.9M421.3 443.0l4.6-2.7M417.9 440.1l2.4-3.6M420.3 436.5l3.7 0.1M424.0 436.6l2.0 2.5M426.0 440.3l0.0-1.2M421.0 446.9l0.3-3.9M417.2 440.2l0.8-0.1M428.3 443.4l-2.4-3.1M417.2 431.4l3.1 5.1M425.8 429.8l-1.8 6.8M432.3 435.5l-6.3 3.6M448.9 456.7l2.2-7.8M442.3 448.4l1.3-0.7M443.6 447.7l7.5 1.2M453.6 448.5l-2.0 0.1M457.1 457.0l0.9-0.8M451.6 448.6l-0.5 0.3M444.4 379.7l-1.5 1.3M444.4 379.7l-0.7-3.6M442.8 381.0l-6.4-1.6M443.7 376.1l-3.6-1.6M440.1 374.5l-4.2 3.1M435.9 377.5l0.6 1.9M442.2 385.2l0.6-4.2M435.0 383.7l1.4-4.2M439.8 369.3l0.3 5.2M447.8 371.6l-0.0-0.0M447.8 371.6l-4.1 4.5M437.6 369.0l-4.3 3.2M433.5 375.9l-0.2-3.7M433.5 375.9l2.4 1.6M429.3 377.4l4.2-1.5M447.8 371.6l3.3 4.4M444.4 379.7l5.1 1.1M451.0 376.0l-1.6 4.8M478.3 418.1l-0.6 0.7M469.2 410.9l8.1-1.8M478.3 418.1l0.6-6.6M478.9 411.4l-1.6-2.3M414.0 402.9l-0.4 3.2M420.0 410.9l-0.2 0.1M419.8 411.0l-6.2-4.9M417.8 416.7l-0.1-1.8M419.8 411.0l-2.1 3.9M404.4 416.4l-3.5-6.4M404.4 416.4l2.6-0.5M407.0 415.9l2.6-4.1M400.9 410.0l1.7-3.5M409.3 409.3l0.4 2.6M409.3 409.3l-5.1-3.4M402.6 406.5l1.6-0.6M396.7 411.8l4.1-1.7M401.1 420.1l3.3-3.7M412.3 421.3l-5.2-5.4M417.7 414.9l-8.1-3.1M396.3 402.6l6.3 3.9M413.6 406.1l-4.3 3.1M405.6 402.4l-1.4 3.5M466.6 487.7l1.3 4.4M466.6 487.7l-4.8 1.9M467.9 492.1l-3.5 3.8M461.8 489.6l-0.5 4.1M461.3 493.7l3.1 2.3M471.1 493.0l-3.2-0.9M467.5 485.9l-0.9 1.8M457.8 494.5l3.5-0.9M457.2 485.5l-3.5 3.7M457.2 485.5l4.6 4.1M459.3 465.2l2.9 4.5M459.3 465.2l4.6-3.0M462.2 469.7l4.3-1.8M466.5 467.9l0.8-4.0M463.9 462.2l3.4 1.7M463.3 457.5l0.5 4.7M457.2 464.7l2.0 0.6M470.4 462.7l-3.1 1.2M469.5 470.5l-3.0-2.6M446.1 471.8l5.8 1.6M447.5 481.4l3.7-2.1M451.9 473.4l-0.8 5.9M454.0 466.2l-0.8 6.2M451.9 473.4l1.2-1.0M452.7 563.4l-7.9-3.2M452.8 553.3l-6.4 2.8M446.4 556.1l-1.6 4.1M450.8 545.8l-8.8 2.2M446.4 556.1l-4.4-8.1M443.9 569.1l-0.5-8.0M440.1 560.6l3.3 0.5M443.4 561.2l1.5-0.9M435.2 555.1l3.9-8.1M435.2 555.1l4.9 5.5M442.0 548.0l-2.5-1.1M439.6 546.9l-0.5 0.2M434.1 544.8l4.9 2.3M434.1 544.8l-7.7 3.2M403.0 531.2l7.6-2.6M403.0 531.2l1.5 4.9M404.4 536.1l6.8 1.2M410.6 528.6l0.7 8.7M401.4 529.9l1.6 1.3M411.4 527.3l-0.9 1.4M400.9 540.4l3.6-4.3M418.5 534.9l-0.2-3.2M418.5 534.9l-5.4 4.1M413.1 539.0l-1.9-1.6M411.0 545.4l2.2-3.2M411.0 545.4l2.2 8.1M413.3 542.2l9.9 3.5M413.2 553.5l5.1-0.2M418.3 553.3l5.3-6.7M423.1 545.7l0.4 0.9M413.1 539.0l0.1 3.3M406.0 545.8l5.1-0.4M412.1 555.0l1.1-1.5M426.4 548.0l-2.8-1.3M467.4 517.6l-0.5-0.2M465.3 513.3l1.6 4.0M473.3 514.8l-5.9 2.7M465.3 513.3l2.3-3.5M473.3 514.8l-0.8-2.4M467.6 509.8l5.0 2.7M453.3 513.5l-0.1-1.9M453.3 513.5l-5.0 5.8M446.6 518.8l1.3 0.6M448.3 519.2l-0.4 0.1M420.6 516.6l3.6 2.6M428.7 512.1l-0.6 4.0M428.1 516.1l-3.8 3.1M422.8 524.3l1.4-2.0M424.3 519.2l0.0 3.1M446.3 537.3l-3.6 0.1M446.3 537.3l4.7-5.2M442.3 528.1l-0.6 8.1M442.3 528.1l5.1-1.1M442.7 537.4l-1.0-1.2M447.3 527.1l2.8 1.8M451.0 532.1l-0.9-3.3M452.3 543.4l-6.0-6.1M439.6 546.9l3.1-9.5M457.3 535.0l-6.4-2.9M424.3 522.3l7.3 1.4M428.1 516.1l5.1 4.6M431.5 523.7l1.7-2.9M443.6 519.2l-3.6 4.5M436.0 517.7l-1.1 2.3M440.0 523.7l-5.1-3.7M447.9 519.3l-0.6 7.7M442.3 528.1l-1.8-1.3M440.0 523.7l0.5 3.1M434.9 520.0l-1.7 0.8M484.1 433.9l5.9-3.4M489.1 442.2l6.1-7.0M490.0 430.4l4.5 3.1M495.1 435.2l-0.6-1.8M501.6 443.5l0.2-4.6M495.1 435.2l6.6 3.7M512.4 443.7l0.2-4.2M512.6 439.6l-8.5-2.4M501.7 438.9l2.4-1.8M570.2 439.7l-1.3-0.7M536.7 445.9l1.6-1.0M547.3 446.6l-0.9-1.0M538.3 444.9l8.1 0.8M574.4 418.7l0.2-4.4M565.5 414.5l-0.1 4.1M565.5 414.5l5.5-3.3M574.6 414.3l-3.7-3.1M571.4 421.9l-1.6 0.1M569.8 422.0l-4.4-3.4M477.8 394.0l3.6 2.5M477.8 394.0l-3.4 1.0M481.4 396.5l-4.2 7.1M474.3 395.0l-2.4 5.5M471.9 400.5l5.2 3.1M478.2 387.6l5.7-0.6M478.2 387.6l-0.4 6.4M485.5 388.4l0.8 5.0M486.3 393.4l-3.3 2.9M483.0 396.3l-1.6 0.2M472.1 388.7l5.4-1.6M477.5 387.1l0.7 0.5M471.2 391.9l3.1 3.1M470.0 400.8l1.9-0.3M478.0 405.5l-0.6 3.6M478.0 405.5l-0.9-1.9M480.8 378.8l-0.5-6.4M480.8 378.8l-5.2 2.0M475.5 380.7l-0.8-0.4M474.7 380.3l-2.7-6.5M480.3 372.4l-6.7 0.3M473.6 372.6l-1.6 1.2M484.6 380.4l-3.8-1.6M486.8 371.1l0.4 7.9M481.7 371.0l4.8-0.1M486.5 370.9l0.3 0.2M481.7 371.0l-1.4 1.4M477.5 387.1l-1.9-6.4M469.0 385.7l0.5-2.5M469.5 383.2l5.2-2.9M466.0 380.2l3.5 3.0M468.9 373.3l-2.9 6.9M468.9 373.3l3.1 0.5M492.3 370.6l2.7 4.9M492.3 370.6l2.8-4.4M495.1 366.2l4.5 0.3M499.6 366.5l2.3 7.3M501.9 373.8l-4.5 2.5M495.0 375.4l2.4 0.9M486.8 371.1l5.5-0.5M489.6 379.6l5.4-4.1M470.8 352.8l4.3 2.0M477.1 345.0l2.6 7.3M475.0 354.8l4.7-2.5M485.3 342.2l-4.3-0.8M477.1 345.0l3.9-3.6M485.5 349.4l-5.5 3.0M479.7 352.3l0.3 0.1M494.6 422.8l-2.5-5.4M494.6 422.8l-5.1 4.1M489.5 426.8l-2.9-2.3M486.6 424.5l-0.1-5.8M486.5 418.7l2.4-2.6M488.9 416.2l3.2 1.2M500.0 413.4l-7.9 4.0M497.4 423.4l-2.8-0.6M501.2 418.0l-3.7 5.4M499.7 427.0l-5.2 6.4M497.4 423.4l2.3 3.6M490.0 430.4l-0.5-3.6M479.4 426.4l7.2-1.8M478.3 418.1l8.2 0.7M478.9 411.4l9.0 0.1M488.0 411.6l1.0 4.6M508.8 406.0l-6.0-2.8M510.1 404.5l-1.2 1.5M510.1 404.5l-0.3-5.5M509.8 399.0l-6.1-3.1M503.7 395.9l-0.9 7.3M508.9 410.2l-0.6 0.9M499.3 411.7l0.8 1.4M499.3 411.7l0.8-7.3M508.8 406.0l0.1 4.3M500.1 404.5l2.7-1.2M482.1 539.1l-2.7-7.2M479.3 531.9l1.1-2.6M481.1 540.8l1.0-1.8M472.5 535.0l6.9-3.1M479.4 527.8l-7.3-3.0M479.4 527.8l1.0 1.5M479.4 527.8l1.5-6.9M472.0 524.3l4.1-7.4M480.9 520.9l-4.8-3.9M473.3 514.8l2.8 2.1M469.6 523.1l-2.2-5.5M476.1 516.9l0.0 0.0M560.7 315.5l-1.9-3.6M560.7 315.5l8.6 0.6M558.9 311.9l4.7-4.8M569.3 316.1l0.2-0.2M569.5 315.9l-2.9-8.4M566.7 307.5l-3.1-0.4M558.2 321.4l2.5-5.9M558.2 321.4l-7.5-2.6M550.6 314.5l0.0 4.3M555.8 311.0l3.1 0.9M555.8 311.0l-5.1 3.5M555.8 311.0l-1.8-6.2M559.2 300.2l4.3 6.8M568.0 320.7l2.9 5.2M568.0 320.7l1.3-4.7M575.7 324.7l-4.7 1.2M573.7 315.6l-4.1 0.3M569.3 305.1l-2.7 2.3M532.0 305.0l0.3 1.2M525.0 310.1l5.4-1.1M530.4 309.1l1.9-3.0M541.6 304.8l5.1 1.2M541.6 304.8l-3.3 3.0M538.3 307.9l1.5 6.5M539.8 314.4l7.1-2.8M546.9 311.6l-0.2-5.6M549.2 303.9l-2.5 2.1M540.1 299.6l1.5 5.3M532.2 306.1l6.1 1.7M550.6 314.5l-3.7-2.9M571.0 325.9l-1.0 2.1M578.7 332.0l-6.9 0.4M570.0 328.0l1.9 4.4M577.0 356.7l-3.8-2.3M577.0 356.7l0.3 5.7M573.2 354.3l-3.2 4.5M577.3 362.4l-6.4-0.7M570.9 361.6l-0.9-2.8M581.4 354.6l-4.4 2.1M577.6 362.6l-0.3-0.3M570.9 361.6l-2.0 3.4M575.4 368.8l-3.9 1.5M568.9 365.0l2.6 5.2M573.7 377.3l-2.9-5.7M573.7 377.3l7.8-3.0M571.5 370.3l-0.6 1.4M549.2 412.7l-5.3 0.1M550.9 407.8l-1.6 4.9M550.0 405.1l-4.9-3.0M550.9 407.8l-0.8-2.7M544.0 412.8l-3.8-5.0M545.2 402.1l-5.0 5.8M572.9 391.2l-4.7-5.3M572.9 391.2l0.5-0.2M573.4 391.0l2.9-7.8M568.2 385.9l1.1-4.5M576.4 383.2l-3.2-3.2M569.3 381.4l3.9-1.4M570.7 398.1l0.4-4.7M571.1 393.3l1.8-2.2M576.3 400.8l5.4-5.9M576.3 400.8l-5.6-2.7M580.3 393.2l-6.8-2.2M573.7 377.3l-0.5 2.7M571.1 393.3l-7.2-1.1M568.2 385.9l-5.5 1.9M563.9 392.2l-1.2-4.4M564.7 379.1l4.6 2.3M564.7 379.1l-4.0 4.7M560.7 383.8l1.1 3.3M561.8 387.2l0.9 0.6M581.2 406.6l-1.7 5.9M581.2 406.6l3.0-1.1M584.2 405.5l2.9 1.1M587.1 406.6l2.1 3.8M589.2 410.3l-1.5 3.5M587.8 413.9l-4.6 1.5M583.2 415.3l-3.8-2.8M576.9 404.1l4.2 2.4M576.9 404.1l-6.3 3.9M574.6 414.3l4.8-1.8M570.6 408.1l0.3 3.1M576.3 400.8l0.7 3.4M584.2 397.4l-0.0 8.1M591.7 420.0l-3.9-6.1M582.6 420.6l0.6-5.2M493.7 363.9l1.3-5.4M493.7 363.9l-7.2-1.7M488.9 356.5l5.1 0.5M488.9 356.5l-3.6 3.6M494.0 357.0l1.0 1.6M486.5 362.2l-1.3-1.5M485.2 360.7l0.1-0.7M500.3 358.4l2.2 2.8M501.9 364.6l0.5-3.3M501.9 364.6l-2.3 2.0M495.1 366.2l-1.4-2.3M500.3 358.4l-5.3 0.1M486.5 370.9l0.0-8.7M488.4 350.8l0.5 5.7M495.5 352.3l-1.5 4.7M480.0 352.3l5.2 7.7M498.6 351.0l2.9 1.7M501.6 352.7l-1.3 5.7M501.9 373.8l1.6 0.5M501.9 364.6l8.0 3.0M503.5 374.3l6.4-6.7M498.3 344.8l5.9-0.2M505.7 339.5l0.5 1.8M506.1 341.3l-1.9 3.2M501.6 352.7l4.8-1.0M502.5 361.3l4.4-2.1M506.4 351.8l0.5 7.3M504.3 344.6l3.0 6.4M506.4 351.8l0.9-0.8M507.3 351.0l0.9-0.1M508.2 350.9l5.2-5.1M506.1 341.3l7.5 2.0M513.6 343.4l-0.2 2.4M509.9 367.6l0.6-0.1M510.5 367.5l0.1-0.2M506.9 359.1l2.2 1.0M510.6 367.3l-1.4-7.2M452.7 352.0l-1.2 5.6M446.7 351.6l-0.6 4.5M446.2 356.1l3.7 2.4M449.9 358.4l1.6-0.8M456.1 359.7l-4.6-2.1M443.1 357.4l3.1-1.3M448.3 363.2l1.6-4.7M455.9 362.6l-3.4 2.1M434.3 356.5l-4.4 3.3M430.7 352.0l-3.6 3.8M429.9 359.8l-2.8-4.0M424.0 348.4l-0.9 4.9M423.0 353.2l1.7 2.3M424.7 355.6l2.4 0.2M527.0 319.3l-1.8 4.4M525.2 323.6l-6.4 2.7M517.5 316.6l0.1 8.1M523.3 316.0l3.7 3.3M517.6 324.7l1.2 1.7M509.5 316.9l1.9 7.0M517.6 324.7l-6.3-0.8M504.1 325.1l4.5 1.7M511.4 323.9l-2.7 2.9M507.8 332.9l1.8-3.5M508.6 326.8l0.9 2.6M478.6 320.6l-6.5 0.2M471.4 320.1l0.7 0.6M478.0 335.3l3.2-3.5M471.1 329.0l1.4-1.6M472.5 327.4l5.5-0.8M478.0 326.6l2.8 2.6M480.8 329.2l0.4 2.6M465.6 328.1l5.5 0.9M481.0 341.4l-3.0-6.1M486.4 333.2l-5.3-1.4M472.1 320.7l0.4 6.7M464.6 321.9l6.8-1.8M478.6 320.6l-0.6 6.0M487.1 322.8l-6.3 6.3M493.8 272.4l-7.2-0.6M555.9 240.5l-1.8 5.0M555.9 240.5l-3.7-3.9M554.1 245.5l-7.0 0.5M547.1 246.0l-1.4-7.9M545.7 238.1l6.5-1.5M561.8 239.2l-6.0 1.4M556.7 248.6l-2.6-3.1M554.5 231.2l-2.3 5.5M545.0 249.2l2.1-3.1M525.2 255.2l-4.6-9.5M525.2 255.2l-0.2 1.2M525.0 256.4l-10.4 2.4M514.6 258.8l-2.5-7.4M520.6 245.7l-6.3 2.1M514.3 247.7l-2.2 3.6M522.1 243.6l-1.5 2.1M533.1 250.2l-7.9 5.0M527.4 260.5l-2.4-4.2M514.6 259.0l0.1-0.2M321.2 397.7l0.3 1.3M322.7 399.3l-1.2-0.2M327.5 391.8l2.0 4.3M327.5 391.8l-5.3-1.6M322.2 390.2l-0.4 0.3M321.8 390.5l-0.6 7.2M323.0 387.2l5.2-3.0M331.4 387.7l-3.2-3.5M331.4 387.7l-3.9 4.1M322.2 390.2l0.8-3.0M358.5 393.1l4.3 0.0M358.5 393.1l-1.2 1.9M363.5 399.0l0.4-4.7M362.8 393.1l1.1 1.2M370.6 397.7l-1.6-3.6M363.9 394.3l5.1-0.2M376.0 390.0l-6.3 2.2M369.7 392.2l-0.7 1.9M348.7 399.4l-3.3-4.1M338.9 397.9l4.8-3.0M343.7 395.0l1.7 0.3M386.5 378.4l0.7-4.0M393.8 376.0l-1.3-3.3M387.2 374.4l5.3-1.7M396.6 370.5l-3.9 1.7M392.7 372.2l-0.2 0.5M395.4 355.8l-5.5 3.1M359.4 385.5l-5.8-4.5M359.4 385.5l3.3-0.8M362.6 384.8l-1.6-6.2M361.0 378.6l-5.7-1.4M371.5 380.9l-3.9-0.4M371.5 380.9l-0.3 4.7M367.6 380.5l-4.7 4.3M371.2 385.6l-3.9 2.4M367.3 388.0l-2.5-0.7M362.9 384.9l1.9 2.4M370.0 372.2l-0.3-0.1M364.8 375.2l4.9-3.1M364.8 375.2l2.8 5.3M364.8 375.2l0.0-0.0M372.9 380.0l-2.9-7.8M372.9 380.0l-1.3 1.0M376.1 389.5l-4.8-3.8M374.1 379.9l-1.2 0.1M364.8 375.2l-3.8 3.4M362.6 384.8l0.3 0.1M369.7 392.2l-2.3-4.2M362.8 393.1l2.0-5.8M357.1 389.5l2.3-4.0M358.5 393.1l-1.4-3.6M430.7 370.2l-4.2 0.8M430.7 370.2l0.8-6.0M426.5 371.0l-1.3-6.2M431.6 364.2l-2.0-1.5M429.5 362.7l-3.7 1.1M425.2 364.7l0.7-0.9M433.3 372.2l-2.5-2.0M425.4 372.3l1.0-1.4M434.2 364.3l-2.7-0.1M429.9 359.8l-0.4 2.9M422.7 359.2l2.0-3.7M422.7 359.2l3.2 4.6M418.1 363.0l-4.4 1.4M418.1 363.0l2.5 3.0M413.7 364.4l0.8 5.1M414.5 369.5l4.8 0.1M419.2 369.6l1.4-3.6M425.2 364.7l-4.6 1.3M418.7 359.6l-0.6 3.4M418.7 359.6l4.0-0.4M411.4 362.9l2.2 1.5M411.3 372.3l3.1-2.9M421.5 373.3l-2.3-3.7M417.8 358.4l-4.3-0.1M417.8 358.4l0.6-4.3M414.1 352.5l2.6-0.3M414.1 352.5l-2.1 3.4M412.0 356.0l1.5 2.3M418.4 354.1l-1.7-1.8M418.7 359.6l-0.9-1.2M411.4 362.8l2.1-4.5M423.0 353.2l-4.6 0.8M410.7 348.8l3.4 3.7M418.1 347.9l-1.4 4.4M408.3 355.6l3.7 0.3M420.3 479.0l5.2-3.1M420.3 479.0l-3.8-4.5M425.5 475.9l-2.5-4.0M423.0 471.9l-3.4-0.7M416.5 474.5l3.1-3.3M419.5 482.4l0.7-3.4M426.3 476.1l-0.8-0.3M414.2 474.8l2.3-0.3M425.7 468.0l-2.8 3.8M418.0 466.8l1.5 4.3M445.8 441.7l3.7-0.5M445.8 441.7l-3.5-3.4M450.0 436.5l0.1 4.1M450.0 436.5l-3.9-2.5M450.1 440.5l-0.6 0.7M446.1 433.9l-3.9 4.4M443.6 447.7l2.2-6.0M451.6 448.6l-2.1-7.3M440.5 438.4l1.7-0.0M455.9 432.9l-5.8 3.6M455.3 440.8l-5.2-0.3M445.6 429.5l0.5 4.4M454.6 392.2l0.1-1.3M445.0 388.4l4.4-2.8M454.8 390.9l-5.4-5.4M449.5 380.8l0.8 1.3M449.4 385.6l0.9-3.5M451.0 376.0l3.7-0.7M453.4 369.1l2.5 1.1M454.8 375.4l1.2-5.2M460.0 366.2l-1.3 3.1M467.0 367.1l1.1 5.6M468.1 372.6l-6.1 0.8M461.8 365.4l5.2 1.7M462.0 373.5l-3.3-4.2M458.7 369.3l-2.8 0.9M499.3 411.7l-7.3-3.1M488.0 411.6l0.6-1.3M492.1 408.7l-3.5 1.6M500.1 404.5l-5.7-3.0M492.1 408.7l2.4-7.2M478.0 405.5l7.5-1.5M488.6 410.3l-3.1-6.2M483.0 396.3l3.2 6.3M485.5 404.1l0.6-1.4M457.2 485.5l0.0-0.2M451.2 479.3l4.5 2.6M457.2 485.3l-1.5-3.4M467.4 485.3l-3.3-3.1M457.2 485.3l6.9-3.1M461.9 471.3l-3.6 2.6M461.9 471.3l5.1 4.6M458.4 473.9l1.0 3.4M459.3 477.3l4.7 1.9M467.0 475.9l-2.9 3.4M462.2 469.7l-0.3 1.6M453.2 472.4l5.2 1.5M467.5 475.8l-0.5 0.1M455.7 481.9l3.7-4.5M464.1 482.2l-0.0-3.0M434.6 535.0l-2.9 3.0M434.6 535.0l-1.3-5.9M426.8 530.0l5.3-1.7M426.8 530.0l-1.6 7.1M431.7 538.1l-6.3-0.7M432.2 528.3l1.1 0.8M425.3 537.1l0.2 0.3M434.1 544.8l-2.4-6.7M441.6 536.2l-7.1-1.1M440.5 526.8l-7.2 2.3M423.4 527.2l3.5 2.7M431.5 523.7l0.6 4.6M418.5 534.9l6.7 2.2M423.1 545.7l2.3-8.3M466.8 506.8l-1.9-7.9M466.8 506.8l0.1 0.1M466.9 506.9l5.1-2.4M472.0 504.5l-1.3-5.7M470.7 498.8l-5.6-0.2M465.1 498.6l-0.2 0.3M459.5 501.5l5.4-2.6M460.5 507.1l6.3-0.2M461.7 513.2l-2.4-4.2M461.7 513.2l3.6 0.1M467.6 509.8l-0.7-2.9M474.6 505.3l0.7 2.6M472.5 512.5l2.9-4.6M474.6 505.3l-2.7-0.8M479.4 501.0l-4.8 4.3M472.5 497.1l-1.9 1.7M464.4 496.0l0.7 2.7M457.4 526.7l-2.9-1.1M457.4 526.7l4.7-2.9M454.6 525.6l-0.3-3.5M454.2 522.1l4.4-3.8M462.1 523.8l-0.9-3.5M461.2 520.3l-2.5-2.0M458.6 518.3l0.0 0.0M459.2 534.0l-1.8-7.3M450.1 528.8l4.5-3.3M463.2 524.6l-1.1-0.8M448.3 519.2l5.9 2.8M453.3 513.5l5.3 4.8M466.9 517.3l-5.7 2.9M461.7 513.2l-3.0 5.0M538.3 444.9l1.6-7.5M546.4 445.6l0.7-8.5M547.1 437.1l-3.5-1.9M539.9 437.4l3.6-2.2M531.1 441.8l-0.1-0.7M531.0 441.2l3.5-5.7M539.9 437.4l-5.5-1.9M560.0 408.2l0.6 3.5M550.9 407.8l9.1 0.4M549.2 412.7l1.4 2.2M560.5 411.7l-3.5 3.8M550.6 414.9l6.5 0.6M560.5 411.7l4.9 2.8M565.4 418.6l-5.3 2.9M557.1 415.5l2.2 5.8M560.1 421.6l-0.8-0.3M479.0 364.7l0.8-1.6M479.0 364.7l-4.2 1.5M479.8 363.1l-4.7-5.4M474.9 366.2l-4.7-2.9M475.1 357.7l-4.9 5.5M470.2 363.2l-0.0-0.1M481.7 371.0l-2.7-6.3M485.2 360.7l-5.4 2.4M473.6 372.6l1.3-6.5M475.0 354.8l0.1 2.9M467.0 367.1l3.2-3.8M468.1 372.6l0.8 0.6M465.5 357.8l4.7 5.4M511.3 430.8l1.4-3.7M511.3 430.8l-5.9 2.2M512.6 427.1l-4.6-4.5M508.0 422.6l-5.4 4.9M502.6 427.5l2.8 5.5M512.6 439.6l2.6-2.4M504.1 437.1l1.3-4.1M515.2 437.2l-3.9-6.4M508.0 422.0l0.0 0.5M515.6 426.6l-2.9 0.5M517.8 421.5l-2.2 5.1M517.8 421.5l-2.7-3.5M510.4 418.2l4.7-0.2M499.7 427.0l2.9 0.5M526.1 436.9l0.3-2.8M526.1 436.9l-5.0 3.1M526.4 434.0l-5.3-4.2M521.1 440.0l-4.2-3.0M516.9 437.0l3.9-7.0M521.1 429.9l-0.3 0.1M531.0 441.2l-4.9-4.3M534.4 435.5l-1.9-4.9M532.5 430.5l-6.1 3.5M521.6 443.2l-0.6-3.3M515.2 437.2l1.7-0.2M515.6 426.6l5.2 3.3M524.7 425.4l-3.0-4.4M517.8 421.5l3.9-0.5M524.7 425.4l-3.5 4.5M497.8 396.1l-3.6 4.8M497.8 396.1l-3.5-4.7M494.2 391.4l-5.2 3.0M489.0 394.4l3.3 5.8M492.3 400.2l1.9 0.7M503.7 395.9l-0.5-0.9M503.3 395.0l-5.5 1.1M494.5 401.5l-0.3-0.6M486.2 402.7l6.1-2.4M486.3 393.4l2.7 1.0M501.4 389.0l2.1-5.6M501.4 389.0l-6.5-1.1M503.6 383.4l-5.6-2.0M498.0 381.4l-4.3 4.1M493.7 385.5l1.3 2.4M494.2 391.4l0.7-3.5M503.8 393.4l-2.3-4.3M503.3 395.0l0.5-1.6M506.1 377.3l-2.6-3.1M503.8 383.4l2.3-6.0M497.4 376.3l0.5 5.1M503.8 383.4l-0.2 0.1M493.5 385.5l0.1 0.0M485.5 516.0l-4.6-3.6M483.6 507.4l-2.6 3.2M483.6 507.4l4.8-0.0M481.0 510.6l-0.1 1.8M476.1 516.9l4.8-4.5M480.3 501.2l3.3 6.2M475.4 507.9l5.6 2.7M490.0 505.8l-1.6 1.6M540.3 319.5l-0.9-4.3M540.3 319.5l-5.2 4.3M539.4 315.2l-7.1-0.7M535.1 323.9l-6.2-4.9M528.9 319.0l3.5-4.5M550.7 318.8l-0.8 0.8M543.2 321.1l-2.9-1.6M539.8 314.4l-0.4 0.8M530.4 309.1l2.0 5.5M527.0 319.3l1.9-0.3M568.0 320.7l-5.7 3.1M570.0 328.0l-6.4 0.8M563.6 328.8l-1.3-4.9M558.2 321.4l0.1 0.1M558.3 321.5l4.1 2.3M579.5 337.1l-5.8 3.3M571.9 332.4l-1.8 2.9M573.7 340.4l-3.6-5.0M578.0 347.5l-5.5 3.5M578.0 347.5l-4.4-6.6M573.6 340.9l-3.7 2.5M569.9 343.4l0.1 6.5M572.5 351.0l-2.5-1.1M573.2 354.3l-0.7-3.3M579.0 347.5l-0.9-0.0M573.7 340.4l-0.1 0.5M525.2 323.6l3.9 5.4M535.1 323.9l-0.2 1.4M535.0 325.3l-5.8 3.8M543.5 329.7l-5.4-0.1M544.3 328.5l-0.8 1.3M535.0 325.3l3.2 4.4M570.1 358.8l-5.1-1.6M570.0 349.9l-2.4 0.4M564.9 357.2l-0.2-0.6M567.6 350.3l-2.9 6.2M564.7 379.1l-1.3-4.4M554.3 380.9l0.4-3.1M560.7 383.8l-6.4-2.9M563.4 374.7l-8.7 3.0M570.9 371.6l-7.1 2.1M563.4 374.7l0.3-1.0M562.4 361.9l-5.7-1.6M562.4 361.9l1.1 2.7M563.5 364.6l-2.4 4.5M561.1 369.1l-5.9-0.5M555.2 368.6l-0.5-5.7M554.7 362.9l2.0-2.6M564.7 356.6l-6.4-3.3M555.9 356.3l0.7 4.0M555.9 356.3l2.4-3.0M564.9 357.2l-2.5 4.7M568.9 365.0l-5.4-0.4M563.8 373.7l-2.7-4.7M546.1 366.2l-3.7-4.9M546.1 366.2l3.7-4.3M542.4 361.3l3.0-3.6M549.7 361.9l-1.1-3.5M545.4 357.7l3.2 0.7M544.2 354.7l1.3 3.0M539.9 353.9l4.2 0.8M539.9 353.9l-1.4 1.4M538.5 355.3l0.5 5.6M539.0 360.9l3.4 0.3M555.9 356.3l-4.4-0.8M551.5 355.5l-2.8 2.8M554.7 362.9l-5.0-1.0M547.5 350.2l1.8 0.5M549.2 350.7l2.3 4.8M544.2 354.7l3.3-4.5M555.2 368.6l-2.7 2.4M546.1 366.2l-0.0 0.4M546.1 366.6l6.4 4.3M554.8 377.8l-2.5-4.9M552.5 371.0l-0.2 1.9M553.9 381.3l-4.5 0.9M553.9 381.3l0.0 6.8M549.3 382.2l-2.4 5.9M553.9 388.1l-3.6 1.9M550.3 390.0l-3.3-1.9M545.2 379.8l4.1 2.4M545.2 379.8l-0.0-3.9M554.3 380.9l-0.5 0.4M545.2 375.9l7.0-3.0M556.6 389.8l5.2-2.7M556.6 389.8l-2.7-1.7M545.2 402.1l-0.1-0.3M545.0 401.7l-7.8-3.4M540.2 407.8l-3.2-0.1M537.2 398.4l-3.1 5.9M537.0 407.7l-2.9-3.5M560.0 408.2l0.7-1.4M570.6 408.1l-3.7-3.8M560.7 406.8l6.2-2.5M570.7 398.1l-3.4 3.0M566.9 404.3l0.4-3.3M552.4 395.7l1.8 5.2M552.4 395.7l4.3-2.0M556.6 393.7l4.6 2.7M554.2 400.9l3.6 0.3M557.8 401.2l3.4-4.6M561.2 396.4l0.0 0.1M550.0 405.1l4.2-4.2M545.0 401.7l1.6-4.9M550.9 395.1l-4.3 1.8M550.9 395.1l1.5 0.6M550.9 395.1l-0.6-5.0M556.6 389.8l0.0 3.9M563.9 392.2l-2.7 4.2M560.7 406.8l-2.9-5.7M567.3 401.1l-6.1-4.5M520.6 342.2l-5.2-1.0M513.6 343.4l1.7-2.1M520.6 342.2l2.6 4.9M513.4 345.8l5.5 5.2M518.9 351.0l4.3-3.9M508.2 350.9l5.1 3.9M509.1 360.1l3.9-2.1M513.3 354.8l-0.3 3.2M518.9 351.0l-0.2 1.5M513.3 354.8l5.4-2.3M510.6 367.3l7.1-5.0M513.1 358.1l4.6 4.2M509.5 329.4l5.0 1.0M518.8 326.4l-0.0 0.5M518.8 326.9l-4.2 3.5M508.7 335.4l6.0 1.7M514.5 330.4l0.2 6.7M515.3 341.3l-0.5-4.1M514.7 337.1l0.1 0.1M357.1 389.5l-4.6-0.3M351.3 382.1l1.2 7.1M353.2 395.7l-2.4-4.8M352.5 389.2l-1.7 1.7M345.3 395.3l4.0-4.3M350.8 390.9l-1.4 0.1M387.2 367.6l3.4 0.8M387.2 367.6l-1.3-2.1M385.9 365.6l4.2-5.5M390.7 368.4l3.9-4.6M394.5 363.8l-4.4-3.7M387.2 374.4l-1.7-2.4M385.4 372.0l1.8-4.4M392.7 372.2l-2.0-3.8M382.0 364.7l3.9 0.9M394.6 363.8l-0.0-0.0M380.4 365.7l0.1 6.3M373.6 371.1l5.1 2.9M380.5 372.0l-1.8 2.0M385.4 372.0l-4.9-0.0M370.0 372.2l3.7-1.2M378.7 374.2l-0.0-0.2M461.1 386.0l-2.4-0.1M461.1 386.0l3.0-5.4M458.7 385.9l-2.4-3.6M456.3 382.3l1.6-4.5M464.1 380.6l-3.9-3.6M460.2 377.0l-2.3 0.8M464.1 388.4l-3.0-2.4M454.8 390.9l4.0-5.0M466.0 380.2l-1.9 0.4M450.3 382.1l6.1 0.2M454.8 375.4l3.1 2.5M462.0 373.5l-1.8 3.5M550.6 414.9l-0.9 5.6M559.3 421.2l-6.9 2.9M549.7 420.5l2.7 3.6M543.5 435.2l-1.0-6.1M532.5 430.5l0.2-0.5M542.5 429.1l-0.1-0.1M532.7 430.0l9.7-1.1M552.1 427.5l0.3-3.4M542.5 429.1l9.6-1.6M549.7 420.5l-7.8 1.9M541.9 422.4l0.5 6.5M547.1 437.1l4.5-1.1M552.1 427.5l1.4 2.4M553.6 430.0l-2.0 6.1M555.0 444.3l2.0-3.3M551.5 436.0l5.5 4.9M563.2 443.3l-5.9-2.4M557.1 440.9l0.2-0.0M562.0 426.8l-3.3 3.5M562.0 426.8l3.7 0.7M565.8 427.5l3.0 5.1M561.0 434.5l-2.2-4.3M561.0 434.5l6.9 0.2M568.7 432.6l-0.9 2.2M553.6 430.0l5.2 0.3M560.1 421.6l2.0 5.2M569.8 422.0l-4.0 5.5M575.4 429.7l-6.6 2.8M557.3 440.9l3.7-6.4M568.9 438.9l-1.0-4.2M518.8 326.9l3.8 5.9M529.1 329.1l-0.5 1.8M528.6 330.9l-6.1 1.9M514.8 337.2l7.5-3.7M520.6 342.2l3.5-3.6M524.1 338.6l-1.8-5.1M522.5 332.8l-0.2 0.7M543.5 329.7l1.8 5.5M545.3 335.2l-1.1 2.2M538.1 329.6l-2.8 5.5M535.3 335.1l5.3 3.1M544.2 337.4l-3.6 0.8M546.6 396.9l-3.6-4.4M547.0 388.2l-1.9 0.5M543.1 392.5l2.1-3.9M506.1 377.3l6.0 0.3M510.5 367.5l4.6 6.0M512.1 377.7l2.9-4.2M539.0 360.9l-3.5 2.8M546.1 366.6l-3.6 2.9M535.5 363.7l-0.1 1.2M535.3 364.9l0.9 1.8M536.2 366.7l6.3 2.8M545.2 375.9l-2.9-2.5M542.3 373.4l0.1-3.9M522.8 378.4l-7.7-4.9M519.9 369.4l-4.7 4.1M519.9 369.4l5.2 1.9M522.8 378.4l1.2-0.9M524.1 377.4l1.0-6.1M518.7 352.5l3.0 4.0M517.7 362.2l0.9 0.0M521.7 356.5l-3.1 5.8M525.0 371.3l2.3-1.5M527.8 367.6l-0.5 2.2M527.8 367.6l-2.0-3.1M519.9 369.4l0.2-5.5M525.8 364.5l-5.8-0.5M515.1 373.5l-0.1 0.0M520.0 364.0l-1.4-1.7M361.2 371.7l-6.4 1.3M364.8 375.2l-3.6-3.5M349.4 391.0l-3.6-3.7M348.5 381.9l-2.7 5.4M530.1 424.9l-0.5-7.1M530.1 424.9l1.0 0.7M531.1 425.6l8.9-5.1M529.6 417.7l2.9-2.9M539.5 418.4l-5.8-3.8M539.5 418.4l0.5 2.1M532.4 414.8l1.2-0.2M523.6 416.6l-1.9 4.3M523.6 416.6l6.0 1.1M524.7 425.4l5.5-0.5M532.7 430.0l-1.6-4.4M541.9 422.4l-2.0-1.9M537.0 407.7l-3.3 6.8M544.0 412.8l-4.5 5.5M550.4 327.2l2.0 1.3M545.3 335.2l5.8-0.9M552.4 328.5l-1.3 5.8M558.3 321.5l-3.4 6.5M552.4 328.5l2.5-0.5M544.2 337.4l2.9 5.1M553.3 342.2l-6.2 0.3M553.3 342.2l-0.5-6.4M551.1 334.3l1.7 1.5M535.3 335.1l-2.4 0.7M528.6 330.9l3.5 4.7M532.9 335.8l-0.7-0.2M524.1 338.6l3.0 0.8M532.2 335.6l-5.1 3.8M525.4 347.4l-2.3-0.3M525.4 347.4l3.4-2.5M527.1 339.4l1.7 5.4M539.5 349.1l-5.5-0.6M539.5 349.1l2.0-2.0M541.5 347.1l-2.8-4.4M538.7 342.7l-4.7 0.6M534.0 348.6l-1.6-3.3M532.4 345.2l1.6-2.0M547.5 350.2l-2.4-3.5M539.9 353.9l-0.4-4.8M545.1 346.8l-3.6 0.3M540.7 338.3l-2.0 4.4M547.1 342.5l-2.0 4.3M532.9 335.8l1.1 7.4M528.8 344.9l3.6 0.4M534.1 404.2l-2.2-0.1M531.9 404.2l-4.5 3.6M532.4 414.8l-5.1-6.0M527.3 408.8l0.1-1.0M523.6 416.6l-1.9-3.3M527.3 408.8l-5.6 4.5M515.1 418.0l3.9-5.7M521.7 413.3l-2.7-1.0M508.9 410.2l9.3 1.0M510.1 404.5l8.9-1.4M519.0 403.1l-0.8 8.1M518.2 411.2l0.8 1.1M545.2 379.8l-3.4 2.2M545.1 388.6l-3.8-3.8M541.8 382.0l-0.5 2.8M527.5 407.8l-5.9-5.0M519.0 403.1l0.1-0.1M519.1 403.0l2.5-0.2M531.9 404.2l-4.8-6.4M521.5 402.8l5.5-5.0M533.9 373.8l3.0 2.2M533.9 373.8l-1.4 0.2M532.5 374.0l-3.3 3.8M536.9 376.0l0.2 2.5M537.2 378.5l-4.0 4.7M529.2 377.8l2.6 5.6M531.8 383.4l1.3-0.1M536.2 366.7l-2.2 7.1M542.3 373.4l-5.4 2.6M535.3 364.9l-7.5 2.7M527.3 369.8l5.2 4.2M524.1 377.4l5.2 0.3M541.8 382.0l-4.7-3.4M537.6 386.6l-4.5-3.4M541.3 384.8l-3.7 1.8M524.1 356.4l3.9 3.5M524.1 356.4l3.4-4.2M527.5 352.2l4.7 0.9M531.3 359.4l-3.3 0.5M531.3 359.4l1.5-5.1M532.8 354.4l-0.6-1.3M521.7 356.5l2.4-0.1M525.8 364.5l2.1-4.6M525.4 347.4l2.1 4.8M534.0 348.6l-1.8 4.5M535.5 363.7l-4.2-4.3M538.5 355.3l-5.7-1.0M341.7 389.0l0.5-0.7M341.7 389.0l-6.2 1.2M342.2 388.3l-2.6-7.2M335.5 390.2l-1.5-2.0M334.0 388.2l3.5-7.7M343.7 395.0l-2.0-5.9M345.8 387.3l-3.7 1.0M335.2 392.9l0.3-2.7M331.4 387.7l2.6 0.5M563.4 348.1l-5.1 4.8M563.4 348.1l-0.8-2.7M562.6 345.4l-4.5-2.6M558.4 352.9l-3.9-5.2M554.5 347.7l0.7-4.2M555.2 343.5l2.9-0.8M567.6 350.3l-4.2-2.3M558.4 353.3l0.0-0.4M569.9 343.4l-3.5-1.2M566.4 342.1l-3.8 3.2M549.2 350.7l5.2-3.0M553.3 342.2l1.9 1.3M566.2 336.1l-0.7 0.9M566.2 336.1l-3.0-6.5M565.5 337.0l-5.1 1.0M560.4 338.0l-2.4-3.6M558.0 334.4l0.8-3.0M563.2 329.6l-4.4 1.7M570.1 335.4l-3.9 0.7M566.4 342.1l-0.9-5.1M563.6 328.8l-0.4 0.8M558.2 342.8l2.2-4.8M552.8 335.8l5.2-1.5M554.9 328.0l3.9 3.3M537.2 398.4l-0.1-0.4M543.1 392.5l-4.0 0.7M537.1 398.0l1.9-4.8M537.6 386.6l-0.6 3.8M539.1 393.2l-2.1-2.8M513.9 384.1l2.0 0.6M513.9 384.1l-3.3 2.4M515.9 384.7l2.9 8.1M510.5 386.5l-1.1 4.0M509.4 390.5l5.1 4.9M518.8 392.9l-2.5 2.7M514.6 395.4l1.8 0.2M522.8 378.4l-0.8 4.1M512.1 377.7l1.7 6.4M522.1 382.5l-6.2 2.3M503.8 383.4l6.8 3.1M503.8 393.4l5.6-2.9M509.8 399.0l4.8-3.7M519.1 403.0l-2.8-7.4M521.7 392.5l3.6-6.8M521.7 392.5l5.7 3.7M527.4 396.3l2.0-1.5M529.4 394.8l1.3-3.8M530.7 391.0l-1.8-4.7M528.9 386.3l-3.6-0.5M522.1 382.5l3.2 3.3M518.8 392.9l2.8-0.4M527.1 397.8l0.3-1.6M537.1 398.0l-7.7-3.2M537.0 390.4l-6.3 0.6M531.8 383.4l-3.0 2.9" fill="none" stroke="#000" stroke-width="0.58"/></g>
<g fill="none" stroke="#000" stroke-width="1.45" stroke-linejoin="round" stroke-linecap="round">
<path d="M231.8 116.5 L232.9 126.3 L233.7 137.6 L234.4 148.9 L233.5 158.3 L232.2 168.3 L228.6 172.4 L227.3 175.6 L230.1 179.9 L231.0 190.3 L228.6 205.4 L225.4 223.8"/>
<path d="M191.9 161.1 L232.2 168.3"/>
<path d="M225.4 223.8 L310.5 234.0"/>
<path d="M225.4 223.8 L223.5 227.9 L224.4 231.7 L222.0 236.4 L220.5 241.5"/>
<path d="M191.9 231.7 L197.5 234.5 L204.1 234.0 L210.7 235.5 L215.4 239.2 L220.1 243.0 L222.9 250.5 L223.9 258.1 L226.7 267.5 L227.6 275.0"/>
<path d="M305.8 159.2 L302.0 162.1 L301.1 171.5 L293.2 177.7 L289.8 183.7 L291.6 190.3 L288.8 195.9 L289.8 203.5 L295.4 209.1 L301.1 214.8 L307.6 222.3 L311.4 227.9 L311.4 234.0 L313.3 244.9 L318.9 251.5 L320.3 258.4 L325.5 265.6 L325.2 275.0"/>
<path d="M320.3 258.4 L350.0 260.3 L366.2 260.9"/>
<path d="M224.8 265.0 L226.7 276.3 L228.6 291.4 L230.5 298.9 L236.1 307.4 L239.9 310.2 L236.1 315.8 L238.0 320.5 L242.7 326.2 L241.2 344.1 L239.3 359.1 L236.1 374.2 L235.2 386.4 L232.4 425.0"/>
<path d="M228.6 291.4 L297.3 299.8 L301.1 304.2"/>
<path d="M191.9 298.9 L231.8 304.9"/>
<path d="M191.9 368.2 L236.1 374.2"/>
<path d="M235.2 386.4 L315.2 394.9 L318.0 400.5 L312.0 405.8 L322.7 406.2"/>
<path d="M324.6 265.0 L325.5 272.5 L319.9 278.2 L310.5 281.9 L308.6 286.6 L310.5 291.4 L304.8 297.9 L301.1 304.5 L300.1 313.9 L302.9 323.4 L308.6 329.9 L312.4 337.5 L318.0 339.4 L319.9 342.2 L316.1 349.7 L317.1 356.3 L323.6 362.9 L329.3 372.3 L331.2 379.8 L334.9 384.5 L334.0 390.2 L328.4 394.9 L329.3 396.8 L324.6 404.3 L321.8 409.9 L318.0 417.5 L316.1 425.0"/>
<path d="M234.2 415.0 L228.6 450.8"/>
<path d="M191.9 443.2 L197.5 442.9 L205.1 442.3 L210.7 443.2 L215.4 444.2 L221.1 447.0 L228.6 450.8 L236.1 453.6"/>
<path d="M236.1 453.6 L235.2 466.8 L233.3 488.4 L236.1 495.9 L238.9 505.4 L239.3 512.9 L236.1 520.4 L234.2 527.9 L232.4 537.4 L229.5 543.0"/>
<path d="M235.2 466.8 L290.7 472.4"/>
<path d="M319.9 415.0 L314.2 422.5 L310.5 429.1 L304.8 435.7 L299.2 443.2 L293.5 450.8 L291.6 458.3 L290.7 463.9 L291.6 472.4 L289.8 479.0 L293.5 486.5 L292.6 492.2 L287.9 497.8 L283.2 503.5 L279.4 511.0 L277.5 517.6 L313.3 520.4 L312.4 527.9 L315.2 535.5 L314.2 543.0"/>
<path d="M310.5 429.1 L350.0 431.6"/>
<path d="M293.5 116.4 L298.5 118.5 L304.1 119.2 L306.2 122.8 L311.2 124.9 L314.7 128.4 L323.9 127.7 L328.1 129.1 L332.4 129.8 L339.4 132.6 L342.9 134.1 L346.5 133.5"/>
<path d="M346.5 133.5 L349.3 131.2 L352.1 127.7 L354.9 124.9 L360.6 121.4 L364.8 117.8 L367.4 115.7"/>
<path d="M346.5 133.5 L342.2 135.5 L336.6 137.6 L330.9 139.7 L325.3 143.2 L319.6 148.2 L314.0 153.1 L308.4 157.4 L304.1 159.9"/>
<path d="M304.1 159.9 L309.8 160.2 L316.8 158.1 L322.5 155.9 L326.7 155.2 L330.9 153.4 L332.4 154.5 L329.5 157.4 L326.7 159.5 L323.9 163.7 L326.0 163.0 L328.1 163.7 L332.4 164.4 L338.0 162.3 L343.6 160.2 L349.3 158.1 L353.5 155.9 L357.8 153.1 L362.0 150.3 L366.2 148.2 L370.5 147.5 L374.7 148.2 L371.2 150.3 L367.6 153.1 L364.1 156.6 L362.0 160.2 L362.7 163.0 L364.8 160.2 L367.6 159.5 L371.9 161.6 L376.1 165.1 L378.9 168.6 L383.2 170.1 L387.4 171.5 L390.2 172.2 L394.5 170.1 L400.1 167.9 L405.8 167.0 L410.0 166.5"/>
<path d="M326.0 163.3 L332.4 167.2 L338.0 170.8 L346.5 175.0 L353.5 178.5 L360.6 181.4 L366.2 184.2 L369.1 187.0 L369.8 191.2 L371.2 195.0"/>
<path d="M395.2 115.7 L397.3 120.6 L399.4 127.7 L401.5 133.4 L405.8 137.6 L410.0 138.3"/>
<path d="M399.5 130.0 L401.6 134.2 L405.2 137.8 L410.8 138.5 L416.5 137.8 L418.6 139.2 L417.9 144.1 L420.7 148.4 L422.8 152.6 L420.7 156.8 L420.0 160.4 L423.5 163.2 L425.6 163.9 L423.5 166.7 L422.8 169.5 L425.6 171.6 L429.9 171.6 L430.6 175.2 L429.2 178.7 L432.0 180.8 L433.4 176.6 L436.9 176.6 L444.7 178.0 L456.0 178.7 L461.6 180.1 L467.3 181.5 L472.9 182.9 L480.0 183.6"/>
<path d="M360.0 153.3 L364.2 149.1 L369.9 147.2 L374.1 148.1 L370.6 150.5 L367.1 154.0 L363.5 158.2 L361.4 161.8 L362.8 163.2 L365.6 160.4 L368.5 159.6 L372.7 162.5 L376.9 166.7 L381.2 169.5 L385.4 170.9 L389.6 171.6 L395.3 168.8 L400.9 167.4 L408.0 166.4 L413.6 165.3 L416.5 166.0 L417.2 170.9 L422.1 172.4 L426.4 173.8 L429.2 178.7"/>
<path d="M370.6 197.8 L373.4 196.4 L376.9 192.1 L381.2 186.5 L386.1 183.6 L390.4 184.4 L388.9 189.3 L393.2 185.8 L398.1 183.6 L405.2 181.5 L408.7 180.1 L413.6 182.2 L419.3 185.1 L422.1 184.4 L426.4 182.9 L430.6 182.0 L432.0 180.8"/>
<path d="M405.2 210.0 L407.3 204.8 L408.7 200.6 L412.2 197.8 L414.4 195.6 L415.1 192.1 L417.9 188.6 L422.1 187.9 L426.4 189.3"/>
<path d="M436.2 181.5 L444.7 184.4 L453.2 186.5 L458.8 188.6 L465.9 192.1 L468.7 195.6 L469.4 189.3 L467.3 184.4 L464.5 182.2 L458.8 181.5 L451.8 180.8 L444.7 180.1 L439.1 179.4 L436.2 181.5"/>
<path d="M401.6 142.7 L403.8 141.6 L407.3 142.0 L407.7 143.4 L405.2 144.1 L402.4 143.8 L401.6 142.7"/>
<path d="M351.8 137.6 L354.9 134.8 L360.6 131.9 L364.1 131.0 L363.4 132.6 L359.2 135.5 L354.2 137.9 L351.8 137.6"/>
<path d="M405.9 188.6 L407.3 189.3 L407.3 192.1 L405.9 192.8 L405.2 190.7 L405.9 188.6"/>
<path d="M360.0 180.1 L365.6 184.4 L369.9 190.7 L370.6 197.8"/>
<path d="M370.8 185.1 L370.5 190.0 L369.6 196.6 L372.1 199.9 L368.8 206.5 L366.4 213.1 L367.2 215.0 L372.9 208.1 L377.9 201.5 L382.8 196.6 L385.3 195.4 L385.3 197.4 L382.0 203.2 L378.7 209.8 L375.4 216.4 L372.9 222.9 L370.5 231.2 L368.0 239.4 L366.4 246.0 L366.0 255.9 L366.4 262.5 L368.0 270.7 L370.5 276.5 L374.6 280.6 L379.5 280.3 L384.5 277.3 L388.6 272.4 L391.9 265.8 L393.5 259.2 L393.5 252.6 L391.9 246.0 L389.4 239.4 L389.4 232.8 L390.2 226.2 L392.7 221.3 L395.2 216.4 L395.2 211.4 L398.5 208.9 L401.8 206.5 L404.2 203.2 L405.9 206.5 L408.4 201.5 L410.8 198.2 L414.9 197.4 L416.6 194.9 L415.8 190.0 L414.9 186.7"/>
<path d="M386.1 278.9 L416.6 279.8 L445.4 283.9 L450.0 285.5"/>
<path d="M425.6 188.4 L432.2 192.5 L438.8 196.6 L442.1 201.5 L442.9 206.5 L441.3 213.1 L440.5 219.6 L438.0 225.4 L435.5 228.7 L433.1 230.4 L432.2 233.6 L434.7 236.9 L438.0 236.1 L440.5 232.8 L443.8 229.5 L447.9 227.9 L452.0 230.4 L454.5 236.1 L456.1 244.4 L456.9 250.9 L458.6 254.2 L455.3 257.5 L452.8 260.0 L453.6 262.5 L450.4 264.1 L447.1 267.4 L446.2 270.7 L447.1 273.2 L445.4 275.6 L442.9 278.9 L446.2 283.1 L450.0 285.5"/>
<path d="M453.6 262.5 L456.1 264.1 L457.3 266.6 L456.1 269.9 L453.6 272.4 L449.5 273.7 L447.1 273.2"/>
<path d="M438.4 177.2 L449.9 178.2 L459.8 179.9 L469.6 181.5 L477.9 183.2 L483.6 184.8 L486.1 189.8 L489.4 194.7 L492.7 198.0 L495.2 202.9 L498.5 207.1 L500.1 210.4 L496.8 210.4 L495.2 215.3 L492.7 216.9 L487.8 213.6 L484.5 212.0 L482.0 215.3 L479.5 209.5 L477.1 207.1 L475.4 202.1 L473.8 200.5 L468.8 200.5 L472.9 202.9 L474.6 207.9 L475.4 213.6 L472.9 219.4 L469.6 224.4 L468.0 229.3 L468.0 235.9 L467.2 242.5 L464.7 246.6 L459.8 250.7 L457.3 251.9"/>
<path d="M446.6 275.4 L449.9 273.8 L456.5 271.3 L461.4 268.8 L466.4 268.0 L471.3 263.9 L475.4 260.6 L482.8 258.9 L489.4 260.6 L496.8 261.1 L492.7 259.8 L494.4 258.1 L500.9 255.6 L507.5 254.0 L514.1 253.2 L516.6 254.0 L514.9 256.5 L510.8 259.8 L505.9 263.1 L499.3 267.2 L492.7 270.5 L486.1 273.8 L479.5 277.1 L472.9 280.4 L468.0 283.6 L463.1 285.3 L458.1 287.8 L452.4 286.9 L449.9 285.3"/>
<path d="M499.3 269.6 L499.3 273.4 L576.7 269.6 L580.0 271.3"/>
<path d="M489.4 275.4 L489.4 290.1 L490.1 324.8"/>
<path d="M500.9 243.3 L502.6 240.0 L505.9 235.9 L510.8 232.6 L517.4 230.1 L525.6 228.5 L533.9 226.8 L540.5 226.0 L545.4 227.6 L547.1 224.4 L550.4 221.9 L553.6 220.7 L558.6 217.8 L563.5 213.6 L568.5 208.7 L573.4 203.8 L578.4 200.5 L581.6 198.8"/>
<path d="M500.9 243.3 L502.6 245.4 L505.9 245.8 L510.8 244.1 L513.3 244.9 L517.4 242.5 L525.6 240.8 L533.9 241.2 L540.5 242.5 L547.1 241.6 L552.0 239.2 L555.3 235.9 L558.6 232.6 L559.4 227.6 L558.6 224.4 L561.1 221.1 L564.4 217.8 L569.3 212.8 L574.2 207.1 L581.6 201.0"/>
<path d="M513.3 244.9 L514.1 249.1 L516.6 254.0"/>
<path d="M510.8 170.0 L514.1 172.5 L522.4 174.9 L532.2 176.6 L538.8 180.7 L543.8 183.2 L547.1 186.5 L553.6 190.6 L558.6 190.6 L561.9 192.2 L566.8 188.9 L573.4 186.5 L580.0 185.6"/>
<path d="M650.7 115.8 L649.1 119.9 L646.6 124.9 L644.1 131.5 L640.8 136.4 L639.2 141.4 L635.9 146.3 L632.6 151.2 L633.4 151.6 L637.5 149.6 L642.5 144.6 L644.9 139.7 L647.4 134.8 L650.7 129.8 L654.0 124.9 L657.3 119.9 L660.1 115.8"/>
<path d="M566.7 188.3 L570.0 187.5 L576.6 185.8 L582.4 185.8 L584.8 189.1 L586.5 194.1 L582.4 199.0 L576.6 201.5 L570.0 205.6 L566.7 207.2"/>
<path d="M581.5 199.5 L632.3 194.1"/>
<path d="M638.4 186.2 L642.5 184.2 L644.1 180.1 L646.6 175.9 L647.4 171.0 L649.1 164.4 L650.7 156.2 L652.4 151.2 L655.6 144.6 L659.8 134.8 L662.2 133.9 L664.2 137.2 L668.8 135.6 L675.4 132.3 L679.5 133.9 L683.6 136.4 L685.3 147.9 L688.6 164.4 L691.1 169.4 L694.4 171.0 L696.0 177.6 L700.1 179.2 L703.4 181.2"/>
<path d="M664.2 137.2 L668.8 131.5 L671.8 124.9 L670.8 119.9 L675.4 118.3 L685.3 117.5 L693.5 116.3"/>
<path d="M605.4 196.5 L604.6 203.9 L603.8 210.5 L604.6 218.8 L605.4 227.0 L607.1 235.1"/>
<path d="M703.4 190.4 L698.5 193.2 L693.5 195.7 L688.6 198.2 L683.6 199.8 L679.5 200.6 L677.1 203.9 L675.4 208.9 L672.1 212.2 L667.2 214.6 L662.2 217.9 L658.9 219.6 L657.3 223.7 L655.6 228.6 L654.0 235.1" stroke-width="2.6"/>
<path d="M603.8 215.0 L605.4 221.6 L607.9 231.5 L609.5 239.7 L610.4 247.9 L608.7 263.6 L608.7 277.6 L609.5 284.2 L607.1 287.5"/>
<path d="M610.4 247.9 L621.9 246.6 L642.5 244.6 L647.4 242.2 L651.0 239.7"/>
<path d="M670.5 215.0 L663.9 217.5 L659.8 220.8 L657.3 224.9 L655.6 229.8 L653.2 234.8 L651.5 239.7 L652.4 244.6 L654.0 246.3 L650.7 249.6 L649.1 253.7 L652.4 255.4 L655.6 257.8 L657.3 261.9 L660.6 264.4 L664.7 265.2 L668.0 263.6 L668.8 260.3 L666.4 257.5 L663.9 258.2 L665.5 260.3 L666.8 262.8 L664.7 264.1 L664.7 266.1 L658.9 267.7 L654.8 270.2 L651.5 271.8 L649.1 271.0 L647.4 272.6 L644.9 271.8 L643.3 275.1 L638.4 276.8 L632.6 278.4 L626.0 280.1 L619.4 282.5 L612.8 285.0 L607.1 287.5 L603.8 289.1 L602.1 294.1 L600.5 300.6 L602.9 303.9 L603.8 310.5 L602.9 317.1 L601.3 323.7 L598.0 330.3 L594.7 335.1"/>
<path d="M608.7 263.6 L637.5 261.9 L643.3 261.6 L644.9 264.4"/>
<path d="M637.9 261.9 L638.4 276.8"/>
<path d="M600.5 300.6 L601.3 297.4 L607.9 292.4 L614.5 289.1 L621.1 286.6 L627.6 284.2 L634.2 282.5 L638.4 283.0 L635.1 285.5 L630.1 287.5 L635.9 286.2 L630.9 289.4 L624.4 292.4 L616.1 295.7 L607.9 298.2 L600.5 300.6"/>
<path d="M644.9 266.1 L647.4 266.9 L648.7 271.8 L646.6 272.6 L644.4 270.2 L644.9 266.1" stroke-width="2.5"/>
<path d="M654.8 273.0 L658.1 271.8 L660.6 273.5 L657.3 274.6 L654.8 273.0"/>
<path d="M665.5 275.1 L669.6 273.5 L670.1 275.9 L666.4 276.3 L665.5 275.1"/>
<path d="M588.1 282.5 L603.8 289.1"/>
<path d="M569.2 268.5 L576.6 269.4 L580.7 271.8 L583.2 278.4 L588.1 282.5 L586.5 287.5 L584.0 292.4 L583.2 297.4 L585.6 302.3 L588.9 307.2 L591.1 309.2"/>
<path d="M491.2 326.0 L511.6 325.4 L530.0 324.7 L552.6 323.3 L575.2 321.5"/>
<path d="M575.2 321.5 L577.3 350.1 L587.9 349.1"/>
<path d="M583.6 299.3 L586.5 304.2 L589.3 307.8 L591.4 310.6 L587.9 313.4 L584.4 316.2 L580.1 319.1 L578.7 322.6 L579.4 326.8 L581.5 330.4 L584.4 332.5 L587.2 334.6 L589.3 338.1 L588.6 342.4 L587.9 349.1 L587.2 355.1 L584.4 360.7 L581.5 366.4 L579.4 372.0 L577.3 377.6 L575.5 381.2 L574.5 376.2 L575.9 370.6 L578.0 364.9 L580.1 360.7 L577.3 362.1 L575.2 360.7 L573.8 356.5 L572.4 352.9 L570.9 348.7 L570.2 343.8 L568.8 339.5 L567.4 335.3 L568.8 331.1 L571.6 327.5 L572.4 325.4 L569.5 325.4 L566.7 328.2 L563.9 331.8 L561.8 335.3 L561.1 339.5 L563.2 343.8 L564.6 348.0 L566.0 352.2 L567.4 356.5 L568.1 362.1 L569.5 367.8 L570.2 373.4 L569.5 379.1 L570.9 383.3 L573.8 385.4 L575.2 385.4 L577.3 390.4 L579.4 393.2 L582.9 403.1 L585.8 410.1 L587.2 417.2 L587.6 421.4"/>
<path d="M581.5 319.1 L583.6 323.3 L586.5 327.5 L590.0 330.4 L592.8 333.2 L590.7 338.1 L592.8 336.0 L596.4 331.1"/>
<path d="M568.1 362.1 L563.9 359.3 L559.6 355.8 L556.1 352.2 L551.9 351.5 L549.8 348.7 L552.6 345.2 L554.7 342.4 L552.6 340.9 L548.4 338.1 L544.1 335.3 L540.6 333.2 L538.5 329.6 L536.4 326.8 L532.8 327.5 L530.0 329.2"/>
<path d="M569.5 367.5 L565.3 365.6 L561.1 362.1 L557.5 358.6" stroke-width="2.2"/>
<path d="M570.2 373.4 L566.7 372.0 L562.5 368.9 L559.4 366.1" stroke-width="2.2"/>
<path d="M571.6 383.3 L568.1 379.8 L564.6 376.9 L561.1 374.8 L558.2 373.4" stroke-width="2.2"/>
<path d="M511.6 397.1 L530.0 396.3 L554.7 395.0 L579.4 393.2"/>
<path d="M562.5 400.2 L564.6 404.5 L568.1 405.2 L572.4 403.1 L575.2 401.6 L578.7 404.5 L576.6 408.7 L572.4 410.1 L576.6 412.9 L579.4 411.5 L581.5 407.3 L580.8 401.6" stroke-width="2.2"/>
<path d="M370.3 280.1 L368.8 312.1 L366.9 336.5 L366.0 344.1 L362.2 353.5 L358.5 361.0 L355.6 367.6"/>
<path d="M415.9 279.7 L415.9 340.3"/>
<path d="M415.9 340.3 L412.1 345.9 L406.5 348.8 L402.7 353.5 L397.1 359.1 L393.3 362.9 L389.5 361.0 L383.9 364.8 L378.2 363.8 L374.5 367.6 L368.8 364.8 L363.2 366.6 L355.6 367.6 L354.7 372.3 L349.1 377.9 L346.2 382.6 L342.5 379.8 L336.8 381.7 L335.3 384.5"/>
<path d="M415.9 340.3 L419.6 341.2 L423.4 344.1 L428.1 347.8 L433.8 349.7 L440.4 353.5 L447.9 350.6 L451.6 353.5 L457.3 355.4 L462.0 345.9 L466.7 344.1 L468.6 340.3 L474.2 335.6 L478.0 333.7"/>
<path d="M457.3 355.4 L459.2 362.9 L464.8 376.1 L467.6 377.9 L461.1 381.7 L449.8 390.2 L438.5 397.3"/>
<path d="M328.4 395.8 L354.7 396.8 L355.1 394.1 L397.1 396.2 L438.5 397.7 L478.0 396.8 L511.9 395.3"/>
<path d="M471.4 397.1 L466.7 404.3 L457.3 409.9 L449.8 413.7 L442.2 417.5 L434.7 421.2 L429.1 425.0"/>
<path d="M490.6 305.5 L487.4 313.9 L486.5 321.5 L483.6 329.0 L476.1 334.6 L469.5 340.3 L464.8 344.1 L462.9 349.7 L457.3 353.5 L457.3 355.4"/>
<path d="M491.2 325.2 L509.1 325.2 L510.0 335.6 L513.8 332.8 L518.5 329.0 L522.2 326.2 L526.9 329.0 L531.6 326.2 L536.4 326.2 L539.2 329.9 L539.2 336.5"/>
<path d="M467.6 377.9 L471.4 383.2 L477.1 382.1 L483.6 379.4 L490.2 377.6 L496.4 375.1 L495.9 370.0 L499.6 364.8 L504.4 359.1 L506.2 354.4 L510.9 351.6 L515.6 345.9 L520.4 344.1 L525.1 339.4 L528.8 333.7 L534.5 333.7 L539.2 336.5 L543.9 338.8 L548.6 340.3"/>
<path d="M206.0 539.2 L208.8 537.4 L211.6 538.3 L210.7 541.1 L207.9 543.0 L208.8 547.7"/>
<path d="M318.0 429.7 L350.9 432.3 L398.9 433.8 L423.4 434.2 L457.3 430.1"/>
<path d="M350.9 432.3 L347.2 471.5 L341.5 505.4 L339.6 537.4"/>
<path d="M398.9 433.8 L408.4 486.5 L410.2 495.9 L406.5 503.5 L406.5 512.9 L407.4 522.3 L410.2 531.7"/>
<path d="M359.4 535.5 L357.5 529.8 L356.6 523.8 L407.4 526.1"/>
<path d="M410.2 531.7 L462.9 535.5 L464.8 540.2 L466.7 532.6 L478.0 531.7"/>
<path d="M457.3 430.1 L441.3 438.5 L447.9 445.1 L453.5 455.5 L459.2 463.0 L468.6 473.4 L476.1 480.9 L478.0 484.6"/>
<path d="M423.4 434.2 L424.4 429.1 L430.9 424.4 L438.5 421.6 L446.0 416.9 L448.8 415.0"/>
<path d="M318.0 538.3 L323.6 536.4 L331.2 535.5 L339.6 537.4 L346.2 538.3 L348.1 530.8 L350.0 537.4 L352.8 540.2 L359.4 536.4 L366.9 535.5 L374.5 537.4 L382.0 538.3 L389.5 541.1 L395.2 544.9 L398.9 550.5 L400.8 555.2 L406.5 557.1 L414.0 554.3 L419.6 549.6 L425.3 547.7 L430.9 549.6 L436.6 555.2 L442.2 563.7 L447.9 569.0 L449.8 571.2"/>
<path d="M457.3 430.4 L484.6 431.0 L489.3 437.2 L510.0 437.6 L530.7 458.3"/>
<path d="M446.0 446.1 L450.7 450.8 L457.3 462.1 L461.1 464.9 L468.6 473.4 L476.1 481.8 L480.8 490.3 L484.6 499.7 L489.3 502.5"/>
<path d="M587.2 411.2 L587.2 422.5 L571.2 436.6 L566.5 437.6 L554.2 441.4 L547.6 447.0 L542.9 456.4 L532.6 458.3 L525.1 464.9 L520.4 473.4 L512.8 479.9 L504.4 486.5 L495.9 492.2 L489.3 502.5 L484.6 509.1 L480.8 517.6 L478.9 526.1 L478.4 535.5 L480.8 546.8 L484.6 558.1 L489.3 568.4 L491.2 571.2"/>
<path d="M446.0 534.5 L463.9 535.5 L464.8 540.7 L466.7 531.7 L477.1 532.6 L478.4 531.7"/>
<path d="M562.4 400.3 L563.5 405.0 L567.1 406.2 L570.6 405.0 L575.3 404.4 L578.8 405.6 L581.2 408.5 L581.8 414.4 L578.8 419.1 L575.3 420.9 L571.8 420.3 L567.1 419.1 L562.4 420.3 L558.8 418.5" stroke-width="2.0"/>
<path d="M571.8 420.3 L568.2 423.8 L564.7 427.4 L561.2 429.7 L558.8 428.5" stroke-width="2.2"/>
<path d="M583.5 425.6 L578.8 426.8 L574.1 428.5 L569.4 429.7 L571.8 432.1 L570.6 436.8" stroke-width="2.0"/>
<path d="M499.9 115.0 L500.1 133.8 L500.4 148.9 L502.7 156.4 L506.5 163.9 L510.8 170.0"/>
<path d="M605.2 195.7 L604.6 203.9 L604.1 210.2" stroke-width="2.6"/>
<path d="M638.4 186.2 L639.2 187.4 L645.4 228.6 L648.7 232.7 L650.4 236.8"/>
<path d="M632.2 194.0 L633.9 187.8 L638.4 186.2"/>
<path d="M633.9 187.8 L632.6 194.0 L631.8 198.9 L632.6 203.9 L629.8 208.0 L626.1 210.5 L625.2 215.4 L624.0 222.8 L622.4 229.4 L621.9 237.7 L621.6 246.4"/>
<path d="M563.9 331.8 L561.8 335.3 L561.1 339.5 L563.2 343.8 L564.6 348.0 L566.0 352.2 L567.4 356.5 L568.1 362.1 L563.9 359.3 L559.6 355.8 L556.1 352.2" stroke-width="2.2"/>
<path d="M572.4 352.9 L573.8 356.5 L575.2 360.7 L577.3 362.1 L580.1 360.7" stroke-width="2.0"/>
<path d="M190.9 560.9 L192.8 559.9 L201.3 554.3 L208.8 547.7 L218.2 544.9 L229.5 543.0 L238.9 543.0 L250.2 546.8"/>
<path d="M250.0 547.1 L254.7 549.4 L260.6 550.0 L262.9 547.1 L267.6 545.3 L271.2 547.6 L268.8 550.6 L273.5 551.8 L277.1 554.1 L279.4 557.6 L282.4 558.8 L285.3 562.4 L290.0 564.1 L294.7 561.8 L297.1 560.0 L299.4 561.8 L301.8 563.5 L304.7 561.2 L306.5 558.2 L308.8 558.8 L307.6 561.2 L311.2 560.0 L312.4 556.5 L315.9 558.8 L319.4 563.5 L322.9 565.9 L325.3 564.7 L323.5 562.4 L320.6 559.4 L317.1 555.3 L314.1 552.9 L315.9 550.6 L319.4 549.4 L321.8 545.3 L322.9 542.4 L319.4 542.9 L315.9 544.7 L312.9 545.3 L311.2 542.4 L314.1 541.2 L318.2 539.4" stroke-width="1.9"/>
<path d="M298.8 538.8 L300.0 535.9 L302.9 534.7 L306.5 535.1 L309.4 537.1 L310.6 539.4 L308.8 541.8 L305.3 542.9 L301.8 542.4 L299.4 540.9 L298.8 538.8" stroke-width="1.8"/>
<path d="M296.2 537.4 L297.1 536.0 L298.5 536.2 L298.9 537.6 L298.0 538.8 L296.7 538.6 L296.2 537.4"/>
<path d="M330.0 544.1 L330.8 548.2 L329.4 551.2 L327.6 553.2"/>
</g></g>
<rect x="192.3" y="116.8" width="510.4" height="452.4" fill="none" stroke="#000" stroke-width="1.2"/>
<line x1="181" y1="159.8" x2="192.3" y2="159.8" stroke="#000" stroke-width="1"/>
<text x="146.8" y="164.0" font-size="11.2" text-anchor="start" xml:space="preserve" textLength="27.3" lengthAdjust="spacingAndGlyphs">46°N</text>
<line x1="181" y1="206.1" x2="192.3" y2="206.1" stroke="#000" stroke-width="1"/>
<text x="146.8" y="210.3" font-size="11.2" text-anchor="start" xml:space="preserve" textLength="27.3" lengthAdjust="spacingAndGlyphs">44°N</text>
<line x1="181" y1="252.4" x2="192.3" y2="252.4" stroke="#000" stroke-width="1"/>
<text x="146.8" y="256.6" font-size="11.2" text-anchor="start" xml:space="preserve" textLength="27.3" lengthAdjust="spacingAndGlyphs">42°N</text>
<line x1="181" y1="298.8" x2="192.3" y2="298.8" stroke="#000" stroke-width="1"/>
<text x="146.8" y="303.0" font-size="11.2" text-anchor="start" xml:space="preserve" textLength="27.3" lengthAdjust="spacingAndGlyphs">40°N</text>
<line x1="181" y1="345.1" x2="192.3" y2="345.1" stroke="#000" stroke-width="1"/>
<text x="146.8" y="349.3" font-size="11.2" text-anchor="start" xml:space="preserve" textLength="27.3" lengthAdjust="spacingAndGlyphs">38°N</text>
<line x1="181" y1="391.4" x2="192.3" y2="391.4" stroke="#000" stroke-width="1"/>
<text x="146.8" y="395.6" font-size="11.2" text-anchor="start" xml:space="preserve" textLength="27.3" lengthAdjust="spacingAndGlyphs">36°N</text>
<line x1="181" y1="437.8" x2="192.3" y2="437.8" stroke="#000" stroke-width="1"/>
<text x="146.8" y="442.0" font-size="11.2" text-anchor="start" xml:space="preserve" textLength="27.3" lengthAdjust="spacingAndGlyphs">34°N</text>
<line x1="181" y1="484.1" x2="192.3" y2="484.1" stroke="#000" stroke-width="1"/>
<text x="146.8" y="488.3" font-size="11.2" text-anchor="start" xml:space="preserve" textLength="27.3" lengthAdjust="spacingAndGlyphs">32°N</text>
<line x1="181" y1="530.5" x2="192.3" y2="530.5" stroke="#000" stroke-width="1"/>
<text x="146.8" y="534.7" font-size="11.2" text-anchor="start" xml:space="preserve" textLength="27.3" lengthAdjust="spacingAndGlyphs">30°N</text>
<line x1="202.4" y1="569.2" x2="202.4" y2="580.5" stroke="#000" stroke-width="1"/>
<text x="187.2" y="597.6" font-size="11.2" text-anchor="start" xml:space="preserve" textLength="30.2" lengthAdjust="spacingAndGlyphs">95°W</text>
<line x1="304.6" y1="569.2" x2="304.6" y2="580.5" stroke="#000" stroke-width="1"/>
<text x="289.4" y="597.6" font-size="11.2" text-anchor="start" xml:space="preserve" textLength="30.2" lengthAdjust="spacingAndGlyphs">90°W</text>
<line x1="406.8" y1="569.2" x2="406.8" y2="580.5" stroke="#000" stroke-width="1"/>
<text x="391.6" y="597.6" font-size="11.2" text-anchor="start" xml:space="preserve" textLength="30.2" lengthAdjust="spacingAndGlyphs">85°W</text>
<line x1="508.9" y1="569.2" x2="508.9" y2="580.5" stroke="#000" stroke-width="1"/>
<text x="493.7" y="597.6" font-size="11.2" text-anchor="start" xml:space="preserve" textLength="30.2" lengthAdjust="spacingAndGlyphs">80°W</text>
<line x1="610.6" y1="569.2" x2="610.6" y2="580.5" stroke="#000" stroke-width="1"/>
<text x="595.4" y="597.6" font-size="11.2" text-anchor="start" xml:space="preserve" textLength="30.2" lengthAdjust="spacingAndGlyphs">75°W</text>
<text x="191.4" y="24.9" font-size="16.8" text-anchor="start" xml:space="preserve" textLength="305.0" lengthAdjust="spacingAndGlyphs">IWFAQRP Eastern US Real Time WRF</text>
<text x="569.6" y="24.4" font-size="11" text-anchor="start" xml:space="preserve" textLength="134.2" lengthAdjust="spacingAndGlyphs">Init: 2026-02-10_00:00:00</text>
<text x="559.6" y="37.7" font-size="11" text-anchor="start" xml:space="preserve" textLength="144.2" lengthAdjust="spacingAndGlyphs">Valid: 2026-02-12_00:00:00</text>
<text x="195.2" y="100.8" font-size="11.2" text-anchor="start" xml:space="preserve" textLength="227.6" lengthAdjust="spacingAndGlyphs">AFWA Diagnostic: Surface Lifted Index   (K)</text>
<text x="329.4" y="627.0" font-size="12" text-anchor="start" xml:space="preserve" textLength="237.4" lengthAdjust="spacingAndGlyphs">AFWA Diagnostic: Surface Lifted Index  (K)</text>
<text x="193.8" y="826.0" font-size="9.9" text-anchor="start" xml:space="preserve" textLength="178.4" lengthAdjust="spacingAndGlyphs">OUTPUT FROM WRF V4.6.1 MODEL</text>
<text x="193.8" y="838.0" font-size="9.9" text-anchor="start" xml:space="preserve" textLength="414.6" lengthAdjust="spacingAndGlyphs">WE = 310 ; SN = 275 ; Levels = 38 ; Dis = 8km ; Phys Opt = 8 ; PBL Opt = 1 ; Cu Opt = 3</text>
<rect x="228.70" y="633.2" width="19.89" height="17.6" fill="#a50026" stroke="#000" stroke-width="0.7"/>
<rect x="248.59" y="633.2" width="19.89" height="17.6" fill="#be1827" stroke="#000" stroke-width="0.7"/>
<rect x="268.48" y="633.2" width="19.89" height="17.6" fill="#d62f27" stroke="#000" stroke-width="0.7"/>
<rect x="288.37" y="633.2" width="19.89" height="17.6" fill="#e54e35" stroke="#000" stroke-width="0.7"/>
<rect x="308.26" y="633.2" width="19.89" height="17.6" fill="#f46d43" stroke="#000" stroke-width="0.7"/>
<rect x="328.15" y="633.2" width="19.89" height="17.6" fill="#f98e52" stroke="#000" stroke-width="0.7"/>
<rect x="348.05" y="633.2" width="19.89" height="17.6" fill="#fdad60" stroke="#000" stroke-width="0.7"/>
<rect x="367.94" y="633.2" width="19.89" height="17.6" fill="#fdc778" stroke="#000" stroke-width="0.7"/>
<rect x="387.83" y="633.2" width="19.89" height="17.6" fill="#fee090" stroke="#000" stroke-width="0.7"/>
<rect x="407.72" y="633.2" width="19.89" height="17.6" fill="#fff0a8" stroke="#000" stroke-width="0.7"/>
<rect x="427.61" y="633.2" width="19.89" height="17.6" fill="#fdfdc0" stroke="#000" stroke-width="0.7"/>
<rect x="447.50" y="633.2" width="19.89" height="17.6" fill="#f5fbd2" stroke="#000" stroke-width="0.7"/>
<rect x="467.39" y="633.2" width="19.89" height="17.6" fill="#e6f5ec" stroke="#000" stroke-width="0.7"/>
<rect x="487.28" y="633.2" width="19.89" height="17.6" fill="#d0ebf3" stroke="#000" stroke-width="0.7"/>
<rect x="507.17" y="633.2" width="19.89" height="17.6" fill="#b8e0ed" stroke="#000" stroke-width="0.7"/>
<rect x="527.06" y="633.2" width="19.89" height="17.6" fill="#a3d3e6" stroke="#000" stroke-width="0.7"/>
<rect x="546.95" y="633.2" width="19.89" height="17.6" fill="#89bedc" stroke="#000" stroke-width="0.7"/>
<rect x="566.85" y="633.2" width="19.89" height="17.6" fill="#70a9cf" stroke="#000" stroke-width="0.7"/>
<rect x="586.74" y="633.2" width="19.89" height="17.6" fill="#5a8fc2" stroke="#000" stroke-width="0.7"/>
<rect x="606.63" y="633.2" width="19.89" height="17.6" fill="#4575b4" stroke="#000" stroke-width="0.7"/>
<rect x="626.52" y="633.2" width="19.89" height="17.6" fill="#3b55a5" stroke="#000" stroke-width="0.7"/>
<rect x="646.41" y="633.2" width="19.89" height="17.6" fill="#313695" stroke="#000" stroke-width="0.7"/>
<text x="240.1" y="673.6" font-size="11.4" text-anchor="start" xml:space="preserve" textLength="17.5" lengthAdjust="spacingAndGlyphs">-40</text>
<text x="279.8" y="673.6" font-size="11.4" text-anchor="start" xml:space="preserve" textLength="17.5" lengthAdjust="spacingAndGlyphs">-32</text>
<text x="319.6" y="673.6" font-size="11.4" text-anchor="start" xml:space="preserve" textLength="17.5" lengthAdjust="spacingAndGlyphs">-24</text>
<text x="359.4" y="673.6" font-size="11.4" text-anchor="start" xml:space="preserve" textLength="17.5" lengthAdjust="spacingAndGlyphs">-16</text>
<text x="402.5" y="673.6" font-size="11.4" text-anchor="start" xml:space="preserve" textLength="10.7" lengthAdjust="spacingAndGlyphs">-8</text>
<text x="444.3" y="673.6" font-size="11.4" text-anchor="start" xml:space="preserve" textLength="6.7" lengthAdjust="spacingAndGlyphs">0</text>
<text x="484.1" y="673.6" font-size="11.4" text-anchor="start" xml:space="preserve" textLength="6.7" lengthAdjust="spacingAndGlyphs">8</text>
<text x="520.5" y="673.6" font-size="11.4" text-anchor="start" xml:space="preserve" textLength="13.4" lengthAdjust="spacingAndGlyphs">16</text>
<text x="560.3" y="673.6" font-size="11.4" text-anchor="start" xml:space="preserve" textLength="13.4" lengthAdjust="spacingAndGlyphs">24</text>
<text x="600.1" y="673.6" font-size="11.4" text-anchor="start" xml:space="preserve" textLength="13.4" lengthAdjust="spacingAndGlyphs">32</text>
<text x="639.9" y="673.6" font-size="11.4" text-anchor="start" xml:space="preserve" textLength="13.4" lengthAdjust="spacingAndGlyphs">40</text>
</svg></body></html>
